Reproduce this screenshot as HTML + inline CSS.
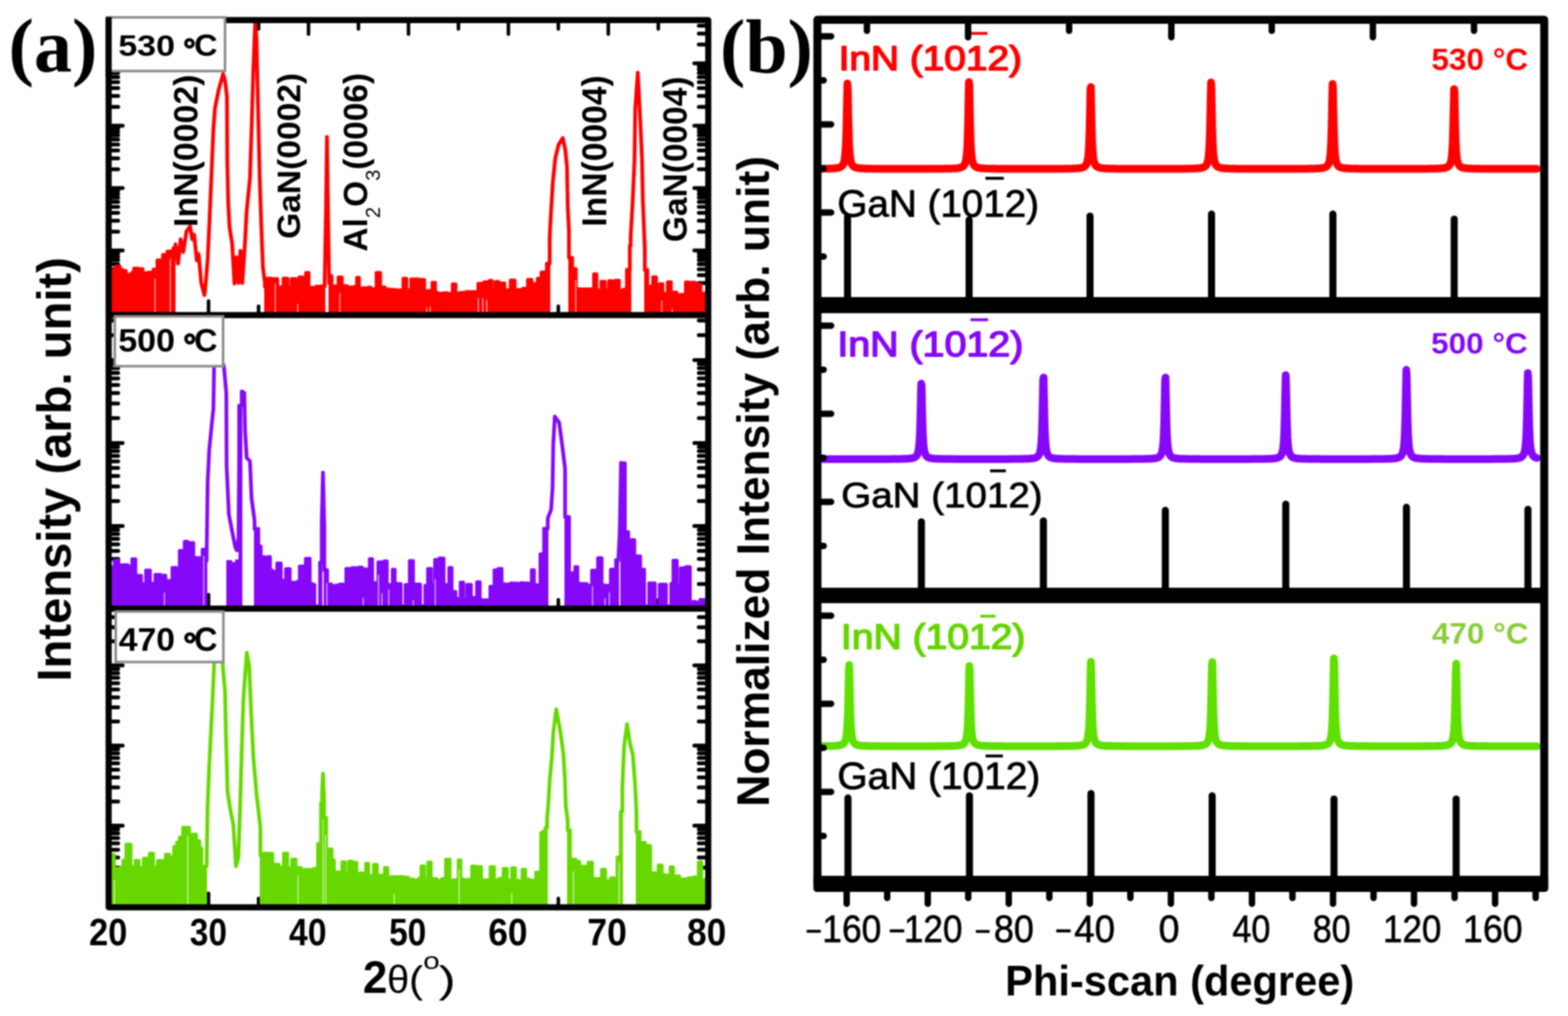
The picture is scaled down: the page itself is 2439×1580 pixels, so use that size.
<!DOCTYPE html>
<html><head><meta charset="utf-8"><title>XRD and Phi-scan</title>
<style>html,body{margin:0;padding:0;background:#fff;} svg{display:block;filter:blur(1px);}</style>
</head><body>
<svg width="2439" height="1580" viewBox="0 0 2439 1580"><defs>
<clipPath id="ca0"><rect x="169.0" y="31.3" width="932.7" height="458.7"/></clipPath>
<clipPath id="ca1"><rect x="169.0" y="490.0" width="932.7" height="456.5"/></clipPath>
<clipPath id="ca2"><rect x="169.0" y="946.5" width="932.7" height="464.5"/></clipPath>
</defs>
<line x1="246.7" y1="485.2" x2="246.7" y2="476.2" stroke="#000" stroke-width="5.5" stroke-linecap="round"/>
<line x1="246.7" y1="36.0" x2="246.7" y2="45.0" stroke="#000" stroke-width="5.5" stroke-linecap="round"/>
<line x1="324.4" y1="485.2" x2="324.4" y2="468.2" stroke="#000" stroke-width="5.5" stroke-linecap="round"/>
<line x1="324.4" y1="36.0" x2="324.4" y2="53.0" stroke="#000" stroke-width="5.5" stroke-linecap="round"/>
<line x1="402.2" y1="485.2" x2="402.2" y2="476.2" stroke="#000" stroke-width="5.5" stroke-linecap="round"/>
<line x1="402.2" y1="36.0" x2="402.2" y2="45.0" stroke="#000" stroke-width="5.5" stroke-linecap="round"/>
<line x1="479.9" y1="485.2" x2="479.9" y2="468.2" stroke="#000" stroke-width="5.5" stroke-linecap="round"/>
<line x1="479.9" y1="36.0" x2="479.9" y2="53.0" stroke="#000" stroke-width="5.5" stroke-linecap="round"/>
<line x1="557.6" y1="485.2" x2="557.6" y2="476.2" stroke="#000" stroke-width="5.5" stroke-linecap="round"/>
<line x1="557.6" y1="36.0" x2="557.6" y2="45.0" stroke="#000" stroke-width="5.5" stroke-linecap="round"/>
<line x1="635.4" y1="485.2" x2="635.4" y2="468.2" stroke="#000" stroke-width="5.5" stroke-linecap="round"/>
<line x1="635.4" y1="36.0" x2="635.4" y2="53.0" stroke="#000" stroke-width="5.5" stroke-linecap="round"/>
<line x1="713.1" y1="485.2" x2="713.1" y2="476.2" stroke="#000" stroke-width="5.5" stroke-linecap="round"/>
<line x1="713.1" y1="36.0" x2="713.1" y2="45.0" stroke="#000" stroke-width="5.5" stroke-linecap="round"/>
<line x1="790.8" y1="485.2" x2="790.8" y2="468.2" stroke="#000" stroke-width="5.5" stroke-linecap="round"/>
<line x1="790.8" y1="36.0" x2="790.8" y2="53.0" stroke="#000" stroke-width="5.5" stroke-linecap="round"/>
<line x1="868.5" y1="485.2" x2="868.5" y2="476.2" stroke="#000" stroke-width="5.5" stroke-linecap="round"/>
<line x1="868.5" y1="36.0" x2="868.5" y2="45.0" stroke="#000" stroke-width="5.5" stroke-linecap="round"/>
<line x1="946.2" y1="485.2" x2="946.2" y2="468.2" stroke="#000" stroke-width="5.5" stroke-linecap="round"/>
<line x1="946.2" y1="36.0" x2="946.2" y2="53.0" stroke="#000" stroke-width="5.5" stroke-linecap="round"/>
<line x1="1024.0" y1="485.2" x2="1024.0" y2="476.2" stroke="#000" stroke-width="5.5" stroke-linecap="round"/>
<line x1="1024.0" y1="36.0" x2="1024.0" y2="45.0" stroke="#000" stroke-width="5.5" stroke-linecap="round"/>
<line x1="173.8" y1="457.3" x2="183.8" y2="457.3" stroke="#000" stroke-width="6" stroke-linecap="round"/>
<line x1="1097.0" y1="457.3" x2="1087.0" y2="457.3" stroke="#000" stroke-width="6" stroke-linecap="round"/>
<line x1="173.8" y1="440.2" x2="183.8" y2="440.2" stroke="#000" stroke-width="6" stroke-linecap="round"/>
<line x1="1097.0" y1="440.2" x2="1087.0" y2="440.2" stroke="#000" stroke-width="6" stroke-linecap="round"/>
<line x1="173.8" y1="428.1" x2="183.8" y2="428.1" stroke="#000" stroke-width="6" stroke-linecap="round"/>
<line x1="1097.0" y1="428.1" x2="1087.0" y2="428.1" stroke="#000" stroke-width="6" stroke-linecap="round"/>
<line x1="173.8" y1="418.7" x2="183.8" y2="418.7" stroke="#000" stroke-width="6" stroke-linecap="round"/>
<line x1="1097.0" y1="418.7" x2="1087.0" y2="418.7" stroke="#000" stroke-width="6" stroke-linecap="round"/>
<line x1="173.8" y1="411.0" x2="183.8" y2="411.0" stroke="#000" stroke-width="6" stroke-linecap="round"/>
<line x1="1097.0" y1="411.0" x2="1087.0" y2="411.0" stroke="#000" stroke-width="6" stroke-linecap="round"/>
<line x1="173.8" y1="404.5" x2="183.8" y2="404.5" stroke="#000" stroke-width="6" stroke-linecap="round"/>
<line x1="1097.0" y1="404.5" x2="1087.0" y2="404.5" stroke="#000" stroke-width="6" stroke-linecap="round"/>
<line x1="173.8" y1="398.9" x2="183.8" y2="398.9" stroke="#000" stroke-width="6" stroke-linecap="round"/>
<line x1="1097.0" y1="398.9" x2="1087.0" y2="398.9" stroke="#000" stroke-width="6" stroke-linecap="round"/>
<line x1="173.8" y1="393.9" x2="183.8" y2="393.9" stroke="#000" stroke-width="6" stroke-linecap="round"/>
<line x1="1097.0" y1="393.9" x2="1087.0" y2="393.9" stroke="#000" stroke-width="6" stroke-linecap="round"/>
<line x1="173.8" y1="389.5" x2="190.8" y2="389.5" stroke="#000" stroke-width="6" stroke-linecap="round"/>
<line x1="1097.0" y1="389.5" x2="1080.0" y2="389.5" stroke="#000" stroke-width="6" stroke-linecap="round"/>
<line x1="173.8" y1="360.3" x2="183.8" y2="360.3" stroke="#000" stroke-width="6" stroke-linecap="round"/>
<line x1="1097.0" y1="360.3" x2="1087.0" y2="360.3" stroke="#000" stroke-width="6" stroke-linecap="round"/>
<line x1="173.8" y1="343.2" x2="183.8" y2="343.2" stroke="#000" stroke-width="6" stroke-linecap="round"/>
<line x1="1097.0" y1="343.2" x2="1087.0" y2="343.2" stroke="#000" stroke-width="6" stroke-linecap="round"/>
<line x1="173.8" y1="331.1" x2="183.8" y2="331.1" stroke="#000" stroke-width="6" stroke-linecap="round"/>
<line x1="1097.0" y1="331.1" x2="1087.0" y2="331.1" stroke="#000" stroke-width="6" stroke-linecap="round"/>
<line x1="173.8" y1="321.7" x2="183.8" y2="321.7" stroke="#000" stroke-width="6" stroke-linecap="round"/>
<line x1="1097.0" y1="321.7" x2="1087.0" y2="321.7" stroke="#000" stroke-width="6" stroke-linecap="round"/>
<line x1="173.8" y1="314.0" x2="183.8" y2="314.0" stroke="#000" stroke-width="6" stroke-linecap="round"/>
<line x1="1097.0" y1="314.0" x2="1087.0" y2="314.0" stroke="#000" stroke-width="6" stroke-linecap="round"/>
<line x1="173.8" y1="307.5" x2="183.8" y2="307.5" stroke="#000" stroke-width="6" stroke-linecap="round"/>
<line x1="1097.0" y1="307.5" x2="1087.0" y2="307.5" stroke="#000" stroke-width="6" stroke-linecap="round"/>
<line x1="173.8" y1="301.9" x2="183.8" y2="301.9" stroke="#000" stroke-width="6" stroke-linecap="round"/>
<line x1="1097.0" y1="301.9" x2="1087.0" y2="301.9" stroke="#000" stroke-width="6" stroke-linecap="round"/>
<line x1="173.8" y1="296.9" x2="183.8" y2="296.9" stroke="#000" stroke-width="6" stroke-linecap="round"/>
<line x1="1097.0" y1="296.9" x2="1087.0" y2="296.9" stroke="#000" stroke-width="6" stroke-linecap="round"/>
<line x1="173.8" y1="292.5" x2="190.8" y2="292.5" stroke="#000" stroke-width="6" stroke-linecap="round"/>
<line x1="1097.0" y1="292.5" x2="1080.0" y2="292.5" stroke="#000" stroke-width="6" stroke-linecap="round"/>
<line x1="173.8" y1="263.3" x2="183.8" y2="263.3" stroke="#000" stroke-width="6" stroke-linecap="round"/>
<line x1="1097.0" y1="263.3" x2="1087.0" y2="263.3" stroke="#000" stroke-width="6" stroke-linecap="round"/>
<line x1="173.8" y1="246.2" x2="183.8" y2="246.2" stroke="#000" stroke-width="6" stroke-linecap="round"/>
<line x1="1097.0" y1="246.2" x2="1087.0" y2="246.2" stroke="#000" stroke-width="6" stroke-linecap="round"/>
<line x1="173.8" y1="234.1" x2="183.8" y2="234.1" stroke="#000" stroke-width="6" stroke-linecap="round"/>
<line x1="1097.0" y1="234.1" x2="1087.0" y2="234.1" stroke="#000" stroke-width="6" stroke-linecap="round"/>
<line x1="173.8" y1="224.7" x2="183.8" y2="224.7" stroke="#000" stroke-width="6" stroke-linecap="round"/>
<line x1="1097.0" y1="224.7" x2="1087.0" y2="224.7" stroke="#000" stroke-width="6" stroke-linecap="round"/>
<line x1="173.8" y1="217.0" x2="183.8" y2="217.0" stroke="#000" stroke-width="6" stroke-linecap="round"/>
<line x1="1097.0" y1="217.0" x2="1087.0" y2="217.0" stroke="#000" stroke-width="6" stroke-linecap="round"/>
<line x1="173.8" y1="210.5" x2="183.8" y2="210.5" stroke="#000" stroke-width="6" stroke-linecap="round"/>
<line x1="1097.0" y1="210.5" x2="1087.0" y2="210.5" stroke="#000" stroke-width="6" stroke-linecap="round"/>
<line x1="173.8" y1="204.9" x2="183.8" y2="204.9" stroke="#000" stroke-width="6" stroke-linecap="round"/>
<line x1="1097.0" y1="204.9" x2="1087.0" y2="204.9" stroke="#000" stroke-width="6" stroke-linecap="round"/>
<line x1="173.8" y1="199.9" x2="183.8" y2="199.9" stroke="#000" stroke-width="6" stroke-linecap="round"/>
<line x1="1097.0" y1="199.9" x2="1087.0" y2="199.9" stroke="#000" stroke-width="6" stroke-linecap="round"/>
<line x1="173.8" y1="195.5" x2="190.8" y2="195.5" stroke="#000" stroke-width="6" stroke-linecap="round"/>
<line x1="1097.0" y1="195.5" x2="1080.0" y2="195.5" stroke="#000" stroke-width="6" stroke-linecap="round"/>
<line x1="173.8" y1="166.3" x2="183.8" y2="166.3" stroke="#000" stroke-width="6" stroke-linecap="round"/>
<line x1="1097.0" y1="166.3" x2="1087.0" y2="166.3" stroke="#000" stroke-width="6" stroke-linecap="round"/>
<line x1="173.8" y1="149.2" x2="183.8" y2="149.2" stroke="#000" stroke-width="6" stroke-linecap="round"/>
<line x1="1097.0" y1="149.2" x2="1087.0" y2="149.2" stroke="#000" stroke-width="6" stroke-linecap="round"/>
<line x1="173.8" y1="137.1" x2="183.8" y2="137.1" stroke="#000" stroke-width="6" stroke-linecap="round"/>
<line x1="1097.0" y1="137.1" x2="1087.0" y2="137.1" stroke="#000" stroke-width="6" stroke-linecap="round"/>
<line x1="173.8" y1="127.7" x2="183.8" y2="127.7" stroke="#000" stroke-width="6" stroke-linecap="round"/>
<line x1="1097.0" y1="127.7" x2="1087.0" y2="127.7" stroke="#000" stroke-width="6" stroke-linecap="round"/>
<line x1="173.8" y1="120.0" x2="183.8" y2="120.0" stroke="#000" stroke-width="6" stroke-linecap="round"/>
<line x1="1097.0" y1="120.0" x2="1087.0" y2="120.0" stroke="#000" stroke-width="6" stroke-linecap="round"/>
<line x1="173.8" y1="113.5" x2="183.8" y2="113.5" stroke="#000" stroke-width="6" stroke-linecap="round"/>
<line x1="1097.0" y1="113.5" x2="1087.0" y2="113.5" stroke="#000" stroke-width="6" stroke-linecap="round"/>
<line x1="173.8" y1="107.9" x2="183.8" y2="107.9" stroke="#000" stroke-width="6" stroke-linecap="round"/>
<line x1="1097.0" y1="107.9" x2="1087.0" y2="107.9" stroke="#000" stroke-width="6" stroke-linecap="round"/>
<line x1="173.8" y1="102.9" x2="183.8" y2="102.9" stroke="#000" stroke-width="6" stroke-linecap="round"/>
<line x1="1097.0" y1="102.9" x2="1087.0" y2="102.9" stroke="#000" stroke-width="6" stroke-linecap="round"/>
<line x1="173.8" y1="98.5" x2="190.8" y2="98.5" stroke="#000" stroke-width="6" stroke-linecap="round"/>
<line x1="1097.0" y1="98.5" x2="1080.0" y2="98.5" stroke="#000" stroke-width="6" stroke-linecap="round"/>
<line x1="173.8" y1="69.3" x2="183.8" y2="69.3" stroke="#000" stroke-width="6" stroke-linecap="round"/>
<line x1="1097.0" y1="69.3" x2="1087.0" y2="69.3" stroke="#000" stroke-width="6" stroke-linecap="round"/>
<line x1="173.8" y1="52.2" x2="183.8" y2="52.2" stroke="#000" stroke-width="6" stroke-linecap="round"/>
<line x1="1097.0" y1="52.2" x2="1087.0" y2="52.2" stroke="#000" stroke-width="6" stroke-linecap="round"/>
<line x1="173.8" y1="40.1" x2="183.8" y2="40.1" stroke="#000" stroke-width="6" stroke-linecap="round"/>
<line x1="1097.0" y1="40.1" x2="1087.0" y2="40.1" stroke="#000" stroke-width="6" stroke-linecap="round"/>
<line x1="246.7" y1="941.8" x2="246.7" y2="932.8" stroke="#000" stroke-width="5.5" stroke-linecap="round"/>
<line x1="324.4" y1="941.8" x2="324.4" y2="924.8" stroke="#000" stroke-width="5.5" stroke-linecap="round"/>
<line x1="402.2" y1="941.8" x2="402.2" y2="932.8" stroke="#000" stroke-width="5.5" stroke-linecap="round"/>
<line x1="479.9" y1="941.8" x2="479.9" y2="924.8" stroke="#000" stroke-width="5.5" stroke-linecap="round"/>
<line x1="557.6" y1="941.8" x2="557.6" y2="932.8" stroke="#000" stroke-width="5.5" stroke-linecap="round"/>
<line x1="635.4" y1="941.8" x2="635.4" y2="924.8" stroke="#000" stroke-width="5.5" stroke-linecap="round"/>
<line x1="713.1" y1="941.8" x2="713.1" y2="932.8" stroke="#000" stroke-width="5.5" stroke-linecap="round"/>
<line x1="790.8" y1="941.8" x2="790.8" y2="924.8" stroke="#000" stroke-width="5.5" stroke-linecap="round"/>
<line x1="868.5" y1="941.8" x2="868.5" y2="932.8" stroke="#000" stroke-width="5.5" stroke-linecap="round"/>
<line x1="946.2" y1="941.8" x2="946.2" y2="924.8" stroke="#000" stroke-width="5.5" stroke-linecap="round"/>
<line x1="1024.0" y1="941.8" x2="1024.0" y2="932.8" stroke="#000" stroke-width="5.5" stroke-linecap="round"/>
<line x1="173.8" y1="908.2" x2="183.8" y2="908.2" stroke="#000" stroke-width="6" stroke-linecap="round"/>
<line x1="1097.0" y1="908.2" x2="1087.0" y2="908.2" stroke="#000" stroke-width="6" stroke-linecap="round"/>
<line x1="173.8" y1="885.5" x2="183.8" y2="885.5" stroke="#000" stroke-width="6" stroke-linecap="round"/>
<line x1="1097.0" y1="885.5" x2="1087.0" y2="885.5" stroke="#000" stroke-width="6" stroke-linecap="round"/>
<line x1="173.8" y1="869.3" x2="183.8" y2="869.3" stroke="#000" stroke-width="6" stroke-linecap="round"/>
<line x1="1097.0" y1="869.3" x2="1087.0" y2="869.3" stroke="#000" stroke-width="6" stroke-linecap="round"/>
<line x1="173.8" y1="856.8" x2="183.8" y2="856.8" stroke="#000" stroke-width="6" stroke-linecap="round"/>
<line x1="1097.0" y1="856.8" x2="1087.0" y2="856.8" stroke="#000" stroke-width="6" stroke-linecap="round"/>
<line x1="173.8" y1="846.6" x2="183.8" y2="846.6" stroke="#000" stroke-width="6" stroke-linecap="round"/>
<line x1="1097.0" y1="846.6" x2="1087.0" y2="846.6" stroke="#000" stroke-width="6" stroke-linecap="round"/>
<line x1="173.8" y1="838.0" x2="183.8" y2="838.0" stroke="#000" stroke-width="6" stroke-linecap="round"/>
<line x1="1097.0" y1="838.0" x2="1087.0" y2="838.0" stroke="#000" stroke-width="6" stroke-linecap="round"/>
<line x1="173.8" y1="830.5" x2="183.8" y2="830.5" stroke="#000" stroke-width="6" stroke-linecap="round"/>
<line x1="1097.0" y1="830.5" x2="1087.0" y2="830.5" stroke="#000" stroke-width="6" stroke-linecap="round"/>
<line x1="173.8" y1="823.9" x2="183.8" y2="823.9" stroke="#000" stroke-width="6" stroke-linecap="round"/>
<line x1="1097.0" y1="823.9" x2="1087.0" y2="823.9" stroke="#000" stroke-width="6" stroke-linecap="round"/>
<line x1="173.8" y1="818.0" x2="190.8" y2="818.0" stroke="#000" stroke-width="6" stroke-linecap="round"/>
<line x1="1097.0" y1="818.0" x2="1080.0" y2="818.0" stroke="#000" stroke-width="6" stroke-linecap="round"/>
<line x1="173.8" y1="779.2" x2="183.8" y2="779.2" stroke="#000" stroke-width="6" stroke-linecap="round"/>
<line x1="1097.0" y1="779.2" x2="1087.0" y2="779.2" stroke="#000" stroke-width="6" stroke-linecap="round"/>
<line x1="173.8" y1="756.5" x2="183.8" y2="756.5" stroke="#000" stroke-width="6" stroke-linecap="round"/>
<line x1="1097.0" y1="756.5" x2="1087.0" y2="756.5" stroke="#000" stroke-width="6" stroke-linecap="round"/>
<line x1="173.8" y1="740.3" x2="183.8" y2="740.3" stroke="#000" stroke-width="6" stroke-linecap="round"/>
<line x1="1097.0" y1="740.3" x2="1087.0" y2="740.3" stroke="#000" stroke-width="6" stroke-linecap="round"/>
<line x1="173.8" y1="727.8" x2="183.8" y2="727.8" stroke="#000" stroke-width="6" stroke-linecap="round"/>
<line x1="1097.0" y1="727.8" x2="1087.0" y2="727.8" stroke="#000" stroke-width="6" stroke-linecap="round"/>
<line x1="173.8" y1="717.6" x2="183.8" y2="717.6" stroke="#000" stroke-width="6" stroke-linecap="round"/>
<line x1="1097.0" y1="717.6" x2="1087.0" y2="717.6" stroke="#000" stroke-width="6" stroke-linecap="round"/>
<line x1="173.8" y1="709.0" x2="183.8" y2="709.0" stroke="#000" stroke-width="6" stroke-linecap="round"/>
<line x1="1097.0" y1="709.0" x2="1087.0" y2="709.0" stroke="#000" stroke-width="6" stroke-linecap="round"/>
<line x1="173.8" y1="701.5" x2="183.8" y2="701.5" stroke="#000" stroke-width="6" stroke-linecap="round"/>
<line x1="1097.0" y1="701.5" x2="1087.0" y2="701.5" stroke="#000" stroke-width="6" stroke-linecap="round"/>
<line x1="173.8" y1="694.9" x2="183.8" y2="694.9" stroke="#000" stroke-width="6" stroke-linecap="round"/>
<line x1="1097.0" y1="694.9" x2="1087.0" y2="694.9" stroke="#000" stroke-width="6" stroke-linecap="round"/>
<line x1="173.8" y1="689.0" x2="190.8" y2="689.0" stroke="#000" stroke-width="6" stroke-linecap="round"/>
<line x1="1097.0" y1="689.0" x2="1080.0" y2="689.0" stroke="#000" stroke-width="6" stroke-linecap="round"/>
<line x1="173.8" y1="650.2" x2="183.8" y2="650.2" stroke="#000" stroke-width="6" stroke-linecap="round"/>
<line x1="1097.0" y1="650.2" x2="1087.0" y2="650.2" stroke="#000" stroke-width="6" stroke-linecap="round"/>
<line x1="173.8" y1="627.5" x2="183.8" y2="627.5" stroke="#000" stroke-width="6" stroke-linecap="round"/>
<line x1="1097.0" y1="627.5" x2="1087.0" y2="627.5" stroke="#000" stroke-width="6" stroke-linecap="round"/>
<line x1="173.8" y1="611.3" x2="183.8" y2="611.3" stroke="#000" stroke-width="6" stroke-linecap="round"/>
<line x1="1097.0" y1="611.3" x2="1087.0" y2="611.3" stroke="#000" stroke-width="6" stroke-linecap="round"/>
<line x1="173.8" y1="598.8" x2="183.8" y2="598.8" stroke="#000" stroke-width="6" stroke-linecap="round"/>
<line x1="1097.0" y1="598.8" x2="1087.0" y2="598.8" stroke="#000" stroke-width="6" stroke-linecap="round"/>
<line x1="173.8" y1="588.6" x2="183.8" y2="588.6" stroke="#000" stroke-width="6" stroke-linecap="round"/>
<line x1="1097.0" y1="588.6" x2="1087.0" y2="588.6" stroke="#000" stroke-width="6" stroke-linecap="round"/>
<line x1="173.8" y1="580.0" x2="183.8" y2="580.0" stroke="#000" stroke-width="6" stroke-linecap="round"/>
<line x1="1097.0" y1="580.0" x2="1087.0" y2="580.0" stroke="#000" stroke-width="6" stroke-linecap="round"/>
<line x1="173.8" y1="572.5" x2="183.8" y2="572.5" stroke="#000" stroke-width="6" stroke-linecap="round"/>
<line x1="1097.0" y1="572.5" x2="1087.0" y2="572.5" stroke="#000" stroke-width="6" stroke-linecap="round"/>
<line x1="173.8" y1="565.9" x2="183.8" y2="565.9" stroke="#000" stroke-width="6" stroke-linecap="round"/>
<line x1="1097.0" y1="565.9" x2="1087.0" y2="565.9" stroke="#000" stroke-width="6" stroke-linecap="round"/>
<line x1="173.8" y1="560.0" x2="190.8" y2="560.0" stroke="#000" stroke-width="6" stroke-linecap="round"/>
<line x1="1097.0" y1="560.0" x2="1080.0" y2="560.0" stroke="#000" stroke-width="6" stroke-linecap="round"/>
<line x1="173.8" y1="521.2" x2="183.8" y2="521.2" stroke="#000" stroke-width="6" stroke-linecap="round"/>
<line x1="1097.0" y1="521.2" x2="1087.0" y2="521.2" stroke="#000" stroke-width="6" stroke-linecap="round"/>
<line x1="173.8" y1="498.5" x2="183.8" y2="498.5" stroke="#000" stroke-width="6" stroke-linecap="round"/>
<line x1="1097.0" y1="498.5" x2="1087.0" y2="498.5" stroke="#000" stroke-width="6" stroke-linecap="round"/>
<line x1="246.7" y1="1406.2" x2="246.7" y2="1397.2" stroke="#000" stroke-width="5.5" stroke-linecap="round"/>
<line x1="324.4" y1="1406.2" x2="324.4" y2="1389.2" stroke="#000" stroke-width="5.5" stroke-linecap="round"/>
<line x1="402.2" y1="1406.2" x2="402.2" y2="1397.2" stroke="#000" stroke-width="5.5" stroke-linecap="round"/>
<line x1="479.9" y1="1406.2" x2="479.9" y2="1389.2" stroke="#000" stroke-width="5.5" stroke-linecap="round"/>
<line x1="557.6" y1="1406.2" x2="557.6" y2="1397.2" stroke="#000" stroke-width="5.5" stroke-linecap="round"/>
<line x1="635.4" y1="1406.2" x2="635.4" y2="1389.2" stroke="#000" stroke-width="5.5" stroke-linecap="round"/>
<line x1="713.1" y1="1406.2" x2="713.1" y2="1397.2" stroke="#000" stroke-width="5.5" stroke-linecap="round"/>
<line x1="790.8" y1="1406.2" x2="790.8" y2="1389.2" stroke="#000" stroke-width="5.5" stroke-linecap="round"/>
<line x1="868.5" y1="1406.2" x2="868.5" y2="1397.2" stroke="#000" stroke-width="5.5" stroke-linecap="round"/>
<line x1="946.2" y1="1406.2" x2="946.2" y2="1389.2" stroke="#000" stroke-width="5.5" stroke-linecap="round"/>
<line x1="1024.0" y1="1406.2" x2="1024.0" y2="1397.2" stroke="#000" stroke-width="5.5" stroke-linecap="round"/>
<line x1="173.8" y1="1371.1" x2="183.8" y2="1371.1" stroke="#000" stroke-width="6" stroke-linecap="round"/>
<line x1="1097.0" y1="1371.1" x2="1087.0" y2="1371.1" stroke="#000" stroke-width="6" stroke-linecap="round"/>
<line x1="173.8" y1="1349.2" x2="183.8" y2="1349.2" stroke="#000" stroke-width="6" stroke-linecap="round"/>
<line x1="1097.0" y1="1349.2" x2="1087.0" y2="1349.2" stroke="#000" stroke-width="6" stroke-linecap="round"/>
<line x1="173.8" y1="1333.6" x2="183.8" y2="1333.6" stroke="#000" stroke-width="6" stroke-linecap="round"/>
<line x1="1097.0" y1="1333.6" x2="1087.0" y2="1333.6" stroke="#000" stroke-width="6" stroke-linecap="round"/>
<line x1="173.8" y1="1321.5" x2="183.8" y2="1321.5" stroke="#000" stroke-width="6" stroke-linecap="round"/>
<line x1="1097.0" y1="1321.5" x2="1087.0" y2="1321.5" stroke="#000" stroke-width="6" stroke-linecap="round"/>
<line x1="173.8" y1="1311.6" x2="183.8" y2="1311.6" stroke="#000" stroke-width="6" stroke-linecap="round"/>
<line x1="1097.0" y1="1311.6" x2="1087.0" y2="1311.6" stroke="#000" stroke-width="6" stroke-linecap="round"/>
<line x1="173.8" y1="1303.3" x2="183.8" y2="1303.3" stroke="#000" stroke-width="6" stroke-linecap="round"/>
<line x1="1097.0" y1="1303.3" x2="1087.0" y2="1303.3" stroke="#000" stroke-width="6" stroke-linecap="round"/>
<line x1="173.8" y1="1296.1" x2="183.8" y2="1296.1" stroke="#000" stroke-width="6" stroke-linecap="round"/>
<line x1="1097.0" y1="1296.1" x2="1087.0" y2="1296.1" stroke="#000" stroke-width="6" stroke-linecap="round"/>
<line x1="173.8" y1="1289.7" x2="183.8" y2="1289.7" stroke="#000" stroke-width="6" stroke-linecap="round"/>
<line x1="1097.0" y1="1289.7" x2="1087.0" y2="1289.7" stroke="#000" stroke-width="6" stroke-linecap="round"/>
<line x1="173.8" y1="1284.0" x2="190.8" y2="1284.0" stroke="#000" stroke-width="6" stroke-linecap="round"/>
<line x1="1097.0" y1="1284.0" x2="1080.0" y2="1284.0" stroke="#000" stroke-width="6" stroke-linecap="round"/>
<line x1="173.8" y1="1246.5" x2="183.8" y2="1246.5" stroke="#000" stroke-width="6" stroke-linecap="round"/>
<line x1="1097.0" y1="1246.5" x2="1087.0" y2="1246.5" stroke="#000" stroke-width="6" stroke-linecap="round"/>
<line x1="173.8" y1="1224.6" x2="183.8" y2="1224.6" stroke="#000" stroke-width="6" stroke-linecap="round"/>
<line x1="1097.0" y1="1224.6" x2="1087.0" y2="1224.6" stroke="#000" stroke-width="6" stroke-linecap="round"/>
<line x1="173.8" y1="1209.0" x2="183.8" y2="1209.0" stroke="#000" stroke-width="6" stroke-linecap="round"/>
<line x1="1097.0" y1="1209.0" x2="1087.0" y2="1209.0" stroke="#000" stroke-width="6" stroke-linecap="round"/>
<line x1="173.8" y1="1196.9" x2="183.8" y2="1196.9" stroke="#000" stroke-width="6" stroke-linecap="round"/>
<line x1="1097.0" y1="1196.9" x2="1087.0" y2="1196.9" stroke="#000" stroke-width="6" stroke-linecap="round"/>
<line x1="173.8" y1="1187.0" x2="183.8" y2="1187.0" stroke="#000" stroke-width="6" stroke-linecap="round"/>
<line x1="1097.0" y1="1187.0" x2="1087.0" y2="1187.0" stroke="#000" stroke-width="6" stroke-linecap="round"/>
<line x1="173.8" y1="1178.7" x2="183.8" y2="1178.7" stroke="#000" stroke-width="6" stroke-linecap="round"/>
<line x1="1097.0" y1="1178.7" x2="1087.0" y2="1178.7" stroke="#000" stroke-width="6" stroke-linecap="round"/>
<line x1="173.8" y1="1171.5" x2="183.8" y2="1171.5" stroke="#000" stroke-width="6" stroke-linecap="round"/>
<line x1="1097.0" y1="1171.5" x2="1087.0" y2="1171.5" stroke="#000" stroke-width="6" stroke-linecap="round"/>
<line x1="173.8" y1="1165.1" x2="183.8" y2="1165.1" stroke="#000" stroke-width="6" stroke-linecap="round"/>
<line x1="1097.0" y1="1165.1" x2="1087.0" y2="1165.1" stroke="#000" stroke-width="6" stroke-linecap="round"/>
<line x1="173.8" y1="1159.4" x2="190.8" y2="1159.4" stroke="#000" stroke-width="6" stroke-linecap="round"/>
<line x1="1097.0" y1="1159.4" x2="1080.0" y2="1159.4" stroke="#000" stroke-width="6" stroke-linecap="round"/>
<line x1="173.8" y1="1121.9" x2="183.8" y2="1121.9" stroke="#000" stroke-width="6" stroke-linecap="round"/>
<line x1="1097.0" y1="1121.9" x2="1087.0" y2="1121.9" stroke="#000" stroke-width="6" stroke-linecap="round"/>
<line x1="173.8" y1="1100.0" x2="183.8" y2="1100.0" stroke="#000" stroke-width="6" stroke-linecap="round"/>
<line x1="1097.0" y1="1100.0" x2="1087.0" y2="1100.0" stroke="#000" stroke-width="6" stroke-linecap="round"/>
<line x1="173.8" y1="1084.4" x2="183.8" y2="1084.4" stroke="#000" stroke-width="6" stroke-linecap="round"/>
<line x1="1097.0" y1="1084.4" x2="1087.0" y2="1084.4" stroke="#000" stroke-width="6" stroke-linecap="round"/>
<line x1="173.8" y1="1072.3" x2="183.8" y2="1072.3" stroke="#000" stroke-width="6" stroke-linecap="round"/>
<line x1="1097.0" y1="1072.3" x2="1087.0" y2="1072.3" stroke="#000" stroke-width="6" stroke-linecap="round"/>
<line x1="173.8" y1="1062.4" x2="183.8" y2="1062.4" stroke="#000" stroke-width="6" stroke-linecap="round"/>
<line x1="1097.0" y1="1062.4" x2="1087.0" y2="1062.4" stroke="#000" stroke-width="6" stroke-linecap="round"/>
<line x1="173.8" y1="1054.1" x2="183.8" y2="1054.1" stroke="#000" stroke-width="6" stroke-linecap="round"/>
<line x1="1097.0" y1="1054.1" x2="1087.0" y2="1054.1" stroke="#000" stroke-width="6" stroke-linecap="round"/>
<line x1="173.8" y1="1046.9" x2="183.8" y2="1046.9" stroke="#000" stroke-width="6" stroke-linecap="round"/>
<line x1="1097.0" y1="1046.9" x2="1087.0" y2="1046.9" stroke="#000" stroke-width="6" stroke-linecap="round"/>
<line x1="173.8" y1="1040.5" x2="183.8" y2="1040.5" stroke="#000" stroke-width="6" stroke-linecap="round"/>
<line x1="1097.0" y1="1040.5" x2="1087.0" y2="1040.5" stroke="#000" stroke-width="6" stroke-linecap="round"/>
<line x1="173.8" y1="1034.8" x2="190.8" y2="1034.8" stroke="#000" stroke-width="6" stroke-linecap="round"/>
<line x1="1097.0" y1="1034.8" x2="1080.0" y2="1034.8" stroke="#000" stroke-width="6" stroke-linecap="round"/>
<line x1="173.8" y1="997.3" x2="183.8" y2="997.3" stroke="#000" stroke-width="6" stroke-linecap="round"/>
<line x1="1097.0" y1="997.3" x2="1087.0" y2="997.3" stroke="#000" stroke-width="6" stroke-linecap="round"/>
<line x1="173.8" y1="975.4" x2="183.8" y2="975.4" stroke="#000" stroke-width="6" stroke-linecap="round"/>
<line x1="1097.0" y1="975.4" x2="1087.0" y2="975.4" stroke="#000" stroke-width="6" stroke-linecap="round"/>
<line x1="173.8" y1="959.8" x2="183.8" y2="959.8" stroke="#000" stroke-width="6" stroke-linecap="round"/>
<line x1="1097.0" y1="959.8" x2="1087.0" y2="959.8" stroke="#000" stroke-width="6" stroke-linecap="round"/>
<g clip-path="url(#ca0)">
<path d="M171.0,486.2 L171.0,420.5 L180.2,420.5 L180.2,414.6 L186.3,414.6 L186.3,419.6 L191.1,419.6 L191.1,421.4 L195.8,421.4 L195.8,427.2 L205.7,427.2 L205.7,423.9 L208.6,423.9 L208.6,417.6 L214.8,417.6 L214.8,424.3 L217.4,424.3 L217.4,418.4 L221.7,418.4 L221.7,425.0 L230.8,425.0 L230.8,424.0 L238.8,424.0 L238.8,419.2 L244.9,419.2 L244.9,404.8 L253.5,404.8 L253.5,396.3 L260.5,396.3 L260.5,391.2 L265.1,391.2 L265.1,390.8 L269.8,390.8 L269.8,385.8 L272.0,385.8 L272.0,486.2 Z" fill="#ff0000" stroke="#ff0000" stroke-width="2"/>
<path d="M412.0,486.2 L412.0,445.7 L416.0,445.7 L416.0,433.1 L422.0,433.1 L422.0,444.1 L426.3,444.1 L426.3,434.0 L431.3,434.0 L431.3,446.7 L441.0,446.7 L441.0,433.2 L447.1,433.2 L447.1,447.1 L453.5,447.1 L453.5,434.0 L459.7,434.0 L459.7,447.3 L465.4,447.3 L465.4,431.3 L470.9,431.3 L470.9,447.9 L476.0,447.9 L476.0,424.5 L480.0,424.5 L480.0,447.6 L486.4,447.6 L486.4,447.6 L492.1,447.6 L492.1,445.7 L495.1,445.7 L495.1,447.3 L499.5,447.3 L499.5,445.2 L505.0,445.2 L505.0,486.2 Z" fill="#ff0000" stroke="#ff0000" stroke-width="2"/>
<path d="M512.0,486.2 L512.0,429.1 L515.7,429.1 L515.7,446.5 L519.1,446.5 L519.1,445.4 L526.5,445.4 L526.5,431.5 L531.7,431.5 L531.7,445.0 L539.7,445.0 L539.7,447.0 L548.8,447.0 L548.8,486.2 L550.9,486.2 L550.9,446.1 L555.3,446.1 L555.3,432.0 L558.4,432.0 L558.4,449.3 L563.2,449.3 L563.2,448.1 L570.7,448.1 L570.7,449.1 L573.5,449.1 L573.5,447.2 L576.4,447.2 L576.4,486.2 L580.9,486.2 L580.9,449.7 L585.7,449.7 L585.7,424.5 L591.4,424.5 L591.4,446.8 L598.5,446.8 L598.5,450.1 L607.2,450.1 L607.2,450.8 L616.2,450.8 L616.2,486.2 L620.8,486.2 L620.8,451.5 L627.5,451.5 L627.5,433.3 L632.1,433.3 L632.1,451.3 L639.6,451.3 L639.6,434.4 L644.4,434.4 L644.4,451.7 L647.6,451.7 L647.6,434.3 L650.8,434.3 L650.8,453.1 L653.9,453.1 L653.9,435.1 L659.8,435.1 L659.8,453.2 L665.2,453.2 L665.2,452.3 L672.7,452.3 L672.7,439.6 L676.7,439.6 L676.7,455.3 L680.5,455.3 L680.5,456.7 L690.5,456.7 L690.5,456.0 L696.0,456.0 L696.0,457.1 L704.2,457.1 L704.2,442.1 L708.6,442.1 L708.6,457.1 L715.2,457.1 L715.2,455.4 L724.6,455.4 L724.6,454.2 L734.6,454.2 L734.6,454.1 L744.0,454.1 L744.0,441.2 L749.0,441.2 L749.0,456.6 L753.1,456.6 L753.1,439.0 L757.2,439.0 L757.2,454.2 L761.6,454.2 L761.6,436.7 L764.7,436.7 L764.7,452.6 L770.8,452.6 L770.8,438.5 L775.7,438.5 L775.7,454.8 L781.1,454.8 L781.1,440.7 L784.6,440.7 L784.6,451.3 L794.4,451.3 L794.4,436.2 L800.6,436.2 L800.6,451.2 L804.9,451.2 L804.9,451.0 L813.6,451.0 L813.6,449.0 L821.2,449.0 L821.2,435.1 L826.8,435.1 L826.8,441.6 L836.4,441.6 L836.4,433.3 L842.2,433.3 L842.2,423.6 L850.7,423.6 L850.7,409.8 L855.0,409.8 L855.0,486.2 Z" fill="#ff0000" stroke="#ff0000" stroke-width="2"/>
<path d="M885.0,486.2 L885.0,400.8 L890.0,400.8 L890.0,418.3 L895.7,418.3 L895.7,449.7 L903.6,449.7 L903.6,486.2 L907.9,486.2 L907.9,449.9 L917.4,449.9 L917.4,450.0 L924.0,450.0 L924.0,426.5 L927.7,426.5 L927.7,452.2 L935.5,452.2 L935.5,438.1 L940.7,438.1 L940.7,451.5 L947.3,451.5 L947.3,437.1 L952.0,437.1 L952.0,453.6 L957.3,453.6 L957.3,436.5 L962.8,436.5 L962.8,452.8 L969.5,452.8 L969.5,450.5 L975.2,450.5 L975.2,419.5 L979.7,419.5 L979.7,381.9 L981.0,381.9 L981.0,486.2 Z" fill="#ff0000" stroke="#ff0000" stroke-width="2"/>
<path d="M1003.0,486.2 L1003.0,419.7 L1006.9,419.7 L1006.9,445.6 L1015.9,445.6 L1015.9,431.1 L1020.4,431.1 L1020.4,455.5 L1026.3,455.5 L1026.3,441.8 L1030.5,441.8 L1030.5,457.2 L1033.4,457.2 L1033.4,457.1 L1038.8,457.1 L1038.8,438.8 L1043.6,438.8 L1043.6,455.5 L1048.4,455.5 L1048.4,455.0 L1052.3,455.0 L1052.3,459.1 L1058.5,459.1 L1058.5,458.4 L1066.8,458.4 L1066.8,439.2 L1071.3,439.2 L1071.3,455.6 L1074.8,455.6 L1074.8,439.6 L1081.2,439.6 L1081.2,457.5 L1083.8,457.5 L1083.8,442.5 L1089.6,442.5 L1089.6,456.3 L1098.2,456.3 L1098.2,486.2 Z" fill="#ff0000" stroke="#ff0000" stroke-width="2"/>
<path d="M171.0,420.5 L180.2,420.5 L180.2,414.6 L186.3,414.6 L186.3,419.6 L191.1,419.6 L191.1,421.4 L195.8,421.4 L195.8,427.2 L205.7,427.2 L205.7,423.9 L208.6,423.9 L208.6,417.6 L214.8,417.6 L214.8,424.3 L217.4,424.3 L217.4,418.4 L221.7,418.4 L221.7,425.0 L230.8,425.0 L230.8,424.0 L238.8,424.0 L238.8,419.2 L244.9,419.2 L244.9,404.8 L253.5,404.8 L253.5,396.3 L260.5,396.3 L260.5,391.2 L265.1,391.2 L265.1,390.8 L269.8,390.8 L269.8,385.8 L272.0,385.8 L272.0,388.0 L273.0,380.0 L277.0,410.0 L281.0,372.0 L285.0,392.0 L290.0,360.0 L295.7,352.0 L299.0,372.0 L302.0,365.0 L306.0,405.0 L309.0,395.0 L313.0,440.0 L318.0,459.0 L320.0,440.0 L323.0,404.0 L326.0,340.0 L329.0,270.0 L332.0,200.0 L334.4,168.0 L340.0,140.0 L347.0,115.0 L350.0,125.0 L353.0,150.0 L353.5,252.0 L355.0,315.0 L357.0,353.0 L361.0,378.0 L364.7,441.0 L368.0,400.0 L371.0,440.0 L374.0,390.0 L377.0,440.0 L381.0,378.0 L383.7,328.0 L388.8,277.0 L391.3,201.0 L394.0,110.0 L397.0,34.0 L399.0,60.0 L401.4,168.0 L404.0,277.0 L406.5,353.0 L409.0,416.0 L412.0,440.0 L412.0,445.7 L416.0,445.7 L416.0,433.1 L422.0,433.1 L422.0,444.1 L426.3,444.1 L426.3,434.0 L431.3,434.0 L431.3,446.7 L441.0,446.7 L441.0,433.2 L447.1,433.2 L447.1,447.1 L453.5,447.1 L453.5,434.0 L459.7,434.0 L459.7,447.3 L465.4,447.3 L465.4,431.3 L470.9,431.3 L470.9,447.9 L476.0,447.9 L476.0,424.5 L480.0,424.5 L480.0,447.6 L486.4,447.6 L486.4,447.6 L492.1,447.6 L492.1,445.7 L495.1,445.7 L495.1,447.3 L499.5,447.3 L499.5,445.2 L505.0,445.2 L505.0,440.0 L507.0,330.0 L508.6,213.0 L510.2,330.0 L512.0,440.0 L512.0,429.1 L515.7,429.1 L515.7,446.5 L519.1,446.5 L519.1,445.4 L526.5,445.4 L526.5,431.5 L531.7,431.5 L531.7,445.0 L539.7,445.0 L539.7,447.0 L548.8,447.0 L548.8,486.2 L550.9,486.2 L550.9,446.1 L555.3,446.1 L555.3,432.0 L558.4,432.0 L558.4,449.3 L563.2,449.3 L563.2,448.1 L570.7,448.1 L570.7,449.1 L573.5,449.1 L573.5,447.2 L576.4,447.2 L576.4,486.2 L580.9,486.2 L580.9,449.7 L585.7,449.7 L585.7,424.5 L591.4,424.5 L591.4,446.8 L598.5,446.8 L598.5,450.1 L607.2,450.1 L607.2,450.8 L616.2,450.8 L616.2,486.2 L620.8,486.2 L620.8,451.5 L627.5,451.5 L627.5,433.3 L632.1,433.3 L632.1,451.3 L639.6,451.3 L639.6,434.4 L644.4,434.4 L644.4,451.7 L647.6,451.7 L647.6,434.3 L650.8,434.3 L650.8,453.1 L653.9,453.1 L653.9,435.1 L659.8,435.1 L659.8,453.2 L665.2,453.2 L665.2,452.3 L672.7,452.3 L672.7,439.6 L676.7,439.6 L676.7,455.3 L680.5,455.3 L680.5,456.7 L690.5,456.7 L690.5,456.0 L696.0,456.0 L696.0,457.1 L704.2,457.1 L704.2,442.1 L708.6,442.1 L708.6,457.1 L715.2,457.1 L715.2,455.4 L724.6,455.4 L724.6,454.2 L734.6,454.2 L734.6,454.1 L744.0,454.1 L744.0,441.2 L749.0,441.2 L749.0,456.6 L753.1,456.6 L753.1,439.0 L757.2,439.0 L757.2,454.2 L761.6,454.2 L761.6,436.7 L764.7,436.7 L764.7,452.6 L770.8,452.6 L770.8,438.5 L775.7,438.5 L775.7,454.8 L781.1,454.8 L781.1,440.7 L784.6,440.7 L784.6,451.3 L794.4,451.3 L794.4,436.2 L800.6,436.2 L800.6,451.2 L804.9,451.2 L804.9,451.0 L813.6,451.0 L813.6,449.0 L821.2,449.0 L821.2,435.1 L826.8,435.1 L826.8,441.6 L836.4,441.6 L836.4,433.3 L842.2,433.3 L842.2,423.6 L850.7,423.6 L850.7,409.8 L855.0,409.8 L855.0,371.2 L856.0,349.0 L859.8,285.0 L863.7,246.0 L868.9,225.0 L875.4,214.5 L879.3,233.0 L881.9,259.0 L883.2,323.0 L885.0,359.0 L885.0,400.8 L890.0,400.8 L890.0,418.3 L895.7,418.3 L895.7,449.7 L903.6,449.7 L903.6,486.2 L907.9,486.2 L907.9,449.9 L917.4,449.9 L917.4,450.0 L924.0,450.0 L924.0,426.5 L927.7,426.5 L927.7,452.2 L935.5,452.2 L935.5,438.1 L940.7,438.1 L940.7,451.5 L947.3,451.5 L947.3,437.1 L952.0,437.1 L952.0,453.6 L957.3,453.6 L957.3,436.5 L962.8,436.5 L962.8,452.8 L969.5,452.8 L969.5,450.5 L975.2,450.5 L975.2,419.5 L979.7,419.5 L979.7,381.9 L981.0,381.9 L981.0,366.4 L984.3,310.0 L987.0,246.0 L988.2,168.0 L992.1,113.0 L996.0,189.0 L998.6,246.0 L999.9,310.0 L1002.5,375.0 L1003.0,387.5 L1003.0,419.7 L1006.9,419.7 L1006.9,445.6 L1015.9,445.6 L1015.9,431.1 L1020.4,431.1 L1020.4,455.5 L1026.3,455.5 L1026.3,441.8 L1030.5,441.8 L1030.5,457.2 L1033.4,457.2 L1033.4,457.1 L1038.8,457.1 L1038.8,438.8 L1043.6,438.8 L1043.6,455.5 L1048.4,455.5 L1048.4,455.0 L1052.3,455.0 L1052.3,459.1 L1058.5,459.1 L1058.5,458.4 L1066.8,458.4 L1066.8,439.2 L1071.3,439.2 L1071.3,455.6 L1074.8,455.6 L1074.8,439.6 L1081.2,439.6 L1081.2,457.5 L1083.8,457.5 L1083.8,442.5 L1089.6,442.5 L1089.6,456.3 L1098.2,456.3" fill="none" stroke="#ff0000" stroke-width="5.8" stroke-linejoin="round"/>
<line x1="241.2" y1="432.9" x2="241.2" y2="486.2" stroke="#fff" stroke-opacity="0.75" stroke-width="1.6"/>
<line x1="264.9" y1="402.3" x2="264.9" y2="486.2" stroke="#fff" stroke-opacity="0.75" stroke-width="1.6"/>
<line x1="428.2" y1="440.7" x2="428.2" y2="486.2" stroke="#fff" stroke-opacity="0.75" stroke-width="1.6"/>
<line x1="463.3" y1="472.3" x2="463.3" y2="486.2" stroke="#fff" stroke-opacity="0.75" stroke-width="1.6"/>
<line x1="528.6" y1="455.8" x2="528.6" y2="486.2" stroke="#fff" stroke-opacity="0.75" stroke-width="1.6"/>
<line x1="663.7" y1="477.9" x2="663.7" y2="486.2" stroke="#fff" stroke-opacity="0.75" stroke-width="1.6"/>
<line x1="669.1" y1="476.5" x2="669.1" y2="486.2" stroke="#fff" stroke-opacity="0.75" stroke-width="1.6"/>
<line x1="743.9" y1="462.9" x2="743.9" y2="486.2" stroke="#fff" stroke-opacity="0.75" stroke-width="1.6"/>
<line x1="750.9" y1="463.4" x2="750.9" y2="486.2" stroke="#fff" stroke-opacity="0.75" stroke-width="1.6"/>
<line x1="757.2" y1="466.3" x2="757.2" y2="486.2" stroke="#fff" stroke-opacity="0.75" stroke-width="1.6"/>
<line x1="895.5" y1="435.5" x2="895.5" y2="486.2" stroke="#fff" stroke-opacity="0.75" stroke-width="1.6"/>
<line x1="1029.4" y1="467.5" x2="1029.4" y2="486.2" stroke="#fff" stroke-opacity="0.75" stroke-width="1.6"/>
<line x1="1045.6" y1="480.0" x2="1045.6" y2="486.2" stroke="#fff" stroke-opacity="0.75" stroke-width="1.6"/>
</g>
<g clip-path="url(#ca1)">
<path d="M171.0,942.8 L171.0,882.5 L178.5,882.5 L178.5,871.7 L184.2,871.7 L184.2,886.2 L189.1,886.2 L189.1,879.0 L199.0,879.0 L199.0,881.5 L205.8,881.5 L205.8,869.7 L210.6,869.7 L210.6,895.3 L219.5,895.3 L219.5,942.8 L222.4,942.8 L222.4,908.7 L227.2,908.7 L227.2,887.1 L233.3,887.1 L233.3,907.7 L241.7,907.7 L241.7,893.8 L249.4,893.8 L249.4,895.8 L253.9,895.8 L253.9,895.1 L257.3,895.1 L257.3,942.8 L261.2,942.8 L261.2,903.5 L268.2,903.5 L268.2,883.2 L274.3,883.2 L274.3,893.2 L279.6,893.2 L279.6,856.6 L282.7,856.6 L282.7,865.9 L287.3,865.9 L287.3,842.4 L291.3,842.4 L291.3,849.0 L295.1,849.0 L295.1,844.5 L300.7,844.5 L300.7,872.8 L303.7,872.8 L303.7,867.6 L309.5,867.6 L309.5,881.2 L312.1,881.2 L312.1,879.1 L315.1,879.1 L315.1,854.7 L319.7,854.7 L319.7,871.8 L321.5,871.8 L321.5,942.8 Z" fill="#8508f8" stroke="#8508f8" stroke-width="2"/>
<path d="M372.0,942.8 L372.0,630.8 L376.0,630.8 L376.0,942.8 Z" fill="#8508f8" stroke="#8508f8" stroke-width="2"/>
<path d="M396.0,942.8 L396.0,822.5 L401.8,822.5 L401.8,849.8 L405.6,849.8 L405.6,866.4 L411.4,866.4 L411.4,871.2 L416.7,871.2 L416.7,866.2 L420.0,866.2 L420.0,887.5 L423.8,887.5 L423.8,889.3 L428.2,889.3 L428.2,893.0 L431.2,893.0 L431.2,876.1 L436.8,876.1 L436.8,903.2 L444.9,903.2 L444.9,884.8 L450.7,884.8 L450.7,906.1 L458.1,906.1 L458.1,942.8 L462.1,942.8 L462.1,905.0 L466.3,905.0 L466.3,881.0 L471.3,881.0 L471.3,907.0 L475.7,907.0 L475.7,868.9 L481.8,868.9 L481.8,907.9 L485.4,907.9 L485.4,909.5 L489.0,909.5 L489.0,942.8 L497.8,942.8 L497.8,874.8 L500.5,874.8 L500.5,942.8 Z" fill="#8508f8" stroke="#8508f8" stroke-width="2"/>
<path d="M504.5,942.8 L504.5,886.4 L508.8,886.4 L508.8,908.8 L515.6,908.8 L515.6,911.5 L523.2,911.5 L523.2,910.4 L528.8,910.4 L528.8,908.8 L533.3,908.8 L533.3,911.2 L538.6,911.2 L538.6,884.7 L544.2,884.7 L544.2,906.8 L547.8,906.8 L547.8,883.4 L553.1,883.4 L553.1,910.3 L557.9,910.3 L557.9,882.6 L563.1,882.6 L563.1,909.7 L567.8,909.7 L567.8,885.5 L572.1,885.5 L572.1,911.3 L575.2,911.3 L575.2,869.3 L578.9,869.3 L578.9,906.7 L588.5,906.7 L588.5,874.5 L593.9,874.5 L593.9,894.3 L598.0,894.3 L598.0,872.9 L601.7,872.9 L601.7,909.7 L610.9,909.7 L610.9,885.8 L614.0,885.8 L614.0,908.2 L623.3,908.2 L623.3,942.8 L630.8,942.8 L630.8,909.6 L637.4,909.6 L637.4,872.5 L642.5,872.5 L642.5,911.0 L645.1,911.0 L645.1,908.8 L653.5,908.8 L653.5,942.8 L661.5,942.8 L661.5,910.8 L665.8,910.8 L665.8,884.7 L670.6,884.7 L670.6,910.8 L676.8,910.8 L676.8,870.6 L680.8,870.6 L680.8,909.1 L683.7,909.1 L683.7,868.3 L690.0,868.3 L690.0,909.6 L698.8,909.6 L698.8,883.2 L702.5,883.2 L702.5,920.5 L708.6,920.5 L708.6,942.8 L713.6,942.8 L713.6,930.8 L716.5,930.8 L716.5,906.0 L720.5,906.0 L720.5,931.8 L726.7,931.8 L726.7,909.3 L732.5,909.3 L732.5,929.8 L742.0,929.8 L742.0,905.4 L746.3,905.4 L746.3,932.8 L749.5,932.8 L749.5,933.5 L758.7,933.5 L758.7,933.8 L762.7,933.8 L762.7,912.4 L769.1,912.4 L769.1,886.8 L772.6,886.8 L772.6,907.8 L775.2,907.8 L775.2,884.6 L780.2,884.6 L780.2,908.5 L784.9,908.5 L784.9,910.1 L789.2,910.1 L789.2,909.0 L794.7,909.0 L794.7,907.2 L797.9,907.2 L797.9,942.8 L802.0,942.8 L802.0,907.3 L804.6,907.3 L804.6,942.8 L809.9,942.8 L809.9,907.0 L814.8,907.0 L814.8,907.2 L821.5,907.2 L821.5,910.8 L827.2,910.8 L827.2,886.6 L830.6,886.6 L830.6,910.1 L840.6,910.1 L840.6,862.0 L846.3,862.0 L846.3,822.1 L852.0,822.1 L852.0,942.8 Z" fill="#8508f8" stroke="#8508f8" stroke-width="2"/>
<path d="M879.0,942.8 L879.0,803.9 L885.2,803.9 L885.2,891.5 L894.8,891.5 L894.8,881.8 L898.1,881.8 L898.1,908.0 L903.4,908.0 L903.4,908.1 L912.9,908.1 L912.9,942.8 L917.5,942.8 L917.5,910.8 L920.9,910.8 L920.9,887.4 L926.6,887.4 L926.6,909.1 L930.2,909.1 L930.2,868.0 L935.8,868.0 L935.8,910.3 L941.8,910.3 L941.8,910.8 L950.2,910.8 L950.2,885.8 L954.3,885.8 L954.3,908.3 L958.2,908.3 L958.2,871.0 L962.0,871.0 L962.0,942.8 Z" fill="#8508f8" stroke="#8508f8" stroke-width="2"/>
<path d="M966.0,942.8 L966.0,720.4 L972.0,720.4 L972.0,827.4 L977.1,827.4 L977.1,840.0 L986.7,840.0 L986.7,865.2 L995.8,865.2 L995.8,885.8 L1002.0,885.8 L1002.0,942.8 L1009.8,942.8 L1009.8,907.1 L1018.6,907.1 L1018.6,942.8 L1026.2,942.8 L1026.2,909.2 L1035.9,909.2 L1035.9,942.8 L1044.1,942.8 L1044.1,908.0 L1047.5,908.0 L1047.5,872.0 L1052.8,872.0 L1052.8,910.9 L1059.0,910.9 L1059.0,883.7 L1062.9,883.7 L1062.9,906.8 L1066.9,906.8 L1066.9,881.9 L1073.1,881.9 L1073.1,937.3 L1078.5,937.3 L1078.5,936.0 L1081.4,936.0 L1081.4,936.8 L1089.3,936.8 L1089.3,933.0 L1094.5,933.0 L1094.5,942.8 L1099.2,942.8 L1099.2,942.8 Z" fill="#8508f8" stroke="#8508f8" stroke-width="2"/>
<path d="M353.0,942.8 L353.0,872.1 L360.0,872.1 L360.0,875.0 L366.7,875.0 L366.7,871.0 L371.0,871.0 L371.0,942.8 Z" fill="#8508f8" stroke="#8508f8" stroke-width="2"/>
<path d="M171.0,882.5 L178.5,882.5 L178.5,871.7 L184.2,871.7 L184.2,886.2 L189.1,886.2 L189.1,879.0 L199.0,879.0 L199.0,881.5 L205.8,881.5 L205.8,869.7 L210.6,869.7 L210.6,895.3 L219.5,895.3 L219.5,942.8 L222.4,942.8 L222.4,908.7 L227.2,908.7 L227.2,887.1 L233.3,887.1 L233.3,907.7 L241.7,907.7 L241.7,893.8 L249.4,893.8 L249.4,895.8 L253.9,895.8 L253.9,895.1 L257.3,895.1 L257.3,942.8 L261.2,942.8 L261.2,903.5 L268.2,903.5 L268.2,883.2 L274.3,883.2 L274.3,893.2 L279.6,893.2 L279.6,856.6 L282.7,856.6 L282.7,865.9 L287.3,865.9 L287.3,842.4 L291.3,842.4 L291.3,849.0 L295.1,849.0 L295.1,844.5 L300.7,844.5 L300.7,872.8 L303.7,872.8 L303.7,867.6 L309.5,867.6 L309.5,881.2 L312.1,881.2 L312.1,879.1 L315.1,879.1 L315.1,854.7 L319.7,854.7 L319.7,871.8 L321.5,871.8 L321.5,860.0 L323.0,750.0 L325.5,699.0 L329.3,661.0 L331.9,636.0 L333.0,572.0 L340.0,548.0 L348.3,570.0 L352.0,611.0 L352.5,724.0 L356.0,800.0 L361.0,826.0 L366.0,851.0 L368.5,856.0 L371.0,838.0 L372.0,711.8 L372.0,630.8 L376.0,630.8 L376.0,608.6 L380.0,611.0 L381.2,669.0 L383.7,712.0 L388.8,717.0 L391.3,775.0 L396.0,810.0 L396.0,822.5 L401.8,822.5 L401.8,849.8 L405.6,849.8 L405.6,866.4 L411.4,866.4 L411.4,871.2 L416.7,871.2 L416.7,866.2 L420.0,866.2 L420.0,887.5 L423.8,887.5 L423.8,889.3 L428.2,889.3 L428.2,893.0 L431.2,893.0 L431.2,876.1 L436.8,876.1 L436.8,903.2 L444.9,903.2 L444.9,884.8 L450.7,884.8 L450.7,906.1 L458.1,906.1 L458.1,942.8 L462.1,942.8 L462.1,905.0 L466.3,905.0 L466.3,881.0 L471.3,881.0 L471.3,907.0 L475.7,907.0 L475.7,868.9 L481.8,868.9 L481.8,907.9 L485.4,907.9 L485.4,909.5 L489.0,909.5 L489.0,942.8 L497.8,942.8 L497.8,874.8 L500.5,874.8 L500.5,813.3 L500.8,800.0 L502.4,735.0 L504.0,800.0 L504.5,820.0 L504.5,886.4 L508.8,886.4 L508.8,908.8 L515.6,908.8 L515.6,911.5 L523.2,911.5 L523.2,910.4 L528.8,910.4 L528.8,908.8 L533.3,908.8 L533.3,911.2 L538.6,911.2 L538.6,884.7 L544.2,884.7 L544.2,906.8 L547.8,906.8 L547.8,883.4 L553.1,883.4 L553.1,910.3 L557.9,910.3 L557.9,882.6 L563.1,882.6 L563.1,909.7 L567.8,909.7 L567.8,885.5 L572.1,885.5 L572.1,911.3 L575.2,911.3 L575.2,869.3 L578.9,869.3 L578.9,906.7 L588.5,906.7 L588.5,874.5 L593.9,874.5 L593.9,894.3 L598.0,894.3 L598.0,872.9 L601.7,872.9 L601.7,909.7 L610.9,909.7 L610.9,885.8 L614.0,885.8 L614.0,908.2 L623.3,908.2 L623.3,942.8 L630.8,942.8 L630.8,909.6 L637.4,909.6 L637.4,872.5 L642.5,872.5 L642.5,911.0 L645.1,911.0 L645.1,908.8 L653.5,908.8 L653.5,942.8 L661.5,942.8 L661.5,910.8 L665.8,910.8 L665.8,884.7 L670.6,884.7 L670.6,910.8 L676.8,910.8 L676.8,870.6 L680.8,870.6 L680.8,909.1 L683.7,909.1 L683.7,868.3 L690.0,868.3 L690.0,909.6 L698.8,909.6 L698.8,883.2 L702.5,883.2 L702.5,920.5 L708.6,920.5 L708.6,942.8 L713.6,942.8 L713.6,930.8 L716.5,930.8 L716.5,906.0 L720.5,906.0 L720.5,931.8 L726.7,931.8 L726.7,909.3 L732.5,909.3 L732.5,929.8 L742.0,929.8 L742.0,905.4 L746.3,905.4 L746.3,932.8 L749.5,932.8 L749.5,933.5 L758.7,933.5 L758.7,933.8 L762.7,933.8 L762.7,912.4 L769.1,912.4 L769.1,886.8 L772.6,886.8 L772.6,907.8 L775.2,907.8 L775.2,884.6 L780.2,884.6 L780.2,908.5 L784.9,908.5 L784.9,910.1 L789.2,910.1 L789.2,909.0 L794.7,909.0 L794.7,907.2 L797.9,907.2 L797.9,942.8 L802.0,942.8 L802.0,907.3 L804.6,907.3 L804.6,942.8 L809.9,942.8 L809.9,907.0 L814.8,907.0 L814.8,907.2 L821.5,907.2 L821.5,910.8 L827.2,910.8 L827.2,886.6 L830.6,886.6 L830.6,910.1 L840.6,910.1 L840.6,862.0 L846.3,862.0 L846.3,822.1 L852.0,822.1 L852.0,807.6 L852.7,804.0 L857.2,793.0 L859.5,759.0 L860.6,691.0 L863.0,648.0 L869.7,657.0 L874.3,691.0 L878.8,727.0 L879.0,734.2 L879.0,803.9 L885.2,803.9 L885.2,891.5 L894.8,891.5 L894.8,881.8 L898.1,881.8 L898.1,908.0 L903.4,908.0 L903.4,908.1 L912.9,908.1 L912.9,942.8 L917.5,942.8 L917.5,910.8 L920.9,910.8 L920.9,887.4 L926.6,887.4 L926.6,909.1 L930.2,909.1 L930.2,868.0 L935.8,868.0 L935.8,910.3 L941.8,910.3 L941.8,910.8 L950.2,910.8 L950.2,885.8 L954.3,885.8 L954.3,908.3 L958.2,908.3 L958.2,871.0 L962.0,871.0 L962.0,866.1 L964.0,827.0 L966.0,719.7 L966.0,720.4 L972.0,720.4 L972.0,827.4 L977.1,827.4 L977.1,840.0 L986.7,840.0 L986.7,865.2 L995.8,865.2 L995.8,885.8 L1002.0,885.8 L1002.0,942.8 L1009.8,942.8 L1009.8,907.1 L1018.6,907.1 L1018.6,942.8 L1026.2,942.8 L1026.2,909.2 L1035.9,909.2 L1035.9,942.8 L1044.1,942.8 L1044.1,908.0 L1047.5,908.0 L1047.5,872.0 L1052.8,872.0 L1052.8,910.9 L1059.0,910.9 L1059.0,883.7 L1062.9,883.7 L1062.9,906.8 L1066.9,906.8 L1066.9,881.9 L1073.1,881.9 L1073.1,937.3 L1078.5,937.3 L1078.5,936.0 L1081.4,936.0 L1081.4,936.8 L1089.3,936.8 L1089.3,933.0 L1094.5,933.0 L1094.5,942.8 L1099.2,942.8" fill="none" stroke="#8508f8" stroke-width="5.8" stroke-linejoin="round"/>
<line x1="255.7" y1="921.4" x2="255.7" y2="942.8" stroke="#fff" stroke-opacity="0.75" stroke-width="1.6"/>
<line x1="316.9" y1="864.4" x2="316.9" y2="942.8" stroke="#fff" stroke-opacity="0.75" stroke-width="1.6"/>
<line x1="508.5" y1="907.0" x2="508.5" y2="942.8" stroke="#fff" stroke-opacity="0.75" stroke-width="1.6"/>
<line x1="565.0" y1="929.6" x2="565.0" y2="942.8" stroke="#fff" stroke-opacity="0.75" stroke-width="1.6"/>
<line x1="588.7" y1="893.7" x2="588.7" y2="942.8" stroke="#fff" stroke-opacity="0.75" stroke-width="1.6"/>
<line x1="594.1" y1="922.6" x2="594.1" y2="942.8" stroke="#fff" stroke-opacity="0.75" stroke-width="1.6"/>
<line x1="604.6" y1="916.4" x2="604.6" y2="942.8" stroke="#fff" stroke-opacity="0.75" stroke-width="1.6"/>
<line x1="642.8" y1="933.6" x2="642.8" y2="942.8" stroke="#fff" stroke-opacity="0.75" stroke-width="1.6"/>
<line x1="677.0" y1="900.4" x2="677.0" y2="942.8" stroke="#fff" stroke-opacity="0.75" stroke-width="1.6"/>
<line x1="921.6" y1="911.4" x2="921.6" y2="942.8" stroke="#fff" stroke-opacity="0.75" stroke-width="1.6"/>
<line x1="941.0" y1="930.3" x2="941.0" y2="942.8" stroke="#fff" stroke-opacity="0.75" stroke-width="1.6"/>
<line x1="947.8" y1="921.6" x2="947.8" y2="942.8" stroke="#fff" stroke-opacity="0.75" stroke-width="1.6"/>
</g>
<g clip-path="url(#ca2)">
<path d="M171.0,1407.2 L171.0,1329.5 L177.2,1329.5 L177.2,1350.9 L184.7,1350.9 L184.7,1350.9 L188.8,1350.9 L188.8,1349.0 L191.6,1349.0 L191.6,1338.3 L196.5,1338.3 L196.5,1313.3 L203.1,1313.3 L203.1,1348.4 L208.2,1348.4 L208.2,1351.0 L210.8,1351.0 L210.8,1338.6 L215.6,1338.6 L215.6,1349.9 L223.5,1349.9 L223.5,1335.2 L228.2,1335.2 L228.2,1351.3 L232.9,1351.3 L232.9,1327.5 L238.1,1327.5 L238.1,1349.3 L245.5,1349.3 L245.5,1338.9 L253.0,1338.9 L253.0,1338.6 L257.9,1338.6 L257.9,1329.1 L263.3,1329.1 L263.3,1333.3 L270.8,1333.3 L270.8,1317.2 L275.4,1317.2 L275.4,1310.4 L279.6,1310.4 L279.6,1302.5 L284.9,1302.5 L284.9,1287.2 L294.3,1287.2 L294.3,1299.8 L299.6,1299.8 L299.6,1298.0 L305.0,1298.0 L305.0,1308.1 L310.1,1308.1 L310.1,1319.1 L313.2,1319.1 L313.2,1347.9 L320.6,1347.9 L320.6,1346.5 L321.0,1346.5 L321.0,1407.2 Z" fill="#66d800" stroke="#66d800" stroke-width="2"/>
<path d="M405.0,1407.2 L405.0,1329.9 L410.2,1329.9 L410.2,1327.5 L414.2,1327.5 L414.2,1338.3 L417.7,1338.3 L417.7,1327.6 L423.6,1327.6 L423.6,1344.7 L433.6,1344.7 L433.6,1349.3 L441.6,1349.3 L441.6,1327.3 L446.8,1327.3 L446.8,1350.2 L454.5,1350.2 L454.5,1336.6 L459.8,1336.6 L459.8,1349.7 L467.9,1349.7 L467.9,1352.9 L476.5,1352.9 L476.5,1352.7 L480.5,1352.7 L480.5,1352.9 L488.2,1352.9 L488.2,1351.2 L494.6,1351.2 L494.6,1312.4 L499.3,1312.4 L499.3,1248.9 L501.0,1248.9 L501.0,1407.2 Z" fill="#66d800" stroke="#66d800" stroke-width="2"/>
<path d="M504.0,1407.2 L504.0,1271.6 L507.3,1271.6 L507.3,1320.9 L515.8,1320.9 L515.8,1337.8 L519.5,1337.8 L519.5,1357.2 L523.7,1357.2 L523.7,1356.7 L532.6,1356.7 L532.6,1340.7 L536.0,1340.7 L536.0,1359.4 L542.5,1359.4 L542.5,1339.9 L547.4,1339.9 L547.4,1356.6 L551.4,1356.6 L551.4,1341.7 L554.4,1341.7 L554.4,1359.0 L560.9,1359.0 L560.9,1358.1 L569.4,1358.1 L569.4,1343.1 L572.8,1343.1 L572.8,1362.2 L581.7,1362.2 L581.7,1345.0 L586.2,1345.0 L586.2,1362.4 L590.8,1362.4 L590.8,1361.3 L598.7,1361.3 L598.7,1349.6 L602.7,1349.6 L602.7,1365.7 L607.4,1365.7 L607.4,1364.1 L612.6,1364.1 L612.6,1363.9 L617.6,1363.9 L617.6,1364.0 L627.5,1364.0 L627.5,1364.9 L635.0,1364.9 L635.0,1367.6 L642.7,1367.6 L642.7,1369.1 L648.7,1369.1 L648.7,1407.2 L651.6,1407.2 L651.6,1366.5 L655.5,1366.5 L655.5,1347.1 L659.8,1347.1 L659.8,1367.7 L666.3,1367.7 L666.3,1341.1 L670.1,1341.1 L670.1,1367.0 L679.2,1367.0 L679.2,1369.8 L687.7,1369.8 L687.7,1366.8 L693.7,1366.8 L693.7,1337.0 L699.4,1337.0 L699.4,1370.3 L705.3,1370.3 L705.3,1368.9 L713.3,1368.9 L713.3,1337.9 L716.3,1337.9 L716.3,1366.7 L718.9,1366.7 L718.9,1368.3 L726.1,1368.3 L726.1,1368.1 L734.3,1368.1 L734.3,1347.4 L738.6,1347.4 L738.6,1367.4 L743.3,1367.4 L743.3,1348.2 L748.4,1348.2 L748.4,1369.1 L754.4,1369.1 L754.4,1368.8 L763.0,1368.8 L763.0,1348.5 L768.4,1348.5 L768.4,1368.8 L771.1,1368.8 L771.1,1368.7 L774.5,1368.7 L774.5,1407.2 L777.3,1407.2 L777.3,1366.4 L783.3,1366.4 L783.3,1351.1 L788.6,1351.1 L788.6,1369.1 L796.6,1369.1 L796.6,1350.1 L801.1,1350.1 L801.1,1369.4 L806.3,1369.4 L806.3,1407.2 L810.1,1407.2 L810.1,1370.4 L812.7,1370.4 L812.7,1352.4 L817.0,1352.4 L817.0,1367.4 L822.6,1367.4 L822.6,1369.3 L831.0,1369.3 L831.0,1407.2 L833.9,1407.2 L833.9,1356.9 L841.7,1356.9 L841.7,1295.6 L844.3,1295.6 L844.3,1293.4 L848.5,1293.4 L848.5,1286.8 L851.0,1286.8 L851.0,1407.2 Z" fill="#66d800" stroke="#66d800" stroke-width="2"/>
<path d="M883.0,1407.2 L883.0,1290.9 L886.7,1290.9 L886.7,1336.9 L895.5,1336.9 L895.5,1340.2 L901.2,1340.2 L901.2,1364.4 L906.8,1364.4 L906.8,1347.7 L910.7,1347.7 L910.7,1366.7 L915.5,1366.7 L915.5,1341.3 L920.9,1341.3 L920.9,1366.7 L926.5,1366.7 L926.5,1407.2 L929.3,1407.2 L929.3,1366.9 L936.2,1366.9 L936.2,1352.3 L941.3,1352.3 L941.3,1370.2 L950.5,1370.2 L950.5,1365.7 L954.7,1365.7 L954.7,1407.2 L960.5,1407.2 L960.5,1333.3 L965.5,1333.3 L965.5,1262.1 L968.0,1262.1 L968.0,1407.2 Z" fill="#66d800" stroke="#66d800" stroke-width="2"/>
<path d="M990.0,1407.2 L990.0,1293.6 L995.0,1293.6 L995.0,1319.3 L1000.1,1319.3 L1000.1,1310.7 L1003.4,1310.7 L1003.4,1321.8 L1008.2,1321.8 L1008.2,1315.4 L1011.4,1315.4 L1011.4,1357.8 L1021.2,1357.8 L1021.2,1362.6 L1024.4,1362.6 L1024.4,1345.8 L1029.4,1345.8 L1029.4,1360.6 L1033.7,1360.6 L1033.7,1361.6 L1042.9,1361.6 L1042.9,1348.7 L1046.9,1348.7 L1046.9,1362.7 L1056.5,1362.7 L1056.5,1407.2 L1061.4,1407.2 L1061.4,1367.3 L1070.2,1367.3 L1070.2,1365.8 L1074.8,1365.8 L1074.8,1407.2 L1078.5,1407.2 L1078.5,1364.4 L1086.9,1364.4 L1086.9,1341.2 L1090.9,1341.2 L1090.9,1369.6 L1096.9,1369.6 L1096.9,1367.8 L1105.2,1367.8 L1105.2,1407.2 Z" fill="#66d800" stroke="#66d800" stroke-width="2"/>
<path d="M171.0,1329.5 L177.2,1329.5 L177.2,1350.9 L184.7,1350.9 L184.7,1350.9 L188.8,1350.9 L188.8,1349.0 L191.6,1349.0 L191.6,1338.3 L196.5,1338.3 L196.5,1313.3 L203.1,1313.3 L203.1,1348.4 L208.2,1348.4 L208.2,1351.0 L210.8,1351.0 L210.8,1338.6 L215.6,1338.6 L215.6,1349.9 L223.5,1349.9 L223.5,1335.2 L228.2,1335.2 L228.2,1351.3 L232.9,1351.3 L232.9,1327.5 L238.1,1327.5 L238.1,1349.3 L245.5,1349.3 L245.5,1338.9 L253.0,1338.9 L253.0,1338.6 L257.9,1338.6 L257.9,1329.1 L263.3,1329.1 L263.3,1333.3 L270.8,1333.3 L270.8,1317.2 L275.4,1317.2 L275.4,1310.4 L279.6,1310.4 L279.6,1302.5 L284.9,1302.5 L284.9,1287.2 L294.3,1287.2 L294.3,1299.8 L299.6,1299.8 L299.6,1298.0 L305.0,1298.0 L305.0,1308.1 L310.1,1308.1 L310.1,1319.1 L313.2,1319.1 L313.2,1347.9 L320.6,1347.9 L320.6,1346.5 L321.0,1346.5 L321.0,1347.6 L321.5,1347.0 L322.8,1257.0 L325.4,1192.0 L328.0,1140.0 L330.6,1088.0 L333.2,1031.0 L340.0,1000.0 L346.2,1031.0 L350.0,1075.0 L351.4,1140.0 L354.0,1231.0 L357.9,1257.0 L363.0,1283.0 L367.0,1347.0 L370.8,1334.0 L373.4,1257.0 L376.0,1166.0 L378.6,1088.0 L383.8,1015.0 L387.7,1036.0 L390.3,1101.0 L394.2,1179.0 L399.4,1238.0 L404.6,1283.0 L405.0,1290.1 L405.0,1329.9 L410.2,1329.9 L410.2,1327.5 L414.2,1327.5 L414.2,1338.3 L417.7,1338.3 L417.7,1327.6 L423.6,1327.6 L423.6,1344.7 L433.6,1344.7 L433.6,1349.3 L441.6,1349.3 L441.6,1327.3 L446.8,1327.3 L446.8,1350.2 L454.5,1350.2 L454.5,1336.6 L459.8,1336.6 L459.8,1349.7 L467.9,1349.7 L467.9,1352.9 L476.5,1352.9 L476.5,1352.7 L480.5,1352.7 L480.5,1352.9 L488.2,1352.9 L488.2,1351.2 L494.6,1351.2 L494.6,1312.4 L499.3,1312.4 L499.3,1248.9 L501.0,1248.9 L501.0,1230.3 L502.4,1203.0 L504.0,1240.0 L504.0,1271.6 L507.3,1271.6 L507.3,1320.9 L515.8,1320.9 L515.8,1337.8 L519.5,1337.8 L519.5,1357.2 L523.7,1357.2 L523.7,1356.7 L532.6,1356.7 L532.6,1340.7 L536.0,1340.7 L536.0,1359.4 L542.5,1359.4 L542.5,1339.9 L547.4,1339.9 L547.4,1356.6 L551.4,1356.6 L551.4,1341.7 L554.4,1341.7 L554.4,1359.0 L560.9,1359.0 L560.9,1358.1 L569.4,1358.1 L569.4,1343.1 L572.8,1343.1 L572.8,1362.2 L581.7,1362.2 L581.7,1345.0 L586.2,1345.0 L586.2,1362.4 L590.8,1362.4 L590.8,1361.3 L598.7,1361.3 L598.7,1349.6 L602.7,1349.6 L602.7,1365.7 L607.4,1365.7 L607.4,1364.1 L612.6,1364.1 L612.6,1363.9 L617.6,1363.9 L617.6,1364.0 L627.5,1364.0 L627.5,1364.9 L635.0,1364.9 L635.0,1367.6 L642.7,1367.6 L642.7,1369.1 L648.7,1369.1 L648.7,1407.2 L651.6,1407.2 L651.6,1366.5 L655.5,1366.5 L655.5,1347.1 L659.8,1347.1 L659.8,1367.7 L666.3,1367.7 L666.3,1341.1 L670.1,1341.1 L670.1,1367.0 L679.2,1367.0 L679.2,1369.8 L687.7,1369.8 L687.7,1366.8 L693.7,1366.8 L693.7,1337.0 L699.4,1337.0 L699.4,1370.3 L705.3,1370.3 L705.3,1368.9 L713.3,1368.9 L713.3,1337.9 L716.3,1337.9 L716.3,1366.7 L718.9,1366.7 L718.9,1368.3 L726.1,1368.3 L726.1,1368.1 L734.3,1368.1 L734.3,1347.4 L738.6,1347.4 L738.6,1367.4 L743.3,1367.4 L743.3,1348.2 L748.4,1348.2 L748.4,1369.1 L754.4,1369.1 L754.4,1368.8 L763.0,1368.8 L763.0,1348.5 L768.4,1348.5 L768.4,1368.8 L771.1,1368.8 L771.1,1368.7 L774.5,1368.7 L774.5,1407.2 L777.3,1407.2 L777.3,1366.4 L783.3,1366.4 L783.3,1351.1 L788.6,1351.1 L788.6,1369.1 L796.6,1369.1 L796.6,1350.1 L801.1,1350.1 L801.1,1369.4 L806.3,1369.4 L806.3,1407.2 L810.1,1407.2 L810.1,1370.4 L812.7,1370.4 L812.7,1352.4 L817.0,1352.4 L817.0,1367.4 L822.6,1367.4 L822.6,1369.3 L831.0,1369.3 L831.0,1407.2 L833.9,1407.2 L833.9,1356.9 L841.7,1356.9 L841.7,1295.6 L844.3,1295.6 L844.3,1293.4 L848.5,1293.4 L848.5,1286.8 L851.0,1286.8 L851.0,1272.5 L852.7,1253.0 L855.0,1214.0 L858.4,1178.0 L860.6,1140.0 L865.2,1103.0 L872.0,1140.0 L876.5,1174.0 L878.8,1214.0 L880.0,1253.0 L883.0,1275.7 L883.0,1290.9 L886.7,1290.9 L886.7,1336.9 L895.5,1336.9 L895.5,1340.2 L901.2,1340.2 L901.2,1364.4 L906.8,1364.4 L906.8,1347.7 L910.7,1347.7 L910.7,1366.7 L915.5,1366.7 L915.5,1341.3 L920.9,1341.3 L920.9,1366.7 L926.5,1366.7 L926.5,1407.2 L929.3,1407.2 L929.3,1366.9 L936.2,1366.9 L936.2,1352.3 L941.3,1352.3 L941.3,1370.2 L950.5,1370.2 L950.5,1365.7 L954.7,1365.7 L954.7,1407.2 L960.5,1407.2 L960.5,1333.3 L965.5,1333.3 L965.5,1262.1 L968.0,1262.1 L968.0,1227.7 L968.5,1214.0 L970.7,1162.0 L975.3,1126.0 L979.8,1155.0 L984.4,1174.0 L987.8,1219.0 L990.0,1263.0 L990.0,1293.6 L995.0,1293.6 L995.0,1319.3 L1000.1,1319.3 L1000.1,1310.7 L1003.4,1310.7 L1003.4,1321.8 L1008.2,1321.8 L1008.2,1315.4 L1011.4,1315.4 L1011.4,1357.8 L1021.2,1357.8 L1021.2,1362.6 L1024.4,1362.6 L1024.4,1345.8 L1029.4,1345.8 L1029.4,1360.6 L1033.7,1360.6 L1033.7,1361.6 L1042.9,1361.6 L1042.9,1348.7 L1046.9,1348.7 L1046.9,1362.7 L1056.5,1362.7 L1056.5,1407.2 L1061.4,1407.2 L1061.4,1367.3 L1070.2,1367.3 L1070.2,1365.8 L1074.8,1365.8 L1074.8,1407.2 L1078.5,1407.2 L1078.5,1364.4 L1086.9,1364.4 L1086.9,1341.2 L1090.9,1341.2 L1090.9,1369.6 L1096.9,1369.6 L1096.9,1367.8 L1105.2,1367.8" fill="none" stroke="#66d800" stroke-width="5.8" stroke-linejoin="round"/>
<line x1="177.9" y1="1368.9" x2="177.9" y2="1407.2" stroke="#fff" stroke-opacity="0.75" stroke-width="1.6"/>
<line x1="292.1" y1="1299.5" x2="292.1" y2="1407.2" stroke="#fff" stroke-opacity="0.75" stroke-width="1.6"/>
<line x1="463.6" y1="1361.3" x2="463.6" y2="1407.2" stroke="#fff" stroke-opacity="0.75" stroke-width="1.6"/>
<line x1="506.5" y1="1298.4" x2="506.5" y2="1407.2" stroke="#fff" stroke-opacity="0.75" stroke-width="1.6"/>
<line x1="613.2" y1="1390.3" x2="613.2" y2="1407.2" stroke="#fff" stroke-opacity="0.75" stroke-width="1.6"/>
<line x1="714.3" y1="1351.6" x2="714.3" y2="1407.2" stroke="#fff" stroke-opacity="0.75" stroke-width="1.6"/>
<line x1="796.1" y1="1389.0" x2="796.1" y2="1407.2" stroke="#fff" stroke-opacity="0.75" stroke-width="1.6"/>
<line x1="891.9" y1="1354.9" x2="891.9" y2="1407.2" stroke="#fff" stroke-opacity="0.75" stroke-width="1.6"/>
<line x1="963.0" y1="1341.1" x2="963.0" y2="1407.2" stroke="#fff" stroke-opacity="0.75" stroke-width="1.6"/>
</g>
<rect x="169.0" y="31.3" width="932.7" height="1379.7" fill="none" stroke="#000" stroke-width="9.5" stroke-linejoin="round"/>
<line x1="169.0" y1="490.0" x2="1101.7" y2="490.0" stroke="#000" stroke-width="9.5"/>
<line x1="169.0" y1="946.5" x2="1101.7" y2="946.5" stroke="#000" stroke-width="9.5"/>
<rect x="167" y="27" width="183" height="83.5" fill="#fff" stroke="#8c8c8c" stroke-width="4"/>
<text transform="translate(183.91,86.90) scale(1.1306,1)" font-family="'Liberation Sans', Arial, sans-serif" font-weight="bold" font-size="46.86" fill="#000" >530</text>
<text x="285.05" y="94.40" font-family="'Liberation Sans', Arial, sans-serif" font-weight="bold" font-size="48.67" stroke="#000" stroke-width="1.4">°</text>
<text transform="translate(301.98,86.90) scale(1.0599,1)" font-family="'Liberation Sans', Arial, sans-serif" font-weight="bold" font-size="47.54" fill="#000" >C</text>
<rect x="178.5" y="492" width="168.5" height="77.5" fill="#fff" stroke="#8c8c8c" stroke-width="4"/>
<text transform="translate(183.91,547.10) scale(1.0780,1)" font-family="'Liberation Sans', Arial, sans-serif" font-weight="bold" font-size="49.14" fill="#000" >500</text>
<text x="284.96" y="554.97" font-family="'Liberation Sans', Arial, sans-serif" font-weight="bold" font-size="51.05" stroke="#000" stroke-width="1.4">°</text>
<text transform="translate(301.98,547.10) scale(1.0106,1)" font-family="'Liberation Sans', Arial, sans-serif" font-weight="bold" font-size="49.86" fill="#000" >C</text>
<rect x="180" y="951" width="167.5" height="78.5" fill="#fff" stroke="#8c8c8c" stroke-width="4"/>
<text transform="translate(184.71,1011.80) scale(1.0408,1)" font-family="'Liberation Sans', Arial, sans-serif" font-weight="bold" font-size="50.43" fill="#000" >470</text>
<text x="284.90" y="1019.87" font-family="'Liberation Sans', Arial, sans-serif" font-weight="bold" font-size="52.38" stroke="#000" stroke-width="1.4">°</text>
<text transform="translate(301.98,1011.80) scale(0.9848,1)" font-family="'Liberation Sans', Arial, sans-serif" font-weight="bold" font-size="51.16" fill="#000" >C</text>
<line x1="169.0" y1="26.5" x2="169.0" y2="120" stroke="#000" stroke-width="9.5"/>
<text transform="translate(307.30,352.92) rotate(-90) scale(1.0118,1)" font-family="'Liberation Sans', Arial, sans-serif" font-weight="bold" font-size="52.03" fill="#000" >InN(0002)</text>
<text transform="translate(466.70,371.59) rotate(-90) scale(1.0299,1)" font-family="'Liberation Sans', Arial, sans-serif" font-weight="bold" font-size="50.72" fill="#000" >GaN(0002)</text>
<text transform="translate(570.80,391.30) rotate(-90) scale(0.9989,1)" font-family="'Liberation Sans', Arial, sans-serif" font-weight="bold" font-size="52.17" fill="#000" >Al<tspan font-size="60%" font-weight="normal" dy="20">2</tspan><tspan dy="-20">O</tspan><tspan font-size="60%" font-weight="normal" dy="20">3</tspan><tspan dy="-20">(0006)</tspan></text>
<text transform="translate(942.50,352.40) rotate(-90) scale(0.9776,1)" font-family="'Liberation Sans', Arial, sans-serif" font-weight="bold" font-size="53.48" fill="#000" >InN(0004)</text>
<text transform="translate(1068.00,376.38) rotate(-90) scale(0.9974,1)" font-family="'Liberation Sans', Arial, sans-serif" font-weight="bold" font-size="52.17" fill="#000" >GaN(0004)</text>
<text transform="translate(138.42,1469.50) scale(0.9155,1)" font-family="'Liberation Sans', Arial, sans-serif" font-weight="bold" font-size="58.57" fill="#000" >20</text>
<text transform="translate(295.30,1469.50) scale(0.8855,1)" font-family="'Liberation Sans', Arial, sans-serif" font-weight="bold" font-size="58.57" fill="#000" >30</text>
<text transform="translate(449.61,1469.50) scale(0.8965,1)" font-family="'Liberation Sans', Arial, sans-serif" font-weight="bold" font-size="58.57" fill="#000" >40</text>
<text transform="translate(605.14,1469.50) scale(0.8898,1)" font-family="'Liberation Sans', Arial, sans-serif" font-weight="bold" font-size="58.57" fill="#000" >50</text>
<text transform="translate(759.48,1469.50) scale(0.9386,1)" font-family="'Liberation Sans', Arial, sans-serif" font-weight="bold" font-size="58.57" fill="#000" >60</text>
<text transform="translate(913.40,1469.50) scale(0.9478,1)" font-family="'Liberation Sans', Arial, sans-serif" font-weight="bold" font-size="58.57" fill="#000" >70</text>
<text transform="translate(1068.76,1469.50) scale(0.9341,1)" font-family="'Liberation Sans', Arial, sans-serif" font-weight="bold" font-size="58.57" fill="#000" >80</text>
<text transform="translate(564.51,1543.90) scale(0.9782,1)" font-family="'Liberation Sans', Arial, sans-serif" font-weight="bold" font-size="69.86" fill="#000" >2</text>
<text transform="translate(601.89,1544.10) scale(1.0225,1)" font-family="'Liberation Sans', Arial, sans-serif" font-weight="normal" font-size="60.83" fill="#000" >θ</text>
<text transform="translate(636.02,1544.20) scale(1.1356,1)" font-family="'Liberation Sans', Arial, sans-serif" font-weight="normal" font-size="58.48" fill="#000" >(</text>
<text transform="translate(658.15,1506.60) scale(1.2568,1)" font-family="'Liberation Sans', Arial, sans-serif" font-weight="normal" font-size="36.85" fill="#000" >o</text>
<text transform="translate(682.09,1544.20) scale(1.3811,1)" font-family="'Liberation Sans', Arial, sans-serif" font-weight="normal" font-size="58.48" fill="#000" >)</text>
<text transform="translate(110.00,1059.97) rotate(-90) scale(0.9927,1)" font-family="'Liberation Sans', Arial, sans-serif" font-weight="bold" font-size="73.91" fill="#000" >Intensity (arb. unit)</text>
<text transform="translate(13.37,111.20) scale(0.9976,1)" font-family="'Liberation Serif', 'Times New Roman', serif" font-weight="bold" font-size="118.71" fill="#000" >(a)</text>
<path d="M1277.5,262.4 L1278.2,262.4 L1278.9,262.4 L1279.6,262.4 L1280.3,262.4 L1281.0,262.3 L1281.7,262.3 L1282.4,262.3 L1283.1,262.3 L1283.8,262.3 L1284.5,262.3 L1285.2,262.3 L1285.9,262.3 L1286.6,262.2 L1287.3,262.2 L1288.0,262.2 L1288.7,262.2 L1289.4,262.2 L1290.1,262.2 L1290.8,262.1 L1291.5,262.1 L1292.2,262.1 L1292.9,262.1 L1293.6,262.0 L1294.3,262.0 L1295.0,262.0 L1295.7,261.9 L1296.4,261.9 L1297.1,261.8 L1297.8,261.8 L1298.5,261.7 L1299.2,261.6 L1299.9,261.6 L1300.6,261.5 L1301.3,261.4 L1302.0,261.3 L1302.7,261.2 L1303.4,261.0 L1304.1,260.9 L1304.8,260.7 L1305.5,260.5 L1306.2,260.3 L1306.9,260.0 L1307.6,259.6 L1308.3,259.2 L1309.0,258.7 L1309.7,258.1 L1310.4,257.3 L1311.1,256.2 L1311.8,254.9 L1312.5,253.0 L1313.2,250.5 L1313.9,246.8 L1314.6,241.3 L1315.3,232.7 L1316.0,218.6 L1316.7,195.1 L1317.4,160.0 L1318.1,129.7 L1318.8,139.6 L1319.5,176.2 L1320.2,206.6 L1320.9,225.5 L1321.6,236.9 L1322.3,244.0 L1323.0,248.6 L1323.7,251.7 L1324.4,253.9 L1325.1,255.5 L1325.8,256.7 L1326.5,257.6 L1327.2,258.4 L1327.9,258.9 L1328.6,259.4 L1329.3,259.8 L1330.0,260.1 L1330.7,260.4 L1331.4,260.6 L1332.1,260.8 L1332.8,261.0 L1333.5,261.1 L1334.2,261.2 L1334.9,261.3 L1335.6,261.4 L1336.3,261.5 L1337.0,261.6 L1337.7,261.7 L1338.4,261.7 L1339.1,261.8 L1339.8,261.8 L1340.5,261.9 L1341.2,261.9 L1341.9,262.0 L1342.6,262.0 L1343.3,262.0 L1344.0,262.1 L1344.7,262.1 L1345.4,262.1 L1346.1,262.1 L1346.8,262.2 L1347.5,262.2 L1348.2,262.2 L1348.9,262.2 L1349.6,262.2 L1350.3,262.2 L1351.0,262.3 L1351.7,262.3 L1352.4,262.3 L1353.1,262.3 L1353.8,262.3 L1354.5,262.3 L1355.2,262.3 L1355.9,262.3 L1356.6,262.3 L1357.3,262.4 L1358.0,262.4 L1358.7,262.4 L1359.4,262.4 L1360.1,262.4 L1360.8,262.4 L1361.5,262.4 L1362.2,262.4 L1362.9,262.4 L1363.6,262.4 L1364.3,262.4 L1365.0,262.4 L1365.7,262.4 L1366.4,262.4 L1367.1,262.4 L1367.8,262.4 L1368.5,262.4 L1369.2,262.4 L1369.9,262.4 L1370.6,262.4 L1371.3,262.5 L1372.0,262.5 L1372.7,262.5 L1373.4,262.5 L1374.1,262.5 L1374.8,262.5 L1375.5,262.5 L1376.2,262.5 L1376.9,262.5 L1377.6,262.5 L1378.3,262.5 L1379.0,262.5 L1379.7,262.5 L1380.4,262.5 L1381.1,262.5 L1381.8,262.5 L1382.5,262.5 L1383.2,262.5 L1383.9,262.5 L1384.6,262.5 L1385.3,262.5 L1386.0,262.5 L1386.7,262.5 L1387.4,262.5 L1388.1,262.5 L1388.8,262.5 L1389.5,262.5 L1390.2,262.5 L1390.9,262.5 L1391.6,262.5 L1392.3,262.5 L1393.0,262.5 L1393.7,262.5 L1394.4,262.5 L1395.1,262.5 L1395.8,262.5 L1396.5,262.5 L1397.2,262.5 L1397.9,262.5 L1398.6,262.5 L1399.3,262.5 L1400.0,262.5 L1400.7,262.5 L1401.4,262.5 L1402.1,262.5 L1402.8,262.5 L1403.5,262.5 L1404.2,262.5 L1404.9,262.5 L1405.6,262.5 L1406.3,262.5 L1407.0,262.5 L1407.7,262.5 L1408.4,262.5 L1409.1,262.5 L1409.8,262.5 L1410.5,262.5 L1411.2,262.5 L1411.9,262.5 L1412.6,262.5 L1413.3,262.5 L1414.0,262.5 L1414.7,262.5 L1415.4,262.5 L1416.1,262.5 L1416.8,262.5 L1417.5,262.5 L1418.2,262.5 L1418.9,262.5 L1419.6,262.5 L1420.3,262.5 L1421.0,262.5 L1421.7,262.5 L1422.4,262.5 L1423.1,262.5 L1423.8,262.5 L1424.5,262.5 L1425.2,262.5 L1425.9,262.5 L1426.6,262.5 L1427.3,262.5 L1428.0,262.5 L1428.7,262.5 L1429.4,262.5 L1430.1,262.5 L1430.8,262.5 L1431.5,262.5 L1432.2,262.5 L1432.9,262.5 L1433.6,262.5 L1434.3,262.5 L1435.0,262.5 L1435.7,262.5 L1436.4,262.5 L1437.1,262.5 L1437.8,262.5 L1438.5,262.5 L1439.2,262.5 L1439.9,262.5 L1440.6,262.5 L1441.3,262.5 L1442.0,262.5 L1442.7,262.5 L1443.4,262.5 L1444.1,262.5 L1444.8,262.5 L1445.5,262.5 L1446.2,262.5 L1446.9,262.5 L1447.6,262.5 L1448.3,262.5 L1449.0,262.5 L1449.7,262.5 L1450.4,262.5 L1451.1,262.5 L1451.8,262.5 L1452.5,262.5 L1453.2,262.5 L1453.9,262.4 L1454.6,262.4 L1455.3,262.4 L1456.0,262.4 L1456.7,262.4 L1457.4,262.4 L1458.1,262.4 L1458.8,262.4 L1459.5,262.4 L1460.2,262.4 L1460.9,262.4 L1461.6,262.4 L1462.3,262.4 L1463.0,262.4 L1463.7,262.4 L1464.4,262.4 L1465.1,262.4 L1465.8,262.4 L1466.5,262.4 L1467.2,262.4 L1467.9,262.3 L1468.6,262.3 L1469.3,262.3 L1470.0,262.3 L1470.7,262.3 L1471.4,262.3 L1472.1,262.3 L1472.8,262.3 L1473.5,262.3 L1474.2,262.3 L1474.9,262.2 L1475.6,262.2 L1476.3,262.2 L1477.0,262.2 L1477.7,262.2 L1478.4,262.2 L1479.1,262.1 L1479.8,262.1 L1480.5,262.1 L1481.2,262.1 L1481.9,262.0 L1482.6,262.0 L1483.3,262.0 L1484.0,261.9 L1484.7,261.9 L1485.4,261.8 L1486.1,261.8 L1486.8,261.7 L1487.5,261.7 L1488.2,261.6 L1488.9,261.5 L1489.6,261.5 L1490.3,261.4 L1491.0,261.3 L1491.7,261.1 L1492.4,261.0 L1493.1,260.8 L1493.8,260.7 L1494.5,260.5 L1495.2,260.2 L1495.9,259.9 L1496.6,259.6 L1497.3,259.2 L1498.0,258.6 L1498.7,258.0 L1499.4,257.2 L1500.1,256.2 L1500.8,254.8 L1501.5,253.0 L1502.2,250.5 L1502.9,246.9 L1503.6,241.5 L1504.3,233.2 L1505.0,219.6 L1505.7,196.9 L1506.4,162.0 L1507.1,127.5 L1507.8,131.0 L1508.5,167.6 L1509.2,200.9 L1509.9,222.0 L1510.6,234.6 L1511.3,242.4 L1512.0,247.5 L1512.7,250.9 L1513.4,253.3 L1514.1,255.0 L1514.8,256.3 L1515.5,257.3 L1516.2,258.1 L1516.9,258.7 L1517.6,259.2 L1518.3,259.6 L1519.0,260.0 L1519.7,260.3 L1520.4,260.5 L1521.1,260.7 L1521.8,260.9 L1522.5,261.0 L1523.2,261.2 L1523.9,261.3 L1524.6,261.4 L1525.3,261.5 L1526.0,261.5 L1526.7,261.6 L1527.4,261.7 L1528.1,261.7 L1528.8,261.8 L1529.5,261.8 L1530.2,261.9 L1530.9,261.9 L1531.6,262.0 L1532.3,262.0 L1533.0,262.0 L1533.7,262.1 L1534.4,262.1 L1535.1,262.1 L1535.8,262.1 L1536.5,262.2 L1537.2,262.2 L1537.9,262.2 L1538.6,262.2 L1539.3,262.2 L1540.0,262.2 L1540.7,262.3 L1541.4,262.3 L1542.1,262.3 L1542.8,262.3 L1543.5,262.3 L1544.2,262.3 L1544.9,262.3 L1545.6,262.3 L1546.3,262.3 L1547.0,262.3 L1547.7,262.4 L1548.4,262.4 L1549.1,262.4 L1549.8,262.4 L1550.5,262.4 L1551.2,262.4 L1551.9,262.4 L1552.6,262.4 L1553.3,262.4 L1554.0,262.4 L1554.7,262.4 L1555.4,262.4 L1556.1,262.4 L1556.8,262.4 L1557.5,262.4 L1558.2,262.4 L1558.9,262.4 L1559.6,262.4 L1560.3,262.4 L1561.0,262.4 L1561.7,262.4 L1562.4,262.5 L1563.1,262.5 L1563.8,262.5 L1564.5,262.5 L1565.2,262.5 L1565.9,262.5 L1566.6,262.5 L1567.3,262.5 L1568.0,262.5 L1568.7,262.5 L1569.4,262.5 L1570.1,262.5 L1570.8,262.5 L1571.5,262.5 L1572.2,262.5 L1572.9,262.5 L1573.6,262.5 L1574.3,262.5 L1575.0,262.5 L1575.7,262.5 L1576.4,262.5 L1577.1,262.5 L1577.8,262.5 L1578.5,262.5 L1579.2,262.5 L1579.9,262.5 L1580.6,262.5 L1581.3,262.5 L1582.0,262.5 L1582.7,262.5 L1583.4,262.5 L1584.1,262.5 L1584.8,262.5 L1585.5,262.5 L1586.2,262.5 L1586.9,262.5 L1587.6,262.5 L1588.3,262.5 L1589.0,262.5 L1589.7,262.5 L1590.4,262.5 L1591.1,262.5 L1591.8,262.5 L1592.5,262.5 L1593.2,262.5 L1593.9,262.5 L1594.6,262.5 L1595.3,262.5 L1596.0,262.5 L1596.7,262.5 L1597.4,262.5 L1598.1,262.5 L1598.8,262.5 L1599.5,262.5 L1600.2,262.5 L1600.9,262.5 L1601.6,262.5 L1602.3,262.5 L1603.0,262.5 L1603.7,262.5 L1604.4,262.5 L1605.1,262.5 L1605.8,262.5 L1606.5,262.5 L1607.2,262.5 L1607.9,262.5 L1608.6,262.5 L1609.3,262.5 L1610.0,262.5 L1610.7,262.5 L1611.4,262.5 L1612.1,262.5 L1612.8,262.5 L1613.5,262.5 L1614.2,262.5 L1614.9,262.5 L1615.6,262.5 L1616.3,262.5 L1617.0,262.5 L1617.7,262.5 L1618.4,262.5 L1619.1,262.5 L1619.8,262.5 L1620.5,262.5 L1621.2,262.5 L1621.9,262.5 L1622.6,262.5 L1623.3,262.5 L1624.0,262.5 L1624.7,262.5 L1625.4,262.5 L1626.1,262.5 L1626.8,262.5 L1627.5,262.5 L1628.2,262.5 L1628.9,262.5 L1629.6,262.5 L1630.3,262.5 L1631.0,262.5 L1631.7,262.5 L1632.4,262.5 L1633.1,262.5 L1633.8,262.5 L1634.5,262.5 L1635.2,262.5 L1635.9,262.5 L1636.6,262.5 L1637.3,262.5 L1638.0,262.5 L1638.7,262.5 L1639.4,262.5 L1640.1,262.5 L1640.8,262.5 L1641.5,262.5 L1642.2,262.5 L1642.9,262.5 L1643.6,262.4 L1644.3,262.4 L1645.0,262.4 L1645.7,262.4 L1646.4,262.4 L1647.1,262.4 L1647.8,262.4 L1648.5,262.4 L1649.2,262.4 L1649.9,262.4 L1650.6,262.4 L1651.3,262.4 L1652.0,262.4 L1652.7,262.4 L1653.4,262.4 L1654.1,262.4 L1654.8,262.4 L1655.5,262.4 L1656.2,262.4 L1656.9,262.4 L1657.6,262.3 L1658.3,262.3 L1659.0,262.3 L1659.7,262.3 L1660.4,262.3 L1661.1,262.3 L1661.8,262.3 L1662.5,262.3 L1663.2,262.3 L1663.9,262.3 L1664.6,262.2 L1665.3,262.2 L1666.0,262.2 L1666.7,262.2 L1667.4,262.2 L1668.1,262.2 L1668.8,262.1 L1669.5,262.1 L1670.2,262.1 L1670.9,262.1 L1671.6,262.0 L1672.3,262.0 L1673.0,262.0 L1673.7,261.9 L1674.4,261.9 L1675.1,261.8 L1675.8,261.8 L1676.5,261.7 L1677.2,261.7 L1677.9,261.6 L1678.6,261.5 L1679.3,261.4 L1680.0,261.3 L1680.7,261.2 L1681.4,261.1 L1682.1,261.0 L1682.8,260.8 L1683.5,260.6 L1684.2,260.4 L1684.9,260.1 L1685.6,259.8 L1686.3,259.4 L1687.0,258.9 L1687.7,258.4 L1688.4,257.6 L1689.1,256.7 L1689.8,255.5 L1690.5,253.8 L1691.2,251.6 L1691.9,248.3 L1692.6,243.6 L1693.3,236.2 L1694.0,224.3 L1694.7,204.4 L1695.4,173.1 L1696.1,138.5 L1696.8,135.3 L1697.5,167.8 L1698.2,200.7 L1698.9,222.0 L1699.6,234.8 L1700.3,242.7 L1701.0,247.8 L1701.7,251.2 L1702.4,253.5 L1703.1,255.3 L1703.8,256.5 L1704.5,257.5 L1705.2,258.3 L1705.9,258.9 L1706.6,259.3 L1707.3,259.7 L1708.0,260.1 L1708.7,260.3 L1709.4,260.6 L1710.1,260.8 L1710.8,260.9 L1711.5,261.1 L1712.2,261.2 L1712.9,261.3 L1713.6,261.4 L1714.3,261.5 L1715.0,261.6 L1715.7,261.7 L1716.4,261.7 L1717.1,261.8 L1717.8,261.8 L1718.5,261.9 L1719.2,261.9 L1719.9,262.0 L1720.6,262.0 L1721.3,262.0 L1722.0,262.1 L1722.7,262.1 L1723.4,262.1 L1724.1,262.1 L1724.8,262.2 L1725.5,262.2 L1726.2,262.2 L1726.9,262.2 L1727.6,262.2 L1728.3,262.2 L1729.0,262.3 L1729.7,262.3 L1730.4,262.3 L1731.1,262.3 L1731.8,262.3 L1732.5,262.3 L1733.2,262.3 L1733.9,262.3 L1734.6,262.3 L1735.3,262.3 L1736.0,262.4 L1736.7,262.4 L1737.4,262.4 L1738.1,262.4 L1738.8,262.4 L1739.5,262.4 L1740.2,262.4 L1740.9,262.4 L1741.6,262.4 L1742.3,262.4 L1743.0,262.4 L1743.7,262.4 L1744.4,262.4 L1745.1,262.4 L1745.8,262.4 L1746.5,262.4 L1747.2,262.4 L1747.9,262.4 L1748.6,262.4 L1749.3,262.4 L1750.0,262.5 L1750.7,262.5 L1751.4,262.5 L1752.1,262.5 L1752.8,262.5 L1753.5,262.5 L1754.2,262.5 L1754.9,262.5 L1755.6,262.5 L1756.3,262.5 L1757.0,262.5 L1757.7,262.5 L1758.4,262.5 L1759.1,262.5 L1759.8,262.5 L1760.5,262.5 L1761.2,262.5 L1761.9,262.5 L1762.6,262.5 L1763.3,262.5 L1764.0,262.5 L1764.7,262.5 L1765.4,262.5 L1766.1,262.5 L1766.8,262.5 L1767.5,262.5 L1768.2,262.5 L1768.9,262.5 L1769.6,262.5 L1770.3,262.5 L1771.0,262.5 L1771.7,262.5 L1772.4,262.5 L1773.1,262.5 L1773.8,262.5 L1774.5,262.5 L1775.2,262.5 L1775.9,262.5 L1776.6,262.5 L1777.3,262.5 L1778.0,262.5 L1778.7,262.5 L1779.4,262.5 L1780.1,262.5 L1780.8,262.5 L1781.5,262.5 L1782.2,262.5 L1782.9,262.5 L1783.6,262.5 L1784.3,262.5 L1785.0,262.5 L1785.7,262.5 L1786.4,262.5 L1787.1,262.5 L1787.8,262.5 L1788.5,262.5 L1789.2,262.5 L1789.9,262.5 L1790.6,262.5 L1791.3,262.5 L1792.0,262.5 L1792.7,262.5 L1793.4,262.5 L1794.1,262.5 L1794.8,262.5 L1795.5,262.5 L1796.2,262.5 L1796.9,262.5 L1797.6,262.5 L1798.3,262.5 L1799.0,262.5 L1799.7,262.5 L1800.4,262.5 L1801.1,262.5 L1801.8,262.5 L1802.5,262.5 L1803.2,262.5 L1803.9,262.5 L1804.6,262.5 L1805.3,262.5 L1806.0,262.5 L1806.7,262.5 L1807.4,262.5 L1808.1,262.5 L1808.8,262.5 L1809.5,262.5 L1810.2,262.5 L1810.9,262.5 L1811.6,262.5 L1812.3,262.5 L1813.0,262.5 L1813.7,262.5 L1814.4,262.5 L1815.1,262.5 L1815.8,262.5 L1816.5,262.5 L1817.2,262.5 L1817.9,262.5 L1818.6,262.5 L1819.3,262.5 L1820.0,262.5 L1820.7,262.5 L1821.4,262.5 L1822.1,262.5 L1822.8,262.5 L1823.5,262.5 L1824.2,262.5 L1824.9,262.5 L1825.6,262.5 L1826.3,262.5 L1827.0,262.5 L1827.7,262.5 L1828.4,262.5 L1829.1,262.5 L1829.8,262.4 L1830.5,262.4 L1831.2,262.4 L1831.9,262.4 L1832.6,262.4 L1833.3,262.4 L1834.0,262.4 L1834.7,262.4 L1835.4,262.4 L1836.1,262.4 L1836.8,262.4 L1837.5,262.4 L1838.2,262.4 L1838.9,262.4 L1839.6,262.4 L1840.3,262.4 L1841.0,262.4 L1841.7,262.4 L1842.4,262.4 L1843.1,262.4 L1843.8,262.4 L1844.5,262.3 L1845.2,262.3 L1845.9,262.3 L1846.6,262.3 L1847.3,262.3 L1848.0,262.3 L1848.7,262.3 L1849.4,262.3 L1850.1,262.3 L1850.8,262.3 L1851.5,262.2 L1852.2,262.2 L1852.9,262.2 L1853.6,262.2 L1854.3,262.2 L1855.0,262.2 L1855.7,262.1 L1856.4,262.1 L1857.1,262.1 L1857.8,262.1 L1858.5,262.0 L1859.2,262.0 L1859.9,262.0 L1860.6,261.9 L1861.3,261.9 L1862.0,261.8 L1862.7,261.8 L1863.4,261.7 L1864.1,261.7 L1864.8,261.6 L1865.5,261.5 L1866.2,261.5 L1866.9,261.4 L1867.6,261.3 L1868.3,261.2 L1869.0,261.0 L1869.7,260.9 L1870.4,260.7 L1871.1,260.5 L1871.8,260.2 L1872.5,259.9 L1873.2,259.6 L1873.9,259.2 L1874.6,258.6 L1875.3,258.0 L1876.0,257.2 L1876.7,256.1 L1877.4,254.8 L1878.1,252.9 L1878.8,250.3 L1879.5,246.6 L1880.2,241.1 L1880.9,232.3 L1881.6,218.0 L1882.3,194.3 L1883.0,158.8 L1883.7,128.1 L1884.4,138.1 L1885.1,175.2 L1885.8,205.9 L1886.5,225.1 L1887.2,236.6 L1887.9,243.7 L1888.6,248.4 L1889.3,251.6 L1890.0,253.8 L1890.7,255.4 L1891.4,256.6 L1892.1,257.6 L1892.8,258.3 L1893.5,258.9 L1894.2,259.4 L1894.9,259.7 L1895.6,260.1 L1896.3,260.3 L1897.0,260.6 L1897.7,260.8 L1898.4,260.9 L1899.1,261.1 L1899.8,261.2 L1900.5,261.3 L1901.2,261.4 L1901.9,261.5 L1902.6,261.6 L1903.3,261.7 L1904.0,261.7 L1904.7,261.8 L1905.4,261.8 L1906.1,261.9 L1906.8,261.9 L1907.5,261.9 L1908.2,262.0 L1908.9,262.0 L1909.6,262.0 L1910.3,262.1 L1911.0,262.1 L1911.7,262.1 L1912.4,262.1 L1913.1,262.2 L1913.8,262.2 L1914.5,262.2 L1915.2,262.2 L1915.9,262.2 L1916.6,262.2 L1917.3,262.3 L1918.0,262.3 L1918.7,262.3 L1919.4,262.3 L1920.1,262.3 L1920.8,262.3 L1921.5,262.3 L1922.2,262.3 L1922.9,262.3 L1923.6,262.4 L1924.3,262.4 L1925.0,262.4 L1925.7,262.4 L1926.4,262.4 L1927.1,262.4 L1927.8,262.4 L1928.5,262.4 L1929.2,262.4 L1929.9,262.4 L1930.6,262.4 L1931.3,262.4 L1932.0,262.4 L1932.7,262.4 L1933.4,262.4 L1934.1,262.4 L1934.8,262.4 L1935.5,262.4 L1936.2,262.4 L1936.9,262.4 L1937.6,262.4 L1938.3,262.5 L1939.0,262.5 L1939.7,262.5 L1940.4,262.5 L1941.1,262.5 L1941.8,262.5 L1942.5,262.5 L1943.2,262.5 L1943.9,262.5 L1944.6,262.5 L1945.3,262.5 L1946.0,262.5 L1946.7,262.5 L1947.4,262.5 L1948.1,262.5 L1948.8,262.5 L1949.5,262.5 L1950.2,262.5 L1950.9,262.5 L1951.6,262.5 L1952.3,262.5 L1953.0,262.5 L1953.7,262.5 L1954.4,262.5 L1955.1,262.5 L1955.8,262.5 L1956.5,262.5 L1957.2,262.5 L1957.9,262.5 L1958.6,262.5 L1959.3,262.5 L1960.0,262.5 L1960.7,262.5 L1961.4,262.5 L1962.1,262.5 L1962.8,262.5 L1963.5,262.5 L1964.2,262.5 L1964.9,262.5 L1965.6,262.5 L1966.3,262.5 L1967.0,262.5 L1967.7,262.5 L1968.4,262.5 L1969.1,262.5 L1969.8,262.5 L1970.5,262.5 L1971.2,262.5 L1971.9,262.5 L1972.6,262.5 L1973.3,262.5 L1974.0,262.5 L1974.7,262.5 L1975.4,262.5 L1976.1,262.5 L1976.8,262.5 L1977.5,262.5 L1978.2,262.5 L1978.9,262.5 L1979.6,262.5 L1980.3,262.5 L1981.0,262.5 L1981.7,262.5 L1982.4,262.5 L1983.1,262.5 L1983.8,262.5 L1984.5,262.5 L1985.2,262.5 L1985.9,262.5 L1986.6,262.5 L1987.3,262.5 L1988.0,262.5 L1988.7,262.5 L1989.4,262.5 L1990.1,262.5 L1990.8,262.5 L1991.5,262.5 L1992.2,262.5 L1992.9,262.5 L1993.6,262.5 L1994.3,262.5 L1995.0,262.5 L1995.7,262.5 L1996.4,262.5 L1997.1,262.5 L1997.8,262.5 L1998.5,262.5 L1999.2,262.5 L1999.9,262.5 L2000.6,262.5 L2001.3,262.5 L2002.0,262.5 L2002.7,262.5 L2003.4,262.5 L2004.1,262.5 L2004.8,262.5 L2005.5,262.5 L2006.2,262.5 L2006.9,262.5 L2007.6,262.5 L2008.3,262.5 L2009.0,262.5 L2009.7,262.5 L2010.4,262.5 L2011.1,262.5 L2011.8,262.5 L2012.5,262.5 L2013.2,262.5 L2013.9,262.5 L2014.6,262.5 L2015.3,262.5 L2016.0,262.5 L2016.7,262.5 L2017.4,262.5 L2018.1,262.5 L2018.8,262.5 L2019.5,262.4 L2020.2,262.4 L2020.9,262.4 L2021.6,262.4 L2022.3,262.4 L2023.0,262.4 L2023.7,262.4 L2024.4,262.4 L2025.1,262.4 L2025.8,262.4 L2026.5,262.4 L2027.2,262.4 L2027.9,262.4 L2028.6,262.4 L2029.3,262.4 L2030.0,262.4 L2030.7,262.4 L2031.4,262.4 L2032.1,262.4 L2032.8,262.4 L2033.5,262.3 L2034.2,262.3 L2034.9,262.3 L2035.6,262.3 L2036.3,262.3 L2037.0,262.3 L2037.7,262.3 L2038.4,262.3 L2039.1,262.3 L2039.8,262.3 L2040.5,262.2 L2041.2,262.2 L2041.9,262.2 L2042.6,262.2 L2043.3,262.2 L2044.0,262.2 L2044.7,262.1 L2045.4,262.1 L2046.1,262.1 L2046.8,262.1 L2047.5,262.0 L2048.2,262.0 L2048.9,262.0 L2049.6,261.9 L2050.3,261.9 L2051.0,261.9 L2051.7,261.8 L2052.4,261.8 L2053.1,261.7 L2053.8,261.6 L2054.5,261.6 L2055.2,261.5 L2055.9,261.4 L2056.6,261.3 L2057.3,261.2 L2058.0,261.0 L2058.7,260.9 L2059.4,260.7 L2060.1,260.5 L2060.8,260.3 L2061.5,260.0 L2062.2,259.6 L2062.9,259.2 L2063.6,258.7 L2064.3,258.1 L2065.0,257.3 L2065.7,256.3 L2066.4,255.0 L2067.1,253.2 L2067.8,250.8 L2068.5,247.2 L2069.2,242.0 L2069.9,233.8 L2070.6,220.5 L2071.3,198.4 L2072.0,164.3 L2072.7,130.6 L2073.4,134.0 L2074.1,169.8 L2074.8,202.3 L2075.5,222.9 L2076.2,235.3 L2076.9,242.9 L2077.6,247.8 L2078.3,251.2 L2079.0,253.5 L2079.7,255.2 L2080.4,256.5 L2081.1,257.4 L2081.8,258.2 L2082.5,258.8 L2083.2,259.3 L2083.9,259.7 L2084.6,260.0 L2085.3,260.3 L2086.0,260.5 L2086.7,260.7 L2087.4,260.9 L2088.1,261.1 L2088.8,261.2 L2089.5,261.3 L2090.2,261.4 L2090.9,261.5 L2091.6,261.6 L2092.3,261.6 L2093.0,261.7 L2093.7,261.8 L2094.4,261.8 L2095.1,261.9 L2095.8,261.9 L2096.5,261.9 L2097.2,262.0 L2097.9,262.0 L2098.6,262.0 L2099.3,262.1 L2100.0,262.1 L2100.7,262.1 L2101.4,262.1 L2102.1,262.2 L2102.8,262.2 L2103.5,262.2 L2104.2,262.2 L2104.9,262.2 L2105.6,262.2 L2106.3,262.3 L2107.0,262.3 L2107.7,262.3 L2108.4,262.3 L2109.1,262.3 L2109.8,262.3 L2110.5,262.3 L2111.2,262.3 L2111.9,262.3 L2112.6,262.4 L2113.3,262.4 L2114.0,262.4 L2114.7,262.4 L2115.4,262.4 L2116.1,262.4 L2116.8,262.4 L2117.5,262.4 L2118.2,262.4 L2118.9,262.4 L2119.6,262.4 L2120.3,262.4 L2121.0,262.4 L2121.7,262.4 L2122.4,262.4 L2123.1,262.4 L2123.8,262.4 L2124.5,262.4 L2125.2,262.4 L2125.9,262.4 L2126.6,262.5 L2127.3,262.5 L2128.0,262.5 L2128.7,262.5 L2129.4,262.5 L2130.1,262.5 L2130.8,262.5 L2131.5,262.5 L2132.2,262.5 L2132.9,262.5 L2133.6,262.5 L2134.3,262.5 L2135.0,262.5 L2135.7,262.5 L2136.4,262.5 L2137.1,262.5 L2137.8,262.5 L2138.5,262.5 L2139.2,262.5 L2139.9,262.5 L2140.6,262.5 L2141.3,262.5 L2142.0,262.5 L2142.7,262.5 L2143.4,262.5 L2144.1,262.5 L2144.8,262.5 L2145.5,262.5 L2146.2,262.5 L2146.9,262.5 L2147.6,262.5 L2148.3,262.5 L2149.0,262.5 L2149.7,262.5 L2150.4,262.5 L2151.1,262.5 L2151.8,262.5 L2152.5,262.5 L2153.2,262.5 L2153.9,262.5 L2154.6,262.5 L2155.3,262.5 L2156.0,262.5 L2156.7,262.5 L2157.4,262.5 L2158.1,262.5 L2158.8,262.5 L2159.5,262.5 L2160.2,262.5 L2160.9,262.5 L2161.6,262.5 L2162.3,262.5 L2163.0,262.5 L2163.7,262.5 L2164.4,262.5 L2165.1,262.5 L2165.8,262.5 L2166.5,262.5 L2167.2,262.5 L2167.9,262.5 L2168.6,262.5 L2169.3,262.5 L2170.0,262.5 L2170.7,262.5 L2171.4,262.5 L2172.1,262.5 L2172.8,262.5 L2173.5,262.5 L2174.2,262.5 L2174.9,262.5 L2175.6,262.5 L2176.3,262.5 L2177.0,262.5 L2177.7,262.5 L2178.4,262.5 L2179.1,262.5 L2179.8,262.5 L2180.5,262.5 L2181.2,262.5 L2181.9,262.5 L2182.6,262.5 L2183.3,262.5 L2184.0,262.5 L2184.7,262.5 L2185.4,262.5 L2186.1,262.5 L2186.8,262.5 L2187.5,262.5 L2188.2,262.5 L2188.9,262.5 L2189.6,262.5 L2190.3,262.5 L2191.0,262.5 L2191.7,262.5 L2192.4,262.5 L2193.1,262.5 L2193.8,262.5 L2194.5,262.5 L2195.2,262.5 L2195.9,262.5 L2196.6,262.5 L2197.3,262.5 L2198.0,262.5 L2198.7,262.5 L2199.4,262.5 L2200.1,262.5 L2200.8,262.5 L2201.5,262.5 L2202.2,262.5 L2202.9,262.5 L2203.6,262.5 L2204.3,262.5 L2205.0,262.5 L2205.7,262.5 L2206.4,262.5 L2207.1,262.5 L2207.8,262.5 L2208.5,262.5 L2209.2,262.5 L2209.9,262.5 L2210.6,262.5 L2211.3,262.4 L2212.0,262.4 L2212.7,262.4 L2213.4,262.4 L2214.1,262.4 L2214.8,262.4 L2215.5,262.4 L2216.2,262.4 L2216.9,262.4 L2217.6,262.4 L2218.3,262.4 L2219.0,262.4 L2219.7,262.4 L2220.4,262.4 L2221.1,262.4 L2221.8,262.4 L2222.5,262.4 L2223.2,262.4 L2223.9,262.4 L2224.6,262.3 L2225.3,262.3 L2226.0,262.3 L2226.7,262.3 L2227.4,262.3 L2228.1,262.3 L2228.8,262.3 L2229.5,262.3 L2230.2,262.3 L2230.9,262.2 L2231.6,262.2 L2232.3,262.2 L2233.0,262.2 L2233.7,262.2 L2234.4,262.2 L2235.1,262.1 L2235.8,262.1 L2236.5,262.1 L2237.2,262.0 L2237.9,262.0 L2238.6,262.0 L2239.3,261.9 L2240.0,261.9 L2240.7,261.9 L2241.4,261.8 L2242.1,261.8 L2242.8,261.7 L2243.5,261.6 L2244.2,261.6 L2244.9,261.5 L2245.6,261.4 L2246.3,261.3 L2247.0,261.1 L2247.7,261.0 L2248.4,260.8 L2249.1,260.6 L2249.8,260.4 L2250.5,260.1 L2251.2,259.8 L2251.9,259.4 L2252.6,259.0 L2253.3,258.4 L2254.0,257.6 L2254.7,256.7 L2255.4,255.4 L2256.1,253.8 L2256.8,251.5 L2257.5,248.2 L2258.2,243.2 L2258.9,235.5 L2259.6,223.0 L2260.3,202.2 L2261.0,170.1 L2261.7,138.4 L2262.4,141.6 L2263.1,175.3 L2263.8,205.8 L2264.5,225.2 L2265.2,236.9 L2265.9,244.1 L2266.6,248.7 L2267.3,251.8 L2268.0,254.0 L2268.7,255.6 L2269.4,256.8 L2270.1,257.8 L2270.8,258.5 L2271.5,259.0 L2272.2,259.5 L2272.9,259.9 L2273.6,260.2 L2274.3,260.4 L2275.0,260.7 L2275.7,260.9 L2276.4,261.0 L2277.1,261.2 L2277.8,261.3 L2278.5,261.4 L2279.2,261.5 L2279.9,261.6 L2280.6,261.6 L2281.3,261.7 L2282.0,261.8 L2282.7,261.8 L2283.4,261.9 L2284.1,261.9 L2284.8,262.0 L2285.5,262.0 L2286.2,262.0 L2286.9,262.1 L2287.6,262.1 L2288.3,262.1 L2289.0,262.1 L2289.7,262.2 L2290.4,262.2 L2291.1,262.2 L2291.8,262.2 L2292.5,262.2 L2293.2,262.3 L2293.9,262.3 L2294.6,262.3 L2295.3,262.3 L2296.0,262.3 L2296.7,262.3 L2297.4,262.3 L2298.1,262.3 L2298.8,262.3 L2299.5,262.4 L2300.2,262.4 L2300.9,262.4 L2301.6,262.4 L2302.3,262.4 L2303.0,262.4 L2303.7,262.4 L2304.4,262.4 L2305.1,262.4 L2305.8,262.4 L2306.5,262.4 L2307.2,262.4 L2307.9,262.4 L2308.6,262.4 L2309.3,262.4 L2310.0,262.4 L2310.7,262.5 L2311.4,262.5 L2312.1,262.5 L2312.8,262.5 L2313.5,262.5 L2314.2,262.5 L2314.9,262.5 L2315.6,262.5 L2316.3,262.5 L2317.0,262.5 L2317.7,262.5 L2318.4,262.5 L2319.1,262.5 L2319.8,262.5 L2320.5,262.5 L2321.2,262.5 L2321.9,262.5 L2322.6,262.5 L2323.3,262.5 L2324.0,262.5 L2324.7,262.5 L2325.4,262.5 L2326.1,262.5 L2326.8,262.5 L2327.5,262.5 L2328.2,262.5 L2328.9,262.5 L2329.6,262.5 L2330.3,262.5 L2331.0,262.5 L2331.7,262.5 L2332.4,262.5 L2333.1,262.5 L2333.8,262.5 L2334.5,262.5 L2335.2,262.5 L2335.9,262.5 L2336.6,262.5 L2337.3,262.5 L2338.0,262.5 L2338.7,262.5 L2339.4,262.5 L2340.1,262.5 L2340.8,262.5 L2341.5,262.5 L2342.2,262.5 L2342.9,262.5 L2343.6,262.5 L2344.3,262.5 L2345.0,262.5 L2345.7,262.5 L2346.4,262.5 L2347.1,262.5 L2347.8,262.5 L2348.5,262.5 L2349.2,262.5 L2349.9,262.5 L2350.6,262.6 L2351.3,262.6 L2352.0,262.6 L2352.7,262.6 L2353.4,262.6 L2354.1,262.6 L2354.8,262.6 L2355.5,262.6 L2356.2,262.6 L2356.9,262.6 L2357.6,262.6 L2358.3,262.6 L2359.0,262.6 L2359.7,262.6 L2360.4,262.6 L2361.1,262.6 L2361.8,262.6 L2362.5,262.6 L2363.2,262.6 L2363.9,262.6 L2364.6,262.6 L2365.3,262.6 L2366.0,262.6 L2366.7,262.6 L2367.4,262.6 L2368.1,262.6 L2368.8,262.6 L2369.5,262.6 L2370.2,262.6 L2370.9,262.6 L2371.6,262.6 L2372.3,262.6 L2373.0,262.6 L2373.7,262.6 L2374.4,262.6 L2375.1,262.6 L2375.8,262.6 L2376.5,262.6 L2377.2,262.6 L2377.9,262.6 L2378.6,262.6 L2379.3,262.6 L2380.0,262.6 L2380.7,262.6 L2381.4,262.6 L2382.1,262.6 L2382.8,262.6 L2383.5,262.6 L2384.2,262.6 L2384.9,262.6 L2385.6,262.6 L2386.3,262.6 L2387.0,262.6 L2387.7,262.6 L2388.4,262.6 L2389.1,262.6 L2389.8,262.6 L2390.5,262.6" fill="none" stroke="#ff0000" stroke-width="12" stroke-linejoin="round" stroke-linecap="round"/>
<line x1="1318.3" y1="337.6" x2="1318.3" y2="466" stroke="#000" stroke-width="11" stroke-linecap="round"/>
<line x1="1507.4" y1="342" x2="1507.4" y2="466" stroke="#000" stroke-width="11" stroke-linecap="round"/>
<line x1="1695.5" y1="336" x2="1695.5" y2="466" stroke="#000" stroke-width="11" stroke-linecap="round"/>
<line x1="1884.5" y1="332.8" x2="1884.5" y2="466" stroke="#000" stroke-width="11" stroke-linecap="round"/>
<line x1="2073.3" y1="332.8" x2="2073.3" y2="466" stroke="#000" stroke-width="11" stroke-linecap="round"/>
<line x1="2262" y1="340.7" x2="2262" y2="466" stroke="#000" stroke-width="11" stroke-linecap="round"/>
<rect x="1271.5" y="462" width="1130.5" height="25" fill="#000"/>
<text transform="translate(1304.47,108.90) scale(1.1138,1)" font-family="'Liberation Sans', Arial, sans-serif" font-weight="normal" font-size="54.20" fill="#ff0000" stroke="#ff0000" stroke-width="2.2" stroke-linejoin="round">InN (1012)</text>
<text transform="translate(1302.60,337.00) scale(1.0101,1)" font-family="'Liberation Sans', Arial, sans-serif" font-weight="normal" font-size="59.42" fill="#000" stroke="#000" stroke-width="1.2">GaN (1012)</text>
<text transform="translate(2226.43,108.80) scale(1.0021,1)" font-family="'Liberation Sans', Arial, sans-serif" font-weight="bold" font-size="49.00" fill="#ff0000" >530 °C</text>
<path d="M1277.5,714.0 L1278.2,714.0 L1278.9,714.0 L1279.6,714.0 L1280.3,714.0 L1281.0,714.0 L1281.7,714.0 L1282.4,714.0 L1283.1,714.0 L1283.8,714.0 L1284.5,714.0 L1285.2,714.0 L1285.9,714.0 L1286.6,714.0 L1287.3,714.0 L1288.0,714.0 L1288.7,714.0 L1289.4,714.0 L1290.1,714.0 L1290.8,714.0 L1291.5,714.0 L1292.2,714.0 L1292.9,714.0 L1293.6,714.0 L1294.3,714.0 L1295.0,714.0 L1295.7,714.0 L1296.4,714.0 L1297.1,714.0 L1297.8,714.0 L1298.5,714.0 L1299.2,714.0 L1299.9,714.0 L1300.6,714.0 L1301.3,714.0 L1302.0,714.0 L1302.7,714.0 L1303.4,714.0 L1304.1,714.0 L1304.8,714.0 L1305.5,714.0 L1306.2,714.0 L1306.9,714.0 L1307.6,714.0 L1308.3,714.0 L1309.0,714.0 L1309.7,714.0 L1310.4,714.0 L1311.1,714.0 L1311.8,714.0 L1312.5,714.0 L1313.2,714.0 L1313.9,714.0 L1314.6,714.0 L1315.3,714.0 L1316.0,714.0 L1316.7,714.0 L1317.4,714.0 L1318.1,714.0 L1318.8,714.0 L1319.5,714.0 L1320.2,714.0 L1320.9,714.0 L1321.6,714.0 L1322.3,714.0 L1323.0,714.0 L1323.7,714.0 L1324.4,714.0 L1325.1,714.0 L1325.8,714.0 L1326.5,714.0 L1327.2,714.0 L1327.9,714.0 L1328.6,714.0 L1329.3,714.0 L1330.0,714.0 L1330.7,714.0 L1331.4,714.0 L1332.1,714.0 L1332.8,714.0 L1333.5,714.0 L1334.2,714.0 L1334.9,714.0 L1335.6,714.0 L1336.3,714.0 L1337.0,714.0 L1337.7,714.0 L1338.4,714.0 L1339.1,714.0 L1339.8,714.0 L1340.5,714.0 L1341.2,714.0 L1341.9,714.0 L1342.6,714.0 L1343.3,714.0 L1344.0,714.0 L1344.7,714.0 L1345.4,714.0 L1346.1,714.0 L1346.8,714.0 L1347.5,714.0 L1348.2,713.9 L1348.9,713.9 L1349.6,713.9 L1350.3,713.9 L1351.0,713.9 L1351.7,713.9 L1352.4,713.9 L1353.1,713.9 L1353.8,713.9 L1354.5,713.9 L1355.2,713.9 L1355.9,713.9 L1356.6,713.9 L1357.3,713.9 L1358.0,713.9 L1358.7,713.9 L1359.4,713.9 L1360.1,713.9 L1360.8,713.9 L1361.5,713.9 L1362.2,713.9 L1362.9,713.9 L1363.6,713.9 L1364.3,713.9 L1365.0,713.9 L1365.7,713.9 L1366.4,713.9 L1367.1,713.9 L1367.8,713.9 L1368.5,713.9 L1369.2,713.9 L1369.9,713.9 L1370.6,713.9 L1371.3,713.9 L1372.0,713.9 L1372.7,713.9 L1373.4,713.9 L1374.1,713.9 L1374.8,713.9 L1375.5,713.9 L1376.2,713.9 L1376.9,713.9 L1377.6,713.9 L1378.3,713.9 L1379.0,713.9 L1379.7,713.9 L1380.4,713.9 L1381.1,713.9 L1381.8,713.9 L1382.5,713.9 L1383.2,713.9 L1383.9,713.9 L1384.6,713.9 L1385.3,713.9 L1386.0,713.9 L1386.7,713.8 L1387.4,713.8 L1388.1,713.8 L1388.8,713.8 L1389.5,713.8 L1390.2,713.8 L1390.9,713.8 L1391.6,713.8 L1392.3,713.8 L1393.0,713.8 L1393.7,713.8 L1394.4,713.8 L1395.1,713.8 L1395.8,713.8 L1396.5,713.8 L1397.2,713.7 L1397.9,713.7 L1398.6,713.7 L1399.3,713.7 L1400.0,713.7 L1400.7,713.7 L1401.4,713.7 L1402.1,713.7 L1402.8,713.7 L1403.5,713.6 L1404.2,713.6 L1404.9,713.6 L1405.6,713.6 L1406.3,713.6 L1407.0,713.5 L1407.7,713.5 L1408.4,713.5 L1409.1,713.5 L1409.8,713.4 L1410.5,713.4 L1411.2,713.3 L1411.9,713.3 L1412.6,713.3 L1413.3,713.2 L1414.0,713.1 L1414.7,713.1 L1415.4,713.0 L1416.1,712.9 L1416.8,712.8 L1417.5,712.7 L1418.2,712.6 L1418.9,712.5 L1419.6,712.3 L1420.3,712.1 L1421.0,711.9 L1421.7,711.7 L1422.4,711.4 L1423.1,711.0 L1423.8,710.6 L1424.5,710.0 L1425.2,709.3 L1425.9,708.4 L1426.6,707.2 L1427.3,705.7 L1428.0,703.5 L1428.7,700.3 L1429.4,695.7 L1430.1,688.4 L1430.8,676.6 L1431.5,656.9 L1432.2,626.5 L1432.9,596.5 L1433.6,599.5 L1434.3,631.4 L1435.0,660.3 L1435.7,678.7 L1436.4,689.7 L1437.1,696.5 L1437.8,700.9 L1438.5,703.8 L1439.2,705.9 L1439.9,707.4 L1440.6,708.6 L1441.3,709.4 L1442.0,710.1 L1442.7,710.6 L1443.4,711.1 L1444.1,711.4 L1444.8,711.7 L1445.5,712.0 L1446.2,712.2 L1446.9,712.3 L1447.6,712.5 L1448.3,712.6 L1449.0,712.7 L1449.7,712.9 L1450.4,712.9 L1451.1,713.0 L1451.8,713.1 L1452.5,713.2 L1453.2,713.2 L1453.9,713.3 L1454.6,713.3 L1455.3,713.3 L1456.0,713.4 L1456.7,713.4 L1457.4,713.5 L1458.1,713.5 L1458.8,713.5 L1459.5,713.5 L1460.2,713.6 L1460.9,713.6 L1461.6,713.6 L1462.3,713.6 L1463.0,713.6 L1463.7,713.6 L1464.4,713.7 L1465.1,713.7 L1465.8,713.7 L1466.5,713.7 L1467.2,713.7 L1467.9,713.7 L1468.6,713.7 L1469.3,713.7 L1470.0,713.8 L1470.7,713.8 L1471.4,713.8 L1472.1,713.8 L1472.8,713.8 L1473.5,713.8 L1474.2,713.8 L1474.9,713.8 L1475.6,713.8 L1476.3,713.8 L1477.0,713.8 L1477.7,713.8 L1478.4,713.8 L1479.1,713.8 L1479.8,713.8 L1480.5,713.8 L1481.2,713.8 L1481.9,713.8 L1482.6,713.9 L1483.3,713.9 L1484.0,713.9 L1484.7,713.9 L1485.4,713.9 L1486.1,713.9 L1486.8,713.9 L1487.5,713.9 L1488.2,713.9 L1488.9,713.9 L1489.6,713.9 L1490.3,713.9 L1491.0,713.9 L1491.7,713.9 L1492.4,713.9 L1493.1,713.9 L1493.8,713.9 L1494.5,713.9 L1495.2,713.9 L1495.9,713.9 L1496.6,713.9 L1497.3,713.9 L1498.0,713.9 L1498.7,713.9 L1499.4,713.9 L1500.1,713.9 L1500.8,713.9 L1501.5,713.9 L1502.2,713.9 L1502.9,713.9 L1503.6,713.9 L1504.3,713.9 L1505.0,713.9 L1505.7,713.9 L1506.4,713.9 L1507.1,713.9 L1507.8,713.9 L1508.5,713.9 L1509.2,713.9 L1509.9,713.9 L1510.6,713.9 L1511.3,713.9 L1512.0,713.9 L1512.7,713.9 L1513.4,713.9 L1514.1,713.9 L1514.8,713.9 L1515.5,713.9 L1516.2,713.9 L1516.9,713.9 L1517.6,713.9 L1518.3,713.9 L1519.0,713.9 L1519.7,713.9 L1520.4,713.9 L1521.1,713.9 L1521.8,713.9 L1522.5,713.9 L1523.2,713.9 L1523.9,713.9 L1524.6,713.9 L1525.3,713.9 L1526.0,713.9 L1526.7,713.9 L1527.4,713.9 L1528.1,713.9 L1528.8,713.9 L1529.5,713.9 L1530.2,713.9 L1530.9,713.9 L1531.6,713.9 L1532.3,713.9 L1533.0,713.9 L1533.7,713.9 L1534.4,713.9 L1535.1,713.9 L1535.8,713.9 L1536.5,713.9 L1537.2,713.9 L1537.9,713.9 L1538.6,713.9 L1539.3,713.9 L1540.0,713.9 L1540.7,713.9 L1541.4,713.9 L1542.1,713.9 L1542.8,713.9 L1543.5,713.9 L1544.2,713.9 L1544.9,713.9 L1545.6,713.9 L1546.3,713.9 L1547.0,713.9 L1547.7,713.9 L1548.4,713.9 L1549.1,713.9 L1549.8,713.9 L1550.5,713.9 L1551.2,713.9 L1551.9,713.9 L1552.6,713.9 L1553.3,713.9 L1554.0,713.9 L1554.7,713.9 L1555.4,713.9 L1556.1,713.9 L1556.8,713.9 L1557.5,713.9 L1558.2,713.9 L1558.9,713.9 L1559.6,713.9 L1560.3,713.9 L1561.0,713.9 L1561.7,713.9 L1562.4,713.9 L1563.1,713.9 L1563.8,713.9 L1564.5,713.9 L1565.2,713.9 L1565.9,713.9 L1566.6,713.9 L1567.3,713.9 L1568.0,713.9 L1568.7,713.9 L1569.4,713.9 L1570.1,713.9 L1570.8,713.9 L1571.5,713.8 L1572.2,713.8 L1572.9,713.8 L1573.6,713.8 L1574.3,713.8 L1575.0,713.8 L1575.7,713.8 L1576.4,713.8 L1577.1,713.8 L1577.8,713.8 L1578.5,713.8 L1579.2,713.8 L1579.9,713.8 L1580.6,713.8 L1581.3,713.8 L1582.0,713.8 L1582.7,713.8 L1583.4,713.8 L1584.1,713.8 L1584.8,713.7 L1585.5,713.7 L1586.2,713.7 L1586.9,713.7 L1587.6,713.7 L1588.3,713.7 L1589.0,713.7 L1589.7,713.7 L1590.4,713.7 L1591.1,713.6 L1591.8,713.6 L1592.5,713.6 L1593.2,713.6 L1593.9,713.6 L1594.6,713.6 L1595.3,713.5 L1596.0,713.5 L1596.7,713.5 L1597.4,713.5 L1598.1,713.4 L1598.8,713.4 L1599.5,713.4 L1600.2,713.3 L1600.9,713.3 L1601.6,713.2 L1602.3,713.2 L1603.0,713.1 L1603.7,713.1 L1604.4,713.0 L1605.1,712.9 L1605.8,712.9 L1606.5,712.8 L1607.2,712.6 L1607.9,712.5 L1608.6,712.4 L1609.3,712.2 L1610.0,712.0 L1610.7,711.8 L1611.4,711.5 L1612.1,711.2 L1612.8,710.8 L1613.5,710.4 L1614.2,709.8 L1614.9,709.0 L1615.6,708.1 L1616.3,706.9 L1617.0,705.3 L1617.7,703.0 L1618.4,699.8 L1619.1,695.1 L1619.8,687.7 L1620.5,675.8 L1621.2,656.0 L1621.9,624.8 L1622.6,590.4 L1623.3,587.1 L1624.0,619.6 L1624.7,652.3 L1625.4,673.6 L1626.1,686.4 L1626.8,694.2 L1627.5,699.2 L1628.2,702.6 L1628.9,705.0 L1629.6,706.7 L1630.3,708.0 L1631.0,708.9 L1631.7,709.7 L1632.4,710.3 L1633.1,710.8 L1633.8,711.2 L1634.5,711.5 L1635.2,711.8 L1635.9,712.0 L1636.6,712.2 L1637.3,712.4 L1638.0,712.5 L1638.7,712.6 L1639.4,712.7 L1640.1,712.8 L1640.8,712.9 L1641.5,713.0 L1642.2,713.1 L1642.9,713.1 L1643.6,713.2 L1644.3,713.2 L1645.0,713.3 L1645.7,713.3 L1646.4,713.4 L1647.1,713.4 L1647.8,713.4 L1648.5,713.5 L1649.2,713.5 L1649.9,713.5 L1650.6,713.5 L1651.3,713.6 L1652.0,713.6 L1652.7,713.6 L1653.4,713.6 L1654.1,713.6 L1654.8,713.6 L1655.5,713.7 L1656.2,713.7 L1656.9,713.7 L1657.6,713.7 L1658.3,713.7 L1659.0,713.7 L1659.7,713.7 L1660.4,713.7 L1661.1,713.7 L1661.8,713.8 L1662.5,713.8 L1663.2,713.8 L1663.9,713.8 L1664.6,713.8 L1665.3,713.8 L1666.0,713.8 L1666.7,713.8 L1667.4,713.8 L1668.1,713.8 L1668.8,713.8 L1669.5,713.8 L1670.2,713.8 L1670.9,713.8 L1671.6,713.8 L1672.3,713.8 L1673.0,713.8 L1673.7,713.8 L1674.4,713.8 L1675.1,713.8 L1675.8,713.9 L1676.5,713.9 L1677.2,713.9 L1677.9,713.9 L1678.6,713.9 L1679.3,713.9 L1680.0,713.9 L1680.7,713.9 L1681.4,713.9 L1682.1,713.9 L1682.8,713.9 L1683.5,713.9 L1684.2,713.9 L1684.9,713.9 L1685.6,713.9 L1686.3,713.9 L1687.0,713.9 L1687.7,713.9 L1688.4,713.9 L1689.1,713.9 L1689.8,713.9 L1690.5,713.9 L1691.2,713.9 L1691.9,713.9 L1692.6,713.9 L1693.3,713.9 L1694.0,713.9 L1694.7,713.9 L1695.4,713.9 L1696.1,713.9 L1696.8,713.9 L1697.5,713.9 L1698.2,713.9 L1698.9,713.9 L1699.6,713.9 L1700.3,713.9 L1701.0,713.9 L1701.7,713.9 L1702.4,713.9 L1703.1,713.9 L1703.8,713.9 L1704.5,713.9 L1705.2,713.9 L1705.9,713.9 L1706.6,713.9 L1707.3,713.9 L1708.0,713.9 L1708.7,713.9 L1709.4,713.9 L1710.1,713.9 L1710.8,713.9 L1711.5,713.9 L1712.2,713.9 L1712.9,713.9 L1713.6,713.9 L1714.3,713.9 L1715.0,713.9 L1715.7,713.9 L1716.4,713.9 L1717.1,713.9 L1717.8,713.9 L1718.5,713.9 L1719.2,713.9 L1719.9,713.9 L1720.6,713.9 L1721.3,713.9 L1722.0,713.9 L1722.7,713.9 L1723.4,713.9 L1724.1,713.9 L1724.8,713.9 L1725.5,713.9 L1726.2,713.9 L1726.9,713.9 L1727.6,713.9 L1728.3,713.9 L1729.0,713.9 L1729.7,713.9 L1730.4,713.9 L1731.1,713.9 L1731.8,713.9 L1732.5,713.9 L1733.2,713.9 L1733.9,713.9 L1734.6,713.9 L1735.3,713.9 L1736.0,713.9 L1736.7,713.9 L1737.4,713.9 L1738.1,713.9 L1738.8,713.9 L1739.5,713.9 L1740.2,713.9 L1740.9,713.9 L1741.6,713.9 L1742.3,713.9 L1743.0,713.9 L1743.7,713.9 L1744.4,713.9 L1745.1,713.9 L1745.8,713.9 L1746.5,713.9 L1747.2,713.9 L1747.9,713.9 L1748.6,713.9 L1749.3,713.9 L1750.0,713.9 L1750.7,713.9 L1751.4,713.9 L1752.1,713.9 L1752.8,713.9 L1753.5,713.9 L1754.2,713.9 L1754.9,713.9 L1755.6,713.9 L1756.3,713.9 L1757.0,713.9 L1757.7,713.9 L1758.4,713.9 L1759.1,713.9 L1759.8,713.9 L1760.5,713.8 L1761.2,713.8 L1761.9,713.8 L1762.6,713.8 L1763.3,713.8 L1764.0,713.8 L1764.7,713.8 L1765.4,713.8 L1766.1,713.8 L1766.8,713.8 L1767.5,713.8 L1768.2,713.8 L1768.9,713.8 L1769.6,713.8 L1770.3,713.8 L1771.0,713.8 L1771.7,713.8 L1772.4,713.8 L1773.1,713.8 L1773.8,713.8 L1774.5,713.7 L1775.2,713.7 L1775.9,713.7 L1776.6,713.7 L1777.3,713.7 L1778.0,713.7 L1778.7,713.7 L1779.4,713.7 L1780.1,713.7 L1780.8,713.6 L1781.5,713.6 L1782.2,713.6 L1782.9,713.6 L1783.6,713.6 L1784.3,713.6 L1785.0,713.5 L1785.7,713.5 L1786.4,713.5 L1787.1,713.5 L1787.8,713.4 L1788.5,713.4 L1789.2,713.4 L1789.9,713.3 L1790.6,713.3 L1791.3,713.2 L1792.0,713.2 L1792.7,713.1 L1793.4,713.1 L1794.1,713.0 L1794.8,712.9 L1795.5,712.8 L1796.2,712.8 L1796.9,712.6 L1797.6,712.5 L1798.3,712.4 L1799.0,712.2 L1799.7,712.0 L1800.4,711.8 L1801.1,711.5 L1801.8,711.2 L1802.5,710.8 L1803.2,710.4 L1803.9,709.8 L1804.6,709.0 L1805.3,708.1 L1806.0,706.9 L1806.7,705.3 L1807.4,703.0 L1808.1,699.8 L1808.8,695.1 L1809.5,687.7 L1810.2,675.8 L1810.9,656.0 L1811.6,624.8 L1812.3,590.4 L1813.0,587.1 L1813.7,619.6 L1814.4,652.3 L1815.1,673.6 L1815.8,686.4 L1816.5,694.2 L1817.2,699.2 L1817.9,702.6 L1818.6,705.0 L1819.3,706.7 L1820.0,708.0 L1820.7,708.9 L1821.4,709.7 L1822.1,710.3 L1822.8,710.8 L1823.5,711.2 L1824.2,711.5 L1824.9,711.8 L1825.6,712.0 L1826.3,712.2 L1827.0,712.4 L1827.7,712.5 L1828.4,712.6 L1829.1,712.7 L1829.8,712.8 L1830.5,712.9 L1831.2,713.0 L1831.9,713.1 L1832.6,713.1 L1833.3,713.2 L1834.0,713.2 L1834.7,713.3 L1835.4,713.3 L1836.1,713.4 L1836.8,713.4 L1837.5,713.4 L1838.2,713.5 L1838.9,713.5 L1839.6,713.5 L1840.3,713.5 L1841.0,713.6 L1841.7,713.6 L1842.4,713.6 L1843.1,713.6 L1843.8,713.6 L1844.5,713.6 L1845.2,713.7 L1845.9,713.7 L1846.6,713.7 L1847.3,713.7 L1848.0,713.7 L1848.7,713.7 L1849.4,713.7 L1850.1,713.7 L1850.8,713.7 L1851.5,713.7 L1852.2,713.8 L1852.9,713.8 L1853.6,713.8 L1854.3,713.8 L1855.0,713.8 L1855.7,713.8 L1856.4,713.8 L1857.1,713.8 L1857.8,713.8 L1858.5,713.8 L1859.2,713.8 L1859.9,713.8 L1860.6,713.8 L1861.3,713.8 L1862.0,713.8 L1862.7,713.8 L1863.4,713.8 L1864.1,713.8 L1864.8,713.8 L1865.5,713.8 L1866.2,713.9 L1866.9,713.9 L1867.6,713.9 L1868.3,713.9 L1869.0,713.9 L1869.7,713.9 L1870.4,713.9 L1871.1,713.9 L1871.8,713.9 L1872.5,713.9 L1873.2,713.9 L1873.9,713.9 L1874.6,713.9 L1875.3,713.9 L1876.0,713.9 L1876.7,713.9 L1877.4,713.9 L1878.1,713.9 L1878.8,713.9 L1879.5,713.9 L1880.2,713.9 L1880.9,713.9 L1881.6,713.9 L1882.3,713.9 L1883.0,713.9 L1883.7,713.9 L1884.4,713.9 L1885.1,713.9 L1885.8,713.9 L1886.5,713.9 L1887.2,713.9 L1887.9,713.9 L1888.6,713.9 L1889.3,713.9 L1890.0,713.9 L1890.7,713.9 L1891.4,713.9 L1892.1,713.9 L1892.8,713.9 L1893.5,713.9 L1894.2,713.9 L1894.9,713.9 L1895.6,713.9 L1896.3,713.9 L1897.0,713.9 L1897.7,713.9 L1898.4,713.9 L1899.1,713.9 L1899.8,713.9 L1900.5,713.9 L1901.2,713.9 L1901.9,713.9 L1902.6,713.9 L1903.3,713.9 L1904.0,713.9 L1904.7,713.9 L1905.4,713.9 L1906.1,713.9 L1906.8,713.9 L1907.5,713.9 L1908.2,713.9 L1908.9,713.9 L1909.6,713.9 L1910.3,713.9 L1911.0,713.9 L1911.7,713.9 L1912.4,713.9 L1913.1,713.9 L1913.8,713.9 L1914.5,713.9 L1915.2,713.9 L1915.9,713.9 L1916.6,713.9 L1917.3,713.9 L1918.0,713.9 L1918.7,713.9 L1919.4,713.9 L1920.1,713.9 L1920.8,713.9 L1921.5,713.9 L1922.2,713.9 L1922.9,713.9 L1923.6,713.9 L1924.3,713.9 L1925.0,713.9 L1925.7,713.9 L1926.4,713.9 L1927.1,713.9 L1927.8,713.9 L1928.5,713.9 L1929.2,713.9 L1929.9,713.9 L1930.6,713.9 L1931.3,713.9 L1932.0,713.9 L1932.7,713.9 L1933.4,713.9 L1934.1,713.9 L1934.8,713.9 L1935.5,713.9 L1936.2,713.9 L1936.9,713.9 L1937.6,713.9 L1938.3,713.9 L1939.0,713.9 L1939.7,713.9 L1940.4,713.9 L1941.1,713.9 L1941.8,713.9 L1942.5,713.9 L1943.2,713.9 L1943.9,713.9 L1944.6,713.9 L1945.3,713.9 L1946.0,713.9 L1946.7,713.9 L1947.4,713.8 L1948.1,713.8 L1948.8,713.8 L1949.5,713.8 L1950.2,713.8 L1950.9,713.8 L1951.6,713.8 L1952.3,713.8 L1953.0,713.8 L1953.7,713.8 L1954.4,713.8 L1955.1,713.8 L1955.8,713.8 L1956.5,713.8 L1957.2,713.8 L1957.9,713.8 L1958.6,713.8 L1959.3,713.8 L1960.0,713.8 L1960.7,713.8 L1961.4,713.7 L1962.1,713.7 L1962.8,713.7 L1963.5,713.7 L1964.2,713.7 L1964.9,713.7 L1965.6,713.7 L1966.3,713.7 L1967.0,713.7 L1967.7,713.7 L1968.4,713.6 L1969.1,713.6 L1969.8,713.6 L1970.5,713.6 L1971.2,713.6 L1971.9,713.5 L1972.6,713.5 L1973.3,713.5 L1974.0,713.5 L1974.7,713.5 L1975.4,713.4 L1976.1,713.4 L1976.8,713.4 L1977.5,713.3 L1978.2,713.3 L1978.9,713.2 L1979.6,713.2 L1980.3,713.1 L1981.0,713.0 L1981.7,713.0 L1982.4,712.9 L1983.1,712.8 L1983.8,712.7 L1984.5,712.6 L1985.2,712.5 L1985.9,712.3 L1986.6,712.1 L1987.3,711.9 L1988.0,711.7 L1988.7,711.4 L1989.4,711.0 L1990.1,710.6 L1990.8,710.1 L1991.5,709.5 L1992.2,708.7 L1992.9,707.6 L1993.6,706.3 L1994.3,704.4 L1995.0,701.8 L1995.7,698.0 L1996.4,692.3 L1997.1,683.3 L1997.8,668.6 L1998.5,644.1 L1999.2,608.9 L1999.9,583.2 L2000.6,598.9 L2001.3,634.9 L2002.0,662.7 L2002.7,679.8 L2003.4,690.2 L2004.1,696.6 L2004.8,700.8 L2005.5,703.7 L2006.2,705.8 L2006.9,707.3 L2007.6,708.4 L2008.3,709.3 L2009.0,710.0 L2009.7,710.5 L2010.4,710.9 L2011.1,711.3 L2011.8,711.6 L2012.5,711.9 L2013.2,712.1 L2013.9,712.3 L2014.6,712.4 L2015.3,712.6 L2016.0,712.7 L2016.7,712.8 L2017.4,712.9 L2018.1,713.0 L2018.8,713.0 L2019.5,713.1 L2020.2,713.2 L2020.9,713.2 L2021.6,713.3 L2022.3,713.3 L2023.0,713.3 L2023.7,713.4 L2024.4,713.4 L2025.1,713.4 L2025.8,713.5 L2026.5,713.5 L2027.2,713.5 L2027.9,713.5 L2028.6,713.6 L2029.3,713.6 L2030.0,713.6 L2030.7,713.6 L2031.4,713.6 L2032.1,713.6 L2032.8,713.7 L2033.5,713.7 L2034.2,713.7 L2034.9,713.7 L2035.6,713.7 L2036.3,713.7 L2037.0,713.7 L2037.7,713.7 L2038.4,713.7 L2039.1,713.8 L2039.8,713.8 L2040.5,713.8 L2041.2,713.8 L2041.9,713.8 L2042.6,713.8 L2043.3,713.8 L2044.0,713.8 L2044.7,713.8 L2045.4,713.8 L2046.1,713.8 L2046.8,713.8 L2047.5,713.8 L2048.2,713.8 L2048.9,713.8 L2049.6,713.8 L2050.3,713.8 L2051.0,713.8 L2051.7,713.8 L2052.4,713.8 L2053.1,713.8 L2053.8,713.9 L2054.5,713.9 L2055.2,713.9 L2055.9,713.9 L2056.6,713.9 L2057.3,713.9 L2058.0,713.9 L2058.7,713.9 L2059.4,713.9 L2060.1,713.9 L2060.8,713.9 L2061.5,713.9 L2062.2,713.9 L2062.9,713.9 L2063.6,713.9 L2064.3,713.9 L2065.0,713.9 L2065.7,713.9 L2066.4,713.9 L2067.1,713.9 L2067.8,713.9 L2068.5,713.9 L2069.2,713.9 L2069.9,713.9 L2070.6,713.9 L2071.3,713.9 L2072.0,713.9 L2072.7,713.9 L2073.4,713.9 L2074.1,713.9 L2074.8,713.9 L2075.5,713.9 L2076.2,713.9 L2076.9,713.9 L2077.6,713.9 L2078.3,713.9 L2079.0,713.9 L2079.7,713.9 L2080.4,713.9 L2081.1,713.9 L2081.8,713.9 L2082.5,713.9 L2083.2,713.9 L2083.9,713.9 L2084.6,713.9 L2085.3,713.9 L2086.0,713.9 L2086.7,713.9 L2087.4,713.9 L2088.1,713.9 L2088.8,713.9 L2089.5,713.9 L2090.2,713.9 L2090.9,713.9 L2091.6,713.9 L2092.3,713.9 L2093.0,713.9 L2093.7,713.9 L2094.4,713.9 L2095.1,713.9 L2095.8,713.9 L2096.5,713.9 L2097.2,713.9 L2097.9,713.9 L2098.6,713.9 L2099.3,713.9 L2100.0,713.9 L2100.7,713.9 L2101.4,713.9 L2102.1,713.9 L2102.8,713.9 L2103.5,713.9 L2104.2,713.9 L2104.9,713.9 L2105.6,713.9 L2106.3,713.9 L2107.0,713.9 L2107.7,713.9 L2108.4,713.9 L2109.1,713.9 L2109.8,713.9 L2110.5,713.9 L2111.2,713.9 L2111.9,713.9 L2112.6,713.9 L2113.3,713.9 L2114.0,713.9 L2114.7,713.9 L2115.4,713.9 L2116.1,713.9 L2116.8,713.9 L2117.5,713.9 L2118.2,713.9 L2118.9,713.9 L2119.6,713.9 L2120.3,713.9 L2121.0,713.9 L2121.7,713.9 L2122.4,713.9 L2123.1,713.9 L2123.8,713.9 L2124.5,713.9 L2125.2,713.9 L2125.9,713.9 L2126.6,713.9 L2127.3,713.9 L2128.0,713.9 L2128.7,713.9 L2129.4,713.9 L2130.1,713.9 L2130.8,713.9 L2131.5,713.9 L2132.2,713.9 L2132.9,713.8 L2133.6,713.8 L2134.3,713.8 L2135.0,713.8 L2135.7,713.8 L2136.4,713.8 L2137.1,713.8 L2137.8,713.8 L2138.5,713.8 L2139.2,713.8 L2139.9,713.8 L2140.6,713.8 L2141.3,713.8 L2142.0,713.8 L2142.7,713.8 L2143.4,713.8 L2144.1,713.8 L2144.8,713.8 L2145.5,713.8 L2146.2,713.8 L2146.9,713.8 L2147.6,713.7 L2148.3,713.7 L2149.0,713.7 L2149.7,713.7 L2150.4,713.7 L2151.1,713.7 L2151.8,713.7 L2152.5,713.7 L2153.2,713.7 L2153.9,713.7 L2154.6,713.6 L2155.3,713.6 L2156.0,713.6 L2156.7,713.6 L2157.4,713.6 L2158.1,713.6 L2158.8,713.5 L2159.5,713.5 L2160.2,713.5 L2160.9,713.5 L2161.6,713.4 L2162.3,713.4 L2163.0,713.4 L2163.7,713.4 L2164.4,713.3 L2165.1,713.3 L2165.8,713.2 L2166.5,713.2 L2167.2,713.1 L2167.9,713.1 L2168.6,713.0 L2169.3,712.9 L2170.0,712.8 L2170.7,712.7 L2171.4,712.6 L2172.1,712.5 L2172.8,712.4 L2173.5,712.2 L2174.2,712.0 L2174.9,711.8 L2175.6,711.6 L2176.3,711.3 L2177.0,710.9 L2177.7,710.5 L2178.4,709.9 L2179.1,709.3 L2179.8,708.4 L2180.5,707.3 L2181.2,705.9 L2181.9,704.0 L2182.6,701.3 L2183.3,697.5 L2184.0,691.8 L2184.7,682.8 L2185.4,668.0 L2186.1,643.5 L2186.8,606.9 L2187.5,575.1 L2188.2,585.5 L2188.9,623.7 L2189.6,655.5 L2190.3,675.2 L2191.0,687.1 L2191.7,694.5 L2192.4,699.3 L2193.1,702.6 L2193.8,704.9 L2194.5,706.6 L2195.2,707.8 L2195.9,708.8 L2196.6,709.6 L2197.3,710.2 L2198.0,710.7 L2198.7,711.1 L2199.4,711.4 L2200.1,711.7 L2200.8,711.9 L2201.5,712.1 L2202.2,712.3 L2202.9,712.4 L2203.6,712.6 L2204.3,712.7 L2205.0,712.8 L2205.7,712.9 L2206.4,713.0 L2207.1,713.0 L2207.8,713.1 L2208.5,713.1 L2209.2,713.2 L2209.9,713.2 L2210.6,713.3 L2211.3,713.3 L2212.0,713.4 L2212.7,713.4 L2213.4,713.4 L2214.1,713.5 L2214.8,713.5 L2215.5,713.5 L2216.2,713.5 L2216.9,713.6 L2217.6,713.6 L2218.3,713.6 L2219.0,713.6 L2219.7,713.6 L2220.4,713.6 L2221.1,713.7 L2221.8,713.7 L2222.5,713.7 L2223.2,713.7 L2223.9,713.7 L2224.6,713.7 L2225.3,713.7 L2226.0,713.7 L2226.7,713.7 L2227.4,713.7 L2228.1,713.8 L2228.8,713.8 L2229.5,713.8 L2230.2,713.8 L2230.9,713.8 L2231.6,713.8 L2232.3,713.8 L2233.0,713.8 L2233.7,713.8 L2234.4,713.8 L2235.1,713.8 L2235.8,713.8 L2236.5,713.8 L2237.2,713.8 L2237.9,713.8 L2238.6,713.8 L2239.3,713.8 L2240.0,713.8 L2240.7,713.8 L2241.4,713.8 L2242.1,713.8 L2242.8,713.9 L2243.5,713.9 L2244.2,713.9 L2244.9,713.9 L2245.6,713.9 L2246.3,713.9 L2247.0,713.9 L2247.7,713.9 L2248.4,713.9 L2249.1,713.9 L2249.8,713.9 L2250.5,713.9 L2251.2,713.9 L2251.9,713.9 L2252.6,713.9 L2253.3,713.9 L2254.0,713.9 L2254.7,713.9 L2255.4,713.9 L2256.1,713.9 L2256.8,713.9 L2257.5,713.9 L2258.2,713.9 L2258.9,713.9 L2259.6,713.9 L2260.3,713.9 L2261.0,713.9 L2261.7,713.9 L2262.4,713.9 L2263.1,713.9 L2263.8,713.9 L2264.5,713.9 L2265.2,713.9 L2265.9,713.9 L2266.6,713.9 L2267.3,713.9 L2268.0,713.9 L2268.7,713.9 L2269.4,713.9 L2270.1,713.9 L2270.8,713.9 L2271.5,713.9 L2272.2,713.9 L2272.9,713.9 L2273.6,713.9 L2274.3,713.9 L2275.0,713.9 L2275.7,713.9 L2276.4,713.9 L2277.1,713.9 L2277.8,713.9 L2278.5,713.9 L2279.2,713.9 L2279.9,713.9 L2280.6,713.9 L2281.3,713.9 L2282.0,713.9 L2282.7,713.9 L2283.4,713.9 L2284.1,713.9 L2284.8,713.9 L2285.5,713.9 L2286.2,713.9 L2286.9,713.9 L2287.6,713.9 L2288.3,713.9 L2289.0,713.9 L2289.7,713.9 L2290.4,713.9 L2291.1,713.9 L2291.8,713.9 L2292.5,713.9 L2293.2,713.9 L2293.9,713.9 L2294.6,713.9 L2295.3,713.9 L2296.0,713.9 L2296.7,713.9 L2297.4,713.9 L2298.1,713.9 L2298.8,713.9 L2299.5,713.9 L2300.2,713.9 L2300.9,713.9 L2301.6,713.9 L2302.3,713.9 L2303.0,713.9 L2303.7,713.9 L2304.4,713.9 L2305.1,713.9 L2305.8,713.9 L2306.5,713.9 L2307.2,713.9 L2307.9,713.9 L2308.6,713.9 L2309.3,713.9 L2310.0,713.9 L2310.7,713.9 L2311.4,713.9 L2312.1,713.9 L2312.8,713.9 L2313.5,713.9 L2314.2,713.9 L2314.9,713.9 L2315.6,713.9 L2316.3,713.9 L2317.0,713.9 L2317.7,713.9 L2318.4,713.9 L2319.1,713.9 L2319.8,713.9 L2320.5,713.9 L2321.2,713.9 L2321.9,713.9 L2322.6,713.9 L2323.3,713.9 L2324.0,713.8 L2324.7,713.8 L2325.4,713.8 L2326.1,713.8 L2326.8,713.8 L2327.5,713.8 L2328.2,713.8 L2328.9,713.8 L2329.6,713.8 L2330.3,713.8 L2331.0,713.8 L2331.7,713.8 L2332.4,713.8 L2333.1,713.8 L2333.8,713.8 L2334.5,713.8 L2335.2,713.8 L2335.9,713.8 L2336.6,713.8 L2337.3,713.8 L2338.0,713.7 L2338.7,713.7 L2339.4,713.7 L2340.1,713.7 L2340.8,713.7 L2341.5,713.7 L2342.2,713.7 L2342.9,713.7 L2343.6,713.7 L2344.3,713.6 L2345.0,713.6 L2345.7,713.6 L2346.4,713.6 L2347.1,713.6 L2347.8,713.6 L2348.5,713.5 L2349.2,713.5 L2349.9,713.5 L2350.6,713.5 L2351.3,713.4 L2352.0,713.4 L2352.7,713.4 L2353.4,713.3 L2354.1,713.3 L2354.8,713.3 L2355.5,713.2 L2356.2,713.2 L2356.9,713.1 L2357.6,713.0 L2358.3,713.0 L2359.0,712.9 L2359.7,712.8 L2360.4,712.7 L2361.1,712.6 L2361.8,712.4 L2362.5,712.3 L2363.2,712.1 L2363.9,711.9 L2364.6,711.6 L2365.3,711.4 L2366.0,711.0 L2366.7,710.6 L2367.4,710.1 L2368.1,709.4 L2368.8,708.6 L2369.5,707.6 L2370.2,706.2 L2370.9,704.4 L2371.6,701.8 L2372.3,698.1 L2373.0,692.5 L2373.7,683.8 L2374.4,669.6 L2375.1,645.9 L2375.8,610.5 L2376.5,579.9 L2377.2,589.9 L2377.9,626.8 L2378.6,657.5 L2379.3,676.6 L2380.0,688.1 L2380.7,695.2 L2381.4,699.8 L2382.1,703.0 L2382.8,705.2 L2383.5,706.8 L2384.2,708.1 L2384.9,709.0 L2385.6,709.7 L2386.3,710.3 L2387.0,710.8 L2387.7,711.2 L2388.4,711.5 L2389.1,711.8 L2389.8,712.0 L2390.5,712.2" fill="none" stroke="#8508f8" stroke-width="12" stroke-linejoin="round" stroke-linecap="round"/>
<line x1="1433.2" y1="811.5" x2="1433.2" y2="918" stroke="#000" stroke-width="11" stroke-linecap="round"/>
<line x1="1623" y1="810" x2="1623" y2="918" stroke="#000" stroke-width="11" stroke-linecap="round"/>
<line x1="1812.7" y1="793.6" x2="1812.7" y2="918" stroke="#000" stroke-width="11" stroke-linecap="round"/>
<line x1="2000" y1="784" x2="2000" y2="918" stroke="#000" stroke-width="11" stroke-linecap="round"/>
<line x1="2187.7" y1="788.8" x2="2187.7" y2="918" stroke="#000" stroke-width="11" stroke-linecap="round"/>
<line x1="2376.7" y1="792" x2="2376.7" y2="918" stroke="#000" stroke-width="11" stroke-linecap="round"/>
<rect x="1271.5" y="914" width="1130.5" height="24" fill="#000"/>
<text transform="translate(1302.39,553.90) scale(1.1067,1)" font-family="'Liberation Sans', Arial, sans-serif" font-weight="normal" font-size="55.36" fill="#8508f8" stroke="#8508f8" stroke-width="2.2" stroke-linejoin="round">InN (1012)</text>
<text transform="translate(1308.60,788.60) scale(1.0636,1)" font-family="'Liberation Sans', Arial, sans-serif" font-weight="normal" font-size="56.38" fill="#000" stroke="#000" stroke-width="1.2">GaN (1012)</text>
<text transform="translate(2226.03,550.30) scale(1.0555,1)" font-family="'Liberation Sans', Arial, sans-serif" font-weight="bold" font-size="46.43" fill="#8508f8" >500 °C</text>
<path d="M1277.5,1160.3 L1278.2,1160.3 L1278.9,1160.3 L1279.6,1160.3 L1280.3,1160.3 L1281.0,1160.3 L1281.7,1160.3 L1282.4,1160.3 L1283.1,1160.3 L1283.8,1160.3 L1284.5,1160.2 L1285.2,1160.2 L1285.9,1160.2 L1286.6,1160.2 L1287.3,1160.2 L1288.0,1160.2 L1288.7,1160.2 L1289.4,1160.2 L1290.1,1160.1 L1290.8,1160.1 L1291.5,1160.1 L1292.2,1160.1 L1292.9,1160.1 L1293.6,1160.1 L1294.3,1160.0 L1295.0,1160.0 L1295.7,1160.0 L1296.4,1159.9 L1297.1,1159.9 L1297.8,1159.9 L1298.5,1159.8 L1299.2,1159.8 L1299.9,1159.7 L1300.6,1159.7 L1301.3,1159.6 L1302.0,1159.6 L1302.7,1159.5 L1303.4,1159.4 L1304.1,1159.3 L1304.8,1159.2 L1305.5,1159.1 L1306.2,1159.0 L1306.9,1158.8 L1307.6,1158.6 L1308.3,1158.4 L1309.0,1158.2 L1309.7,1157.9 L1310.4,1157.6 L1311.1,1157.1 L1311.8,1156.6 L1312.5,1155.9 L1313.2,1155.1 L1313.9,1154.0 L1314.6,1152.6 L1315.3,1150.6 L1316.0,1147.8 L1316.7,1143.7 L1317.4,1137.5 L1318.1,1127.5 L1318.8,1110.9 L1319.5,1084.0 L1320.2,1049.1 L1320.9,1034.0 L1321.6,1058.9 L1322.3,1092.9 L1323.0,1116.6 L1323.7,1130.8 L1324.4,1139.5 L1325.1,1145.0 L1325.8,1148.7 L1326.5,1151.2 L1327.2,1153.0 L1327.9,1154.3 L1328.6,1155.4 L1329.3,1156.1 L1330.0,1156.8 L1330.7,1157.3 L1331.4,1157.7 L1332.1,1158.0 L1332.8,1158.3 L1333.5,1158.5 L1334.2,1158.7 L1334.9,1158.9 L1335.6,1159.0 L1336.3,1159.1 L1337.0,1159.3 L1337.7,1159.4 L1338.4,1159.4 L1339.1,1159.5 L1339.8,1159.6 L1340.5,1159.7 L1341.2,1159.7 L1341.9,1159.8 L1342.6,1159.8 L1343.3,1159.8 L1344.0,1159.9 L1344.7,1159.9 L1345.4,1159.9 L1346.1,1160.0 L1346.8,1160.0 L1347.5,1160.0 L1348.2,1160.1 L1348.9,1160.1 L1349.6,1160.1 L1350.3,1160.1 L1351.0,1160.1 L1351.7,1160.1 L1352.4,1160.2 L1353.1,1160.2 L1353.8,1160.2 L1354.5,1160.2 L1355.2,1160.2 L1355.9,1160.2 L1356.6,1160.2 L1357.3,1160.2 L1358.0,1160.2 L1358.7,1160.3 L1359.4,1160.3 L1360.1,1160.3 L1360.8,1160.3 L1361.5,1160.3 L1362.2,1160.3 L1362.9,1160.3 L1363.6,1160.3 L1364.3,1160.3 L1365.0,1160.3 L1365.7,1160.3 L1366.4,1160.3 L1367.1,1160.3 L1367.8,1160.3 L1368.5,1160.3 L1369.2,1160.3 L1369.9,1160.3 L1370.6,1160.3 L1371.3,1160.3 L1372.0,1160.4 L1372.7,1160.4 L1373.4,1160.4 L1374.1,1160.4 L1374.8,1160.4 L1375.5,1160.4 L1376.2,1160.4 L1376.9,1160.4 L1377.6,1160.4 L1378.3,1160.4 L1379.0,1160.4 L1379.7,1160.4 L1380.4,1160.4 L1381.1,1160.4 L1381.8,1160.4 L1382.5,1160.4 L1383.2,1160.4 L1383.9,1160.4 L1384.6,1160.4 L1385.3,1160.4 L1386.0,1160.4 L1386.7,1160.4 L1387.4,1160.4 L1388.1,1160.4 L1388.8,1160.4 L1389.5,1160.4 L1390.2,1160.4 L1390.9,1160.4 L1391.6,1160.4 L1392.3,1160.4 L1393.0,1160.4 L1393.7,1160.4 L1394.4,1160.4 L1395.1,1160.4 L1395.8,1160.4 L1396.5,1160.4 L1397.2,1160.4 L1397.9,1160.4 L1398.6,1160.4 L1399.3,1160.4 L1400.0,1160.4 L1400.7,1160.4 L1401.4,1160.4 L1402.1,1160.4 L1402.8,1160.4 L1403.5,1160.4 L1404.2,1160.4 L1404.9,1160.4 L1405.6,1160.4 L1406.3,1160.4 L1407.0,1160.4 L1407.7,1160.4 L1408.4,1160.4 L1409.1,1160.4 L1409.8,1160.4 L1410.5,1160.4 L1411.2,1160.4 L1411.9,1160.4 L1412.6,1160.4 L1413.3,1160.4 L1414.0,1160.4 L1414.7,1160.4 L1415.4,1160.4 L1416.1,1160.4 L1416.8,1160.4 L1417.5,1160.4 L1418.2,1160.4 L1418.9,1160.4 L1419.6,1160.4 L1420.3,1160.4 L1421.0,1160.4 L1421.7,1160.4 L1422.4,1160.4 L1423.1,1160.4 L1423.8,1160.4 L1424.5,1160.4 L1425.2,1160.4 L1425.9,1160.4 L1426.6,1160.4 L1427.3,1160.4 L1428.0,1160.4 L1428.7,1160.4 L1429.4,1160.4 L1430.1,1160.4 L1430.8,1160.4 L1431.5,1160.4 L1432.2,1160.4 L1432.9,1160.4 L1433.6,1160.4 L1434.3,1160.4 L1435.0,1160.4 L1435.7,1160.4 L1436.4,1160.4 L1437.1,1160.4 L1437.8,1160.4 L1438.5,1160.4 L1439.2,1160.4 L1439.9,1160.4 L1440.6,1160.4 L1441.3,1160.4 L1442.0,1160.4 L1442.7,1160.4 L1443.4,1160.4 L1444.1,1160.4 L1444.8,1160.4 L1445.5,1160.4 L1446.2,1160.4 L1446.9,1160.4 L1447.6,1160.4 L1448.3,1160.4 L1449.0,1160.4 L1449.7,1160.4 L1450.4,1160.4 L1451.1,1160.4 L1451.8,1160.4 L1452.5,1160.4 L1453.2,1160.4 L1453.9,1160.4 L1454.6,1160.4 L1455.3,1160.4 L1456.0,1160.4 L1456.7,1160.3 L1457.4,1160.3 L1458.1,1160.3 L1458.8,1160.3 L1459.5,1160.3 L1460.2,1160.3 L1460.9,1160.3 L1461.6,1160.3 L1462.3,1160.3 L1463.0,1160.3 L1463.7,1160.3 L1464.4,1160.3 L1465.1,1160.3 L1465.8,1160.3 L1466.5,1160.3 L1467.2,1160.3 L1467.9,1160.3 L1468.6,1160.3 L1469.3,1160.3 L1470.0,1160.3 L1470.7,1160.2 L1471.4,1160.2 L1472.1,1160.2 L1472.8,1160.2 L1473.5,1160.2 L1474.2,1160.2 L1474.9,1160.2 L1475.6,1160.2 L1476.3,1160.2 L1477.0,1160.1 L1477.7,1160.1 L1478.4,1160.1 L1479.1,1160.1 L1479.8,1160.1 L1480.5,1160.0 L1481.2,1160.0 L1481.9,1160.0 L1482.6,1160.0 L1483.3,1159.9 L1484.0,1159.9 L1484.7,1159.9 L1485.4,1159.8 L1486.1,1159.8 L1486.8,1159.8 L1487.5,1159.7 L1488.2,1159.7 L1488.9,1159.6 L1489.6,1159.5 L1490.3,1159.4 L1491.0,1159.4 L1491.7,1159.3 L1492.4,1159.2 L1493.1,1159.0 L1493.8,1158.9 L1494.5,1158.7 L1495.2,1158.5 L1495.9,1158.3 L1496.6,1158.0 L1497.3,1157.7 L1498.0,1157.3 L1498.7,1156.8 L1499.4,1156.2 L1500.1,1155.5 L1500.8,1154.5 L1501.5,1153.2 L1502.2,1151.5 L1502.9,1149.1 L1503.6,1145.6 L1504.3,1140.5 L1505.0,1132.4 L1505.7,1119.1 L1506.4,1097.0 L1507.1,1064.0 L1507.8,1035.4 L1508.5,1044.8 L1509.2,1079.2 L1509.9,1107.8 L1510.6,1125.6 L1511.3,1136.3 L1512.0,1143.0 L1512.7,1147.3 L1513.4,1150.2 L1514.1,1152.3 L1514.8,1153.8 L1515.5,1154.9 L1516.2,1155.8 L1516.9,1156.5 L1517.6,1157.0 L1518.3,1157.5 L1519.0,1157.8 L1519.7,1158.1 L1520.4,1158.4 L1521.1,1158.6 L1521.8,1158.8 L1522.5,1158.9 L1523.2,1159.1 L1523.9,1159.2 L1524.6,1159.3 L1525.3,1159.4 L1526.0,1159.5 L1526.7,1159.6 L1527.4,1159.6 L1528.1,1159.7 L1528.8,1159.7 L1529.5,1159.8 L1530.2,1159.8 L1530.9,1159.9 L1531.6,1159.9 L1532.3,1159.9 L1533.0,1160.0 L1533.7,1160.0 L1534.4,1160.0 L1535.1,1160.0 L1535.8,1160.1 L1536.5,1160.1 L1537.2,1160.1 L1537.9,1160.1 L1538.6,1160.1 L1539.3,1160.1 L1540.0,1160.2 L1540.7,1160.2 L1541.4,1160.2 L1542.1,1160.2 L1542.8,1160.2 L1543.5,1160.2 L1544.2,1160.2 L1544.9,1160.2 L1545.6,1160.2 L1546.3,1160.3 L1547.0,1160.3 L1547.7,1160.3 L1548.4,1160.3 L1549.1,1160.3 L1549.8,1160.3 L1550.5,1160.3 L1551.2,1160.3 L1551.9,1160.3 L1552.6,1160.3 L1553.3,1160.3 L1554.0,1160.3 L1554.7,1160.3 L1555.4,1160.3 L1556.1,1160.3 L1556.8,1160.3 L1557.5,1160.3 L1558.2,1160.3 L1558.9,1160.3 L1559.6,1160.3 L1560.3,1160.4 L1561.0,1160.4 L1561.7,1160.4 L1562.4,1160.4 L1563.1,1160.4 L1563.8,1160.4 L1564.5,1160.4 L1565.2,1160.4 L1565.9,1160.4 L1566.6,1160.4 L1567.3,1160.4 L1568.0,1160.4 L1568.7,1160.4 L1569.4,1160.4 L1570.1,1160.4 L1570.8,1160.4 L1571.5,1160.4 L1572.2,1160.4 L1572.9,1160.4 L1573.6,1160.4 L1574.3,1160.4 L1575.0,1160.4 L1575.7,1160.4 L1576.4,1160.4 L1577.1,1160.4 L1577.8,1160.4 L1578.5,1160.4 L1579.2,1160.4 L1579.9,1160.4 L1580.6,1160.4 L1581.3,1160.4 L1582.0,1160.4 L1582.7,1160.4 L1583.4,1160.4 L1584.1,1160.4 L1584.8,1160.4 L1585.5,1160.4 L1586.2,1160.4 L1586.9,1160.4 L1587.6,1160.4 L1588.3,1160.4 L1589.0,1160.4 L1589.7,1160.4 L1590.4,1160.4 L1591.1,1160.4 L1591.8,1160.4 L1592.5,1160.4 L1593.2,1160.4 L1593.9,1160.4 L1594.6,1160.4 L1595.3,1160.4 L1596.0,1160.4 L1596.7,1160.4 L1597.4,1160.4 L1598.1,1160.4 L1598.8,1160.4 L1599.5,1160.4 L1600.2,1160.4 L1600.9,1160.4 L1601.6,1160.4 L1602.3,1160.4 L1603.0,1160.4 L1603.7,1160.4 L1604.4,1160.4 L1605.1,1160.4 L1605.8,1160.4 L1606.5,1160.4 L1607.2,1160.4 L1607.9,1160.4 L1608.6,1160.4 L1609.3,1160.4 L1610.0,1160.4 L1610.7,1160.4 L1611.4,1160.4 L1612.1,1160.4 L1612.8,1160.4 L1613.5,1160.4 L1614.2,1160.4 L1614.9,1160.4 L1615.6,1160.4 L1616.3,1160.4 L1617.0,1160.4 L1617.7,1160.4 L1618.4,1160.4 L1619.1,1160.4 L1619.8,1160.4 L1620.5,1160.4 L1621.2,1160.4 L1621.9,1160.4 L1622.6,1160.4 L1623.3,1160.4 L1624.0,1160.4 L1624.7,1160.4 L1625.4,1160.4 L1626.1,1160.4 L1626.8,1160.4 L1627.5,1160.4 L1628.2,1160.4 L1628.9,1160.4 L1629.6,1160.4 L1630.3,1160.4 L1631.0,1160.4 L1631.7,1160.4 L1632.4,1160.4 L1633.1,1160.4 L1633.8,1160.4 L1634.5,1160.4 L1635.2,1160.4 L1635.9,1160.4 L1636.6,1160.4 L1637.3,1160.4 L1638.0,1160.4 L1638.7,1160.4 L1639.4,1160.4 L1640.1,1160.4 L1640.8,1160.4 L1641.5,1160.4 L1642.2,1160.4 L1642.9,1160.4 L1643.6,1160.4 L1644.3,1160.3 L1645.0,1160.3 L1645.7,1160.3 L1646.4,1160.3 L1647.1,1160.3 L1647.8,1160.3 L1648.5,1160.3 L1649.2,1160.3 L1649.9,1160.3 L1650.6,1160.3 L1651.3,1160.3 L1652.0,1160.3 L1652.7,1160.3 L1653.4,1160.3 L1654.1,1160.3 L1654.8,1160.3 L1655.5,1160.3 L1656.2,1160.3 L1656.9,1160.3 L1657.6,1160.3 L1658.3,1160.2 L1659.0,1160.2 L1659.7,1160.2 L1660.4,1160.2 L1661.1,1160.2 L1661.8,1160.2 L1662.5,1160.2 L1663.2,1160.2 L1663.9,1160.2 L1664.6,1160.2 L1665.3,1160.1 L1666.0,1160.1 L1666.7,1160.1 L1667.4,1160.1 L1668.1,1160.1 L1668.8,1160.0 L1669.5,1160.0 L1670.2,1160.0 L1670.9,1160.0 L1671.6,1159.9 L1672.3,1159.9 L1673.0,1159.9 L1673.7,1159.8 L1674.4,1159.8 L1675.1,1159.8 L1675.8,1159.7 L1676.5,1159.7 L1677.2,1159.6 L1677.9,1159.5 L1678.6,1159.5 L1679.3,1159.4 L1680.0,1159.3 L1680.7,1159.2 L1681.4,1159.1 L1682.1,1158.9 L1682.8,1158.8 L1683.5,1158.6 L1684.2,1158.4 L1684.9,1158.2 L1685.6,1157.9 L1686.3,1157.5 L1687.0,1157.1 L1687.7,1156.6 L1688.4,1156.0 L1689.1,1155.1 L1689.8,1154.1 L1690.5,1152.7 L1691.2,1150.8 L1691.9,1148.2 L1692.6,1144.4 L1693.3,1138.7 L1694.0,1129.6 L1694.7,1114.8 L1695.4,1090.2 L1696.1,1054.8 L1696.8,1028.9 L1697.5,1044.7 L1698.2,1080.9 L1698.9,1108.9 L1699.6,1126.1 L1700.3,1136.5 L1701.0,1143.0 L1701.7,1147.3 L1702.4,1150.2 L1703.1,1152.2 L1703.8,1153.7 L1704.5,1154.9 L1705.2,1155.7 L1705.9,1156.4 L1706.6,1157.0 L1707.3,1157.4 L1708.0,1157.8 L1708.7,1158.1 L1709.4,1158.3 L1710.1,1158.6 L1710.8,1158.7 L1711.5,1158.9 L1712.2,1159.0 L1712.9,1159.2 L1713.6,1159.3 L1714.3,1159.4 L1715.0,1159.5 L1715.7,1159.5 L1716.4,1159.6 L1717.1,1159.7 L1717.8,1159.7 L1718.5,1159.8 L1719.2,1159.8 L1719.9,1159.8 L1720.6,1159.9 L1721.3,1159.9 L1722.0,1159.9 L1722.7,1160.0 L1723.4,1160.0 L1724.1,1160.0 L1724.8,1160.0 L1725.5,1160.1 L1726.2,1160.1 L1726.9,1160.1 L1727.6,1160.1 L1728.3,1160.1 L1729.0,1160.1 L1729.7,1160.2 L1730.4,1160.2 L1731.1,1160.2 L1731.8,1160.2 L1732.5,1160.2 L1733.2,1160.2 L1733.9,1160.2 L1734.6,1160.2 L1735.3,1160.2 L1736.0,1160.3 L1736.7,1160.3 L1737.4,1160.3 L1738.1,1160.3 L1738.8,1160.3 L1739.5,1160.3 L1740.2,1160.3 L1740.9,1160.3 L1741.6,1160.3 L1742.3,1160.3 L1743.0,1160.3 L1743.7,1160.3 L1744.4,1160.3 L1745.1,1160.3 L1745.8,1160.3 L1746.5,1160.3 L1747.2,1160.3 L1747.9,1160.3 L1748.6,1160.3 L1749.3,1160.3 L1750.0,1160.3 L1750.7,1160.4 L1751.4,1160.4 L1752.1,1160.4 L1752.8,1160.4 L1753.5,1160.4 L1754.2,1160.4 L1754.9,1160.4 L1755.6,1160.4 L1756.3,1160.4 L1757.0,1160.4 L1757.7,1160.4 L1758.4,1160.4 L1759.1,1160.4 L1759.8,1160.4 L1760.5,1160.4 L1761.2,1160.4 L1761.9,1160.4 L1762.6,1160.4 L1763.3,1160.4 L1764.0,1160.4 L1764.7,1160.4 L1765.4,1160.4 L1766.1,1160.4 L1766.8,1160.4 L1767.5,1160.4 L1768.2,1160.4 L1768.9,1160.4 L1769.6,1160.4 L1770.3,1160.4 L1771.0,1160.4 L1771.7,1160.4 L1772.4,1160.4 L1773.1,1160.4 L1773.8,1160.4 L1774.5,1160.4 L1775.2,1160.4 L1775.9,1160.4 L1776.6,1160.4 L1777.3,1160.4 L1778.0,1160.4 L1778.7,1160.4 L1779.4,1160.4 L1780.1,1160.4 L1780.8,1160.4 L1781.5,1160.4 L1782.2,1160.4 L1782.9,1160.4 L1783.6,1160.4 L1784.3,1160.4 L1785.0,1160.4 L1785.7,1160.4 L1786.4,1160.4 L1787.1,1160.4 L1787.8,1160.4 L1788.5,1160.4 L1789.2,1160.4 L1789.9,1160.4 L1790.6,1160.4 L1791.3,1160.4 L1792.0,1160.4 L1792.7,1160.4 L1793.4,1160.4 L1794.1,1160.4 L1794.8,1160.4 L1795.5,1160.4 L1796.2,1160.4 L1796.9,1160.4 L1797.6,1160.4 L1798.3,1160.4 L1799.0,1160.4 L1799.7,1160.4 L1800.4,1160.4 L1801.1,1160.4 L1801.8,1160.4 L1802.5,1160.4 L1803.2,1160.4 L1803.9,1160.4 L1804.6,1160.4 L1805.3,1160.4 L1806.0,1160.4 L1806.7,1160.4 L1807.4,1160.4 L1808.1,1160.4 L1808.8,1160.4 L1809.5,1160.4 L1810.2,1160.4 L1810.9,1160.4 L1811.6,1160.4 L1812.3,1160.4 L1813.0,1160.4 L1813.7,1160.4 L1814.4,1160.4 L1815.1,1160.4 L1815.8,1160.4 L1816.5,1160.4 L1817.2,1160.4 L1817.9,1160.4 L1818.6,1160.4 L1819.3,1160.4 L1820.0,1160.4 L1820.7,1160.4 L1821.4,1160.4 L1822.1,1160.4 L1822.8,1160.4 L1823.5,1160.4 L1824.2,1160.4 L1824.9,1160.4 L1825.6,1160.4 L1826.3,1160.4 L1827.0,1160.4 L1827.7,1160.4 L1828.4,1160.4 L1829.1,1160.4 L1829.8,1160.4 L1830.5,1160.4 L1831.2,1160.4 L1831.9,1160.3 L1832.6,1160.3 L1833.3,1160.3 L1834.0,1160.3 L1834.7,1160.3 L1835.4,1160.3 L1836.1,1160.3 L1836.8,1160.3 L1837.5,1160.3 L1838.2,1160.3 L1838.9,1160.3 L1839.6,1160.3 L1840.3,1160.3 L1841.0,1160.3 L1841.7,1160.3 L1842.4,1160.3 L1843.1,1160.3 L1843.8,1160.3 L1844.5,1160.3 L1845.2,1160.3 L1845.9,1160.3 L1846.6,1160.2 L1847.3,1160.2 L1848.0,1160.2 L1848.7,1160.2 L1849.4,1160.2 L1850.1,1160.2 L1850.8,1160.2 L1851.5,1160.2 L1852.2,1160.2 L1852.9,1160.1 L1853.6,1160.1 L1854.3,1160.1 L1855.0,1160.1 L1855.7,1160.1 L1856.4,1160.1 L1857.1,1160.0 L1857.8,1160.0 L1858.5,1160.0 L1859.2,1160.0 L1859.9,1159.9 L1860.6,1159.9 L1861.3,1159.9 L1862.0,1159.8 L1862.7,1159.8 L1863.4,1159.8 L1864.1,1159.7 L1864.8,1159.7 L1865.5,1159.6 L1866.2,1159.5 L1866.9,1159.5 L1867.6,1159.4 L1868.3,1159.3 L1869.0,1159.2 L1869.7,1159.1 L1870.4,1159.0 L1871.1,1158.8 L1871.8,1158.7 L1872.5,1158.5 L1873.2,1158.2 L1873.9,1157.9 L1874.6,1157.6 L1875.3,1157.2 L1876.0,1156.7 L1876.7,1156.1 L1877.4,1155.4 L1878.1,1154.4 L1878.8,1153.2 L1879.5,1151.5 L1880.2,1149.2 L1880.9,1145.9 L1881.6,1141.0 L1882.3,1133.4 L1883.0,1121.1 L1883.7,1100.7 L1884.4,1068.5 L1885.1,1032.9 L1885.8,1029.6 L1886.5,1063.0 L1887.2,1096.8 L1887.9,1118.8 L1888.6,1132.0 L1889.3,1140.1 L1890.0,1145.3 L1890.7,1148.8 L1891.4,1151.2 L1892.1,1153.0 L1892.8,1154.3 L1893.5,1155.3 L1894.2,1156.0 L1894.9,1156.7 L1895.6,1157.2 L1896.3,1157.6 L1897.0,1157.9 L1897.7,1158.2 L1898.4,1158.4 L1899.1,1158.6 L1899.8,1158.8 L1900.5,1159.0 L1901.2,1159.1 L1901.9,1159.2 L1902.6,1159.3 L1903.3,1159.4 L1904.0,1159.5 L1904.7,1159.5 L1905.4,1159.6 L1906.1,1159.7 L1906.8,1159.7 L1907.5,1159.8 L1908.2,1159.8 L1908.9,1159.8 L1909.6,1159.9 L1910.3,1159.9 L1911.0,1159.9 L1911.7,1160.0 L1912.4,1160.0 L1913.1,1160.0 L1913.8,1160.0 L1914.5,1160.1 L1915.2,1160.1 L1915.9,1160.1 L1916.6,1160.1 L1917.3,1160.1 L1918.0,1160.1 L1918.7,1160.2 L1919.4,1160.2 L1920.1,1160.2 L1920.8,1160.2 L1921.5,1160.2 L1922.2,1160.2 L1922.9,1160.2 L1923.6,1160.2 L1924.3,1160.2 L1925.0,1160.3 L1925.7,1160.3 L1926.4,1160.3 L1927.1,1160.3 L1927.8,1160.3 L1928.5,1160.3 L1929.2,1160.3 L1929.9,1160.3 L1930.6,1160.3 L1931.3,1160.3 L1932.0,1160.3 L1932.7,1160.3 L1933.4,1160.3 L1934.1,1160.3 L1934.8,1160.3 L1935.5,1160.3 L1936.2,1160.3 L1936.9,1160.3 L1937.6,1160.3 L1938.3,1160.3 L1939.0,1160.3 L1939.7,1160.4 L1940.4,1160.4 L1941.1,1160.4 L1941.8,1160.4 L1942.5,1160.4 L1943.2,1160.4 L1943.9,1160.4 L1944.6,1160.4 L1945.3,1160.4 L1946.0,1160.4 L1946.7,1160.4 L1947.4,1160.4 L1948.1,1160.4 L1948.8,1160.4 L1949.5,1160.4 L1950.2,1160.4 L1950.9,1160.4 L1951.6,1160.4 L1952.3,1160.4 L1953.0,1160.4 L1953.7,1160.4 L1954.4,1160.4 L1955.1,1160.4 L1955.8,1160.4 L1956.5,1160.4 L1957.2,1160.4 L1957.9,1160.4 L1958.6,1160.4 L1959.3,1160.4 L1960.0,1160.4 L1960.7,1160.4 L1961.4,1160.4 L1962.1,1160.4 L1962.8,1160.4 L1963.5,1160.4 L1964.2,1160.4 L1964.9,1160.4 L1965.6,1160.4 L1966.3,1160.4 L1967.0,1160.4 L1967.7,1160.4 L1968.4,1160.4 L1969.1,1160.4 L1969.8,1160.4 L1970.5,1160.4 L1971.2,1160.4 L1971.9,1160.4 L1972.6,1160.4 L1973.3,1160.4 L1974.0,1160.4 L1974.7,1160.4 L1975.4,1160.4 L1976.1,1160.4 L1976.8,1160.4 L1977.5,1160.4 L1978.2,1160.4 L1978.9,1160.4 L1979.6,1160.4 L1980.3,1160.4 L1981.0,1160.4 L1981.7,1160.4 L1982.4,1160.4 L1983.1,1160.4 L1983.8,1160.4 L1984.5,1160.4 L1985.2,1160.4 L1985.9,1160.4 L1986.6,1160.4 L1987.3,1160.4 L1988.0,1160.4 L1988.7,1160.4 L1989.4,1160.4 L1990.1,1160.4 L1990.8,1160.4 L1991.5,1160.4 L1992.2,1160.4 L1992.9,1160.4 L1993.6,1160.4 L1994.3,1160.4 L1995.0,1160.4 L1995.7,1160.4 L1996.4,1160.4 L1997.1,1160.4 L1997.8,1160.4 L1998.5,1160.4 L1999.2,1160.4 L1999.9,1160.4 L2000.6,1160.4 L2001.3,1160.4 L2002.0,1160.4 L2002.7,1160.4 L2003.4,1160.4 L2004.1,1160.4 L2004.8,1160.4 L2005.5,1160.4 L2006.2,1160.4 L2006.9,1160.4 L2007.6,1160.4 L2008.3,1160.4 L2009.0,1160.4 L2009.7,1160.4 L2010.4,1160.4 L2011.1,1160.4 L2011.8,1160.4 L2012.5,1160.4 L2013.2,1160.4 L2013.9,1160.4 L2014.6,1160.4 L2015.3,1160.4 L2016.0,1160.4 L2016.7,1160.4 L2017.4,1160.4 L2018.1,1160.4 L2018.8,1160.4 L2019.5,1160.4 L2020.2,1160.4 L2020.9,1160.3 L2021.6,1160.3 L2022.3,1160.3 L2023.0,1160.3 L2023.7,1160.3 L2024.4,1160.3 L2025.1,1160.3 L2025.8,1160.3 L2026.5,1160.3 L2027.2,1160.3 L2027.9,1160.3 L2028.6,1160.3 L2029.3,1160.3 L2030.0,1160.3 L2030.7,1160.3 L2031.4,1160.3 L2032.1,1160.3 L2032.8,1160.3 L2033.5,1160.3 L2034.2,1160.3 L2034.9,1160.3 L2035.6,1160.2 L2036.3,1160.2 L2037.0,1160.2 L2037.7,1160.2 L2038.4,1160.2 L2039.1,1160.2 L2039.8,1160.2 L2040.5,1160.2 L2041.2,1160.2 L2041.9,1160.2 L2042.6,1160.1 L2043.3,1160.1 L2044.0,1160.1 L2044.7,1160.1 L2045.4,1160.1 L2046.1,1160.1 L2046.8,1160.0 L2047.5,1160.0 L2048.2,1160.0 L2048.9,1160.0 L2049.6,1159.9 L2050.3,1159.9 L2051.0,1159.9 L2051.7,1159.8 L2052.4,1159.8 L2053.1,1159.7 L2053.8,1159.7 L2054.5,1159.6 L2055.2,1159.6 L2055.9,1159.5 L2056.6,1159.4 L2057.3,1159.4 L2058.0,1159.3 L2058.7,1159.2 L2059.4,1159.0 L2060.1,1158.9 L2060.8,1158.7 L2061.5,1158.6 L2062.2,1158.3 L2062.9,1158.1 L2063.6,1157.8 L2064.3,1157.4 L2065.0,1157.0 L2065.7,1156.5 L2066.4,1155.8 L2067.1,1155.0 L2067.8,1153.9 L2068.5,1152.5 L2069.2,1150.7 L2069.9,1148.0 L2070.6,1144.3 L2071.3,1138.6 L2072.0,1129.7 L2072.7,1115.2 L2073.4,1091.0 L2074.1,1055.0 L2074.8,1023.7 L2075.5,1033.9 L2076.2,1071.6 L2076.9,1102.8 L2077.6,1122.3 L2078.3,1134.0 L2079.0,1141.3 L2079.7,1146.1 L2080.4,1149.3 L2081.1,1151.5 L2081.8,1153.2 L2082.5,1154.4 L2083.2,1155.4 L2083.9,1156.1 L2084.6,1156.7 L2085.3,1157.2 L2086.0,1157.6 L2086.7,1157.9 L2087.4,1158.2 L2088.1,1158.4 L2088.8,1158.6 L2089.5,1158.8 L2090.2,1159.0 L2090.9,1159.1 L2091.6,1159.2 L2092.3,1159.3 L2093.0,1159.4 L2093.7,1159.5 L2094.4,1159.5 L2095.1,1159.6 L2095.8,1159.7 L2096.5,1159.7 L2097.2,1159.8 L2097.9,1159.8 L2098.6,1159.8 L2099.3,1159.9 L2100.0,1159.9 L2100.7,1159.9 L2101.4,1160.0 L2102.1,1160.0 L2102.8,1160.0 L2103.5,1160.0 L2104.2,1160.1 L2104.9,1160.1 L2105.6,1160.1 L2106.3,1160.1 L2107.0,1160.1 L2107.7,1160.1 L2108.4,1160.2 L2109.1,1160.2 L2109.8,1160.2 L2110.5,1160.2 L2111.2,1160.2 L2111.9,1160.2 L2112.6,1160.2 L2113.3,1160.2 L2114.0,1160.2 L2114.7,1160.3 L2115.4,1160.3 L2116.1,1160.3 L2116.8,1160.3 L2117.5,1160.3 L2118.2,1160.3 L2118.9,1160.3 L2119.6,1160.3 L2120.3,1160.3 L2121.0,1160.3 L2121.7,1160.3 L2122.4,1160.3 L2123.1,1160.3 L2123.8,1160.3 L2124.5,1160.3 L2125.2,1160.3 L2125.9,1160.3 L2126.6,1160.3 L2127.3,1160.3 L2128.0,1160.3 L2128.7,1160.3 L2129.4,1160.4 L2130.1,1160.4 L2130.8,1160.4 L2131.5,1160.4 L2132.2,1160.4 L2132.9,1160.4 L2133.6,1160.4 L2134.3,1160.4 L2135.0,1160.4 L2135.7,1160.4 L2136.4,1160.4 L2137.1,1160.4 L2137.8,1160.4 L2138.5,1160.4 L2139.2,1160.4 L2139.9,1160.4 L2140.6,1160.4 L2141.3,1160.4 L2142.0,1160.4 L2142.7,1160.4 L2143.4,1160.4 L2144.1,1160.4 L2144.8,1160.4 L2145.5,1160.4 L2146.2,1160.4 L2146.9,1160.4 L2147.6,1160.4 L2148.3,1160.4 L2149.0,1160.4 L2149.7,1160.4 L2150.4,1160.4 L2151.1,1160.4 L2151.8,1160.4 L2152.5,1160.4 L2153.2,1160.4 L2153.9,1160.4 L2154.6,1160.4 L2155.3,1160.4 L2156.0,1160.4 L2156.7,1160.4 L2157.4,1160.4 L2158.1,1160.4 L2158.8,1160.4 L2159.5,1160.4 L2160.2,1160.4 L2160.9,1160.4 L2161.6,1160.4 L2162.3,1160.4 L2163.0,1160.4 L2163.7,1160.4 L2164.4,1160.4 L2165.1,1160.4 L2165.8,1160.4 L2166.5,1160.4 L2167.2,1160.4 L2167.9,1160.4 L2168.6,1160.4 L2169.3,1160.4 L2170.0,1160.4 L2170.7,1160.4 L2171.4,1160.4 L2172.1,1160.4 L2172.8,1160.4 L2173.5,1160.4 L2174.2,1160.4 L2174.9,1160.4 L2175.6,1160.4 L2176.3,1160.4 L2177.0,1160.4 L2177.7,1160.4 L2178.4,1160.4 L2179.1,1160.4 L2179.8,1160.4 L2180.5,1160.4 L2181.2,1160.4 L2181.9,1160.4 L2182.6,1160.4 L2183.3,1160.4 L2184.0,1160.4 L2184.7,1160.4 L2185.4,1160.4 L2186.1,1160.4 L2186.8,1160.4 L2187.5,1160.4 L2188.2,1160.4 L2188.9,1160.4 L2189.6,1160.4 L2190.3,1160.4 L2191.0,1160.4 L2191.7,1160.4 L2192.4,1160.4 L2193.1,1160.4 L2193.8,1160.4 L2194.5,1160.4 L2195.2,1160.4 L2195.9,1160.4 L2196.6,1160.4 L2197.3,1160.4 L2198.0,1160.4 L2198.7,1160.4 L2199.4,1160.4 L2200.1,1160.4 L2200.8,1160.4 L2201.5,1160.4 L2202.2,1160.4 L2202.9,1160.4 L2203.6,1160.4 L2204.3,1160.4 L2205.0,1160.4 L2205.7,1160.4 L2206.4,1160.4 L2207.1,1160.4 L2207.8,1160.4 L2208.5,1160.4 L2209.2,1160.4 L2209.9,1160.4 L2210.6,1160.4 L2211.3,1160.4 L2212.0,1160.4 L2212.7,1160.4 L2213.4,1160.4 L2214.1,1160.3 L2214.8,1160.3 L2215.5,1160.3 L2216.2,1160.3 L2216.9,1160.3 L2217.6,1160.3 L2218.3,1160.3 L2219.0,1160.3 L2219.7,1160.3 L2220.4,1160.3 L2221.1,1160.3 L2221.8,1160.3 L2222.5,1160.3 L2223.2,1160.3 L2223.9,1160.3 L2224.6,1160.3 L2225.3,1160.3 L2226.0,1160.3 L2226.7,1160.3 L2227.4,1160.2 L2228.1,1160.2 L2228.8,1160.2 L2229.5,1160.2 L2230.2,1160.2 L2230.9,1160.2 L2231.6,1160.2 L2232.3,1160.2 L2233.0,1160.2 L2233.7,1160.1 L2234.4,1160.1 L2235.1,1160.1 L2235.8,1160.1 L2236.5,1160.1 L2237.2,1160.1 L2237.9,1160.0 L2238.6,1160.0 L2239.3,1160.0 L2240.0,1159.9 L2240.7,1159.9 L2241.4,1159.9 L2242.1,1159.8 L2242.8,1159.8 L2243.5,1159.8 L2244.2,1159.7 L2244.9,1159.7 L2245.6,1159.6 L2246.3,1159.5 L2247.0,1159.5 L2247.7,1159.4 L2248.4,1159.3 L2249.1,1159.2 L2249.8,1159.1 L2250.5,1158.9 L2251.2,1158.8 L2251.9,1158.6 L2252.6,1158.3 L2253.3,1158.1 L2254.0,1157.8 L2254.7,1157.4 L2255.4,1157.0 L2256.1,1156.4 L2256.8,1155.7 L2257.5,1154.8 L2258.2,1153.6 L2258.9,1152.1 L2259.6,1150.0 L2260.3,1146.9 L2261.0,1142.5 L2261.7,1135.6 L2262.4,1124.6 L2263.1,1106.3 L2263.8,1077.0 L2264.5,1041.6 L2265.2,1032.0 L2265.9,1061.4 L2266.6,1095.2 L2267.3,1117.9 L2268.0,1131.6 L2268.7,1139.9 L2269.4,1145.2 L2270.1,1148.8 L2270.8,1151.3 L2271.5,1153.0 L2272.2,1154.3 L2272.9,1155.3 L2273.6,1156.1 L2274.3,1156.7 L2275.0,1157.2 L2275.7,1157.6 L2276.4,1158.0 L2277.1,1158.2 L2277.8,1158.5 L2278.5,1158.7 L2279.2,1158.9 L2279.9,1159.0 L2280.6,1159.1 L2281.3,1159.2 L2282.0,1159.3 L2282.7,1159.4 L2283.4,1159.5 L2284.1,1159.6 L2284.8,1159.6 L2285.5,1159.7 L2286.2,1159.7 L2286.9,1159.8 L2287.6,1159.8 L2288.3,1159.9 L2289.0,1159.9 L2289.7,1159.9 L2290.4,1160.0 L2291.1,1160.0 L2291.8,1160.0 L2292.5,1160.0 L2293.2,1160.1 L2293.9,1160.1 L2294.6,1160.1 L2295.3,1160.1 L2296.0,1160.1 L2296.7,1160.2 L2297.4,1160.2 L2298.1,1160.2 L2298.8,1160.2 L2299.5,1160.2 L2300.2,1160.2 L2300.9,1160.2 L2301.6,1160.2 L2302.3,1160.2 L2303.0,1160.3 L2303.7,1160.3 L2304.4,1160.3 L2305.1,1160.3 L2305.8,1160.3 L2306.5,1160.3 L2307.2,1160.3 L2307.9,1160.3 L2308.6,1160.3 L2309.3,1160.3 L2310.0,1160.3 L2310.7,1160.3 L2311.4,1160.3 L2312.1,1160.3 L2312.8,1160.3 L2313.5,1160.3 L2314.2,1160.4 L2314.9,1160.4 L2315.6,1160.4 L2316.3,1160.4 L2317.0,1160.4 L2317.7,1160.4 L2318.4,1160.4 L2319.1,1160.4 L2319.8,1160.4 L2320.5,1160.4 L2321.2,1160.4 L2321.9,1160.4 L2322.6,1160.4 L2323.3,1160.4 L2324.0,1160.4 L2324.7,1160.4 L2325.4,1160.4 L2326.1,1160.4 L2326.8,1160.4 L2327.5,1160.4 L2328.2,1160.4 L2328.9,1160.4 L2329.6,1160.4 L2330.3,1160.4 L2331.0,1160.4 L2331.7,1160.4 L2332.4,1160.4 L2333.1,1160.4 L2333.8,1160.4 L2334.5,1160.4 L2335.2,1160.4 L2335.9,1160.4 L2336.6,1160.4 L2337.3,1160.4 L2338.0,1160.4 L2338.7,1160.4 L2339.4,1160.4 L2340.1,1160.4 L2340.8,1160.4 L2341.5,1160.4 L2342.2,1160.4 L2342.9,1160.4 L2343.6,1160.4 L2344.3,1160.4 L2345.0,1160.4 L2345.7,1160.4 L2346.4,1160.4 L2347.1,1160.4 L2347.8,1160.4 L2348.5,1160.4 L2349.2,1160.4 L2349.9,1160.4 L2350.6,1160.4 L2351.3,1160.4 L2352.0,1160.4 L2352.7,1160.4 L2353.4,1160.4 L2354.1,1160.5 L2354.8,1160.5 L2355.5,1160.5 L2356.2,1160.5 L2356.9,1160.5 L2357.6,1160.5 L2358.3,1160.5 L2359.0,1160.5 L2359.7,1160.5 L2360.4,1160.5 L2361.1,1160.5 L2361.8,1160.5 L2362.5,1160.5 L2363.2,1160.5 L2363.9,1160.5 L2364.6,1160.5 L2365.3,1160.5 L2366.0,1160.5 L2366.7,1160.5 L2367.4,1160.5 L2368.1,1160.5 L2368.8,1160.5 L2369.5,1160.5 L2370.2,1160.5 L2370.9,1160.5 L2371.6,1160.5 L2372.3,1160.5 L2373.0,1160.5 L2373.7,1160.5 L2374.4,1160.5 L2375.1,1160.5 L2375.8,1160.5 L2376.5,1160.5 L2377.2,1160.5 L2377.9,1160.5 L2378.6,1160.5 L2379.3,1160.5 L2380.0,1160.5 L2380.7,1160.5 L2381.4,1160.5 L2382.1,1160.5 L2382.8,1160.5 L2383.5,1160.5 L2384.2,1160.5 L2384.9,1160.5 L2385.6,1160.5 L2386.3,1160.5 L2387.0,1160.5 L2387.7,1160.5 L2388.4,1160.5 L2389.1,1160.5 L2389.8,1160.5 L2390.5,1160.5" fill="none" stroke="#5fe000" stroke-width="12" stroke-linejoin="round" stroke-linecap="round"/>
<line x1="1319" y1="1240.8" x2="1319" y2="1366" stroke="#000" stroke-width="11" stroke-linecap="round"/>
<line x1="1508" y1="1237.5" x2="1508" y2="1366" stroke="#000" stroke-width="11" stroke-linecap="round"/>
<line x1="1697" y1="1234" x2="1697" y2="1366" stroke="#000" stroke-width="11" stroke-linecap="round"/>
<line x1="1885.5" y1="1237.4" x2="1885.5" y2="1366" stroke="#000" stroke-width="11" stroke-linecap="round"/>
<line x1="2075" y1="1242.5" x2="2075" y2="1366" stroke="#000" stroke-width="11" stroke-linecap="round"/>
<line x1="2265" y1="1242.5" x2="2265" y2="1366" stroke="#000" stroke-width="11" stroke-linecap="round"/>
<rect x="1265.25" y="1362" width="1143.0" height="25" rx="5" fill="#000"/>
<text transform="translate(1308.03,1008.70) scale(1.0976,1)" font-family="'Liberation Sans', Arial, sans-serif" font-weight="normal" font-size="55.36" fill="#66d400" stroke="#66d400" stroke-width="2.2" stroke-linejoin="round">InN (1012)</text>
<text transform="translate(1302.58,1227.40) scale(1.0318,1)" font-family="'Liberation Sans', Arial, sans-serif" font-weight="normal" font-size="58.55" fill="#000" stroke="#000" stroke-width="1.2">GaN (1012)</text>
<text transform="translate(2227.16,1001.40) scale(1.0731,1)" font-family="'Liberation Sans', Arial, sans-serif" font-weight="bold" font-size="45.71" fill="#8bcc3a" >470 °C</text>
<rect x="1505.8" y="49.7" width="30.200000000000045" height="4.5" fill="#ff0000"/>
<rect x="1532.8" y="275" width="28.600000000000136" height="4.5" fill="#000"/>
<rect x="1509.5" y="495" width="27.5" height="4.5" fill="#8508f8"/>
<rect x="1540" y="730" width="24.59999999999991" height="4.5" fill="#000"/>
<rect x="1524.9" y="956" width="23.59999999999991" height="4.5" fill="#66d400"/>
<rect x="1533" y="1173.4" width="27" height="4.5" fill="#000"/>
<line x1="1277.8" y1="56.5" x2="1292.8" y2="56.5" stroke="#000" stroke-width="10" stroke-linecap="round"/>
<line x1="1277.8" y1="125.0" x2="1281.2" y2="125.0" stroke="#000" stroke-width="10" stroke-linecap="round"/>
<line x1="1277.8" y1="193.5" x2="1292.8" y2="193.5" stroke="#000" stroke-width="10" stroke-linecap="round"/>
<line x1="1277.8" y1="262.0" x2="1281.2" y2="262.0" stroke="#000" stroke-width="10" stroke-linecap="round"/>
<line x1="1277.8" y1="330.5" x2="1292.8" y2="330.5" stroke="#000" stroke-width="10" stroke-linecap="round"/>
<line x1="1277.8" y1="399.0" x2="1281.2" y2="399.0" stroke="#000" stroke-width="10" stroke-linecap="round"/>
<line x1="1277.8" y1="506.5" x2="1292.8" y2="506.5" stroke="#000" stroke-width="10" stroke-linecap="round"/>
<line x1="1277.8" y1="575.0" x2="1281.2" y2="575.0" stroke="#000" stroke-width="10" stroke-linecap="round"/>
<line x1="1277.8" y1="643.5" x2="1292.8" y2="643.5" stroke="#000" stroke-width="10" stroke-linecap="round"/>
<line x1="1277.8" y1="712.0" x2="1281.2" y2="712.0" stroke="#000" stroke-width="10" stroke-linecap="round"/>
<line x1="1277.8" y1="780.5" x2="1292.8" y2="780.5" stroke="#000" stroke-width="10" stroke-linecap="round"/>
<line x1="1277.8" y1="849.0" x2="1281.2" y2="849.0" stroke="#000" stroke-width="10" stroke-linecap="round"/>
<line x1="1277.8" y1="957.5" x2="1292.8" y2="957.5" stroke="#000" stroke-width="10" stroke-linecap="round"/>
<line x1="1277.8" y1="1026.0" x2="1281.2" y2="1026.0" stroke="#000" stroke-width="10" stroke-linecap="round"/>
<line x1="1277.8" y1="1094.5" x2="1292.8" y2="1094.5" stroke="#000" stroke-width="10" stroke-linecap="round"/>
<line x1="1277.8" y1="1163.0" x2="1281.2" y2="1163.0" stroke="#000" stroke-width="10" stroke-linecap="round"/>
<line x1="1277.8" y1="1231.5" x2="1292.8" y2="1231.5" stroke="#000" stroke-width="10" stroke-linecap="round"/>
<line x1="1277.8" y1="1300.0" x2="1281.2" y2="1300.0" stroke="#000" stroke-width="10" stroke-linecap="round"/>
<line x1="1348.5" y1="37.0" x2="1348.5" y2="48.0" stroke="#000" stroke-width="10" stroke-linecap="round"/>
<line x1="1505.8" y1="37.0" x2="1505.8" y2="58.0" stroke="#000" stroke-width="10" stroke-linecap="round"/>
<line x1="1663.0" y1="37.0" x2="1663.0" y2="48.0" stroke="#000" stroke-width="10" stroke-linecap="round"/>
<line x1="1822.0" y1="37.0" x2="1822.0" y2="58.0" stroke="#000" stroke-width="10" stroke-linecap="round"/>
<line x1="1978.2" y1="37.0" x2="1978.2" y2="48.0" stroke="#000" stroke-width="10" stroke-linecap="round"/>
<line x1="2135.5" y1="37.0" x2="2135.5" y2="58.0" stroke="#000" stroke-width="10" stroke-linecap="round"/>
<line x1="2292.8" y1="37.0" x2="2292.8" y2="48.0" stroke="#000" stroke-width="10" stroke-linecap="round"/>
<line x1="1317.0" y1="1387.0" x2="1317.0" y2="1405.5" stroke="#000" stroke-width="10" stroke-linecap="round"/>
<line x1="1380.0" y1="1387.0" x2="1380.0" y2="1396.5" stroke="#000" stroke-width="10" stroke-linecap="round"/>
<line x1="1443.1" y1="1387.0" x2="1443.1" y2="1405.5" stroke="#000" stroke-width="10" stroke-linecap="round"/>
<line x1="1506.1" y1="1387.0" x2="1506.1" y2="1396.5" stroke="#000" stroke-width="10" stroke-linecap="round"/>
<line x1="1569.1" y1="1387.0" x2="1569.1" y2="1405.5" stroke="#000" stroke-width="10" stroke-linecap="round"/>
<line x1="1632.2" y1="1387.0" x2="1632.2" y2="1396.5" stroke="#000" stroke-width="10" stroke-linecap="round"/>
<line x1="1695.2" y1="1387.0" x2="1695.2" y2="1405.5" stroke="#000" stroke-width="10" stroke-linecap="round"/>
<line x1="1758.3" y1="1387.0" x2="1758.3" y2="1396.5" stroke="#000" stroke-width="10" stroke-linecap="round"/>
<line x1="1821.3" y1="1387.0" x2="1821.3" y2="1405.5" stroke="#000" stroke-width="10" stroke-linecap="round"/>
<line x1="1884.3" y1="1387.0" x2="1884.3" y2="1396.5" stroke="#000" stroke-width="10" stroke-linecap="round"/>
<line x1="1947.4" y1="1387.0" x2="1947.4" y2="1405.5" stroke="#000" stroke-width="10" stroke-linecap="round"/>
<line x1="2010.4" y1="1387.0" x2="2010.4" y2="1396.5" stroke="#000" stroke-width="10" stroke-linecap="round"/>
<line x1="2073.5" y1="1387.0" x2="2073.5" y2="1405.5" stroke="#000" stroke-width="10" stroke-linecap="round"/>
<line x1="2136.5" y1="1387.0" x2="2136.5" y2="1396.5" stroke="#000" stroke-width="10" stroke-linecap="round"/>
<line x1="2199.5" y1="1387.0" x2="2199.5" y2="1405.5" stroke="#000" stroke-width="10" stroke-linecap="round"/>
<line x1="2262.6" y1="1387.0" x2="2262.6" y2="1396.5" stroke="#000" stroke-width="10" stroke-linecap="round"/>
<line x1="2325.6" y1="1387.0" x2="2325.6" y2="1405.5" stroke="#000" stroke-width="10" stroke-linecap="round"/>
<line x1="2388.7" y1="1387.0" x2="2388.7" y2="1396.5" stroke="#000" stroke-width="10" stroke-linecap="round"/>
<path d="M1271.5,1374 L1271.5,30.7 L2402.0,30.7 L2402.0,1380" fill="none" stroke="#000" stroke-width="12.5" stroke-linejoin="round"/>
<text transform="translate(1279.07,1464.80) scale(0.9396,1)" font-family="'Liberation Sans', Arial, sans-serif" font-weight="normal" font-size="58.57" fill="#000" stroke="#000" stroke-width="0.9">160</text>
<text x="1253.61" y="1462.00" font-family="'Liberation Sans', Arial, sans-serif" font-size="41.80" stroke="#000" stroke-width="1.6">−</text>
<text transform="translate(1405.90,1464.80) scale(0.9330,1)" font-family="'Liberation Sans', Arial, sans-serif" font-weight="normal" font-size="58.57" fill="#000" stroke="#000" stroke-width="0.9">120</text>
<text x="1382.65" y="1462.39" font-family="'Liberation Sans', Arial, sans-serif" font-size="42.95" stroke="#000" stroke-width="1.6">−</text>
<text transform="translate(1545.88,1464.80) scale(0.9561,1)" font-family="'Liberation Sans', Arial, sans-serif" font-weight="normal" font-size="58.57" fill="#000" stroke="#000" stroke-width="0.9">80</text>
<text x="1516.77" y="1461.62" font-family="'Liberation Sans', Arial, sans-serif" font-size="40.65" stroke="#000" stroke-width="1.6">−</text>
<text transform="translate(1670.98,1464.80) scale(0.9721,1)" font-family="'Liberation Sans', Arial, sans-serif" font-weight="normal" font-size="58.57" fill="#000" stroke="#000" stroke-width="0.9">40</text>
<text x="1641.67" y="1462.26" font-family="'Liberation Sans', Arial, sans-serif" font-size="42.57" stroke="#000" stroke-width="1.6">−</text>
<text transform="translate(1802.37,1464.80) scale(0.9956,1)" font-family="'Liberation Sans', Arial, sans-serif" font-weight="normal" font-size="58.57" fill="#000" stroke="#000" stroke-width="0.9">0</text>
<text transform="translate(1917.07,1464.80) scale(0.9068,1)" font-family="'Liberation Sans', Arial, sans-serif" font-weight="normal" font-size="58.57" fill="#000" stroke="#000" stroke-width="0.9">40</text>
<text transform="translate(2042.02,1464.80) scale(0.9028,1)" font-family="'Liberation Sans', Arial, sans-serif" font-weight="normal" font-size="58.57" fill="#000" stroke="#000" stroke-width="0.9">80</text>
<text transform="translate(2151.32,1464.80) scale(0.9297,1)" font-family="'Liberation Sans', Arial, sans-serif" font-weight="normal" font-size="58.57" fill="#000" stroke="#000" stroke-width="0.9">120</text>
<text transform="translate(2275.85,1464.80) scale(0.9451,1)" font-family="'Liberation Sans', Arial, sans-serif" font-weight="normal" font-size="58.57" fill="#000" stroke="#000" stroke-width="0.9">160</text>
<text transform="translate(1563.49,1548.30) scale(0.9585,1)" font-family="'Liberation Sans', Arial, sans-serif" font-weight="bold" font-size="67.54" fill="#000" >Phi-scan (degree)</text>
<text transform="translate(1196.00,1254.59) rotate(-90) scale(0.9777,1)" font-family="'Liberation Sans', Arial, sans-serif" font-weight="bold" font-size="70.58" fill="#000" >Normalized Intensity (arb. unit)</text>
<text transform="translate(1120.09,111.80) scale(1.0006,1)" font-family="'Liberation Serif', 'Times New Roman', serif" font-weight="bold" font-size="117.99" fill="#000" >(b)</text></svg>
</body></html>
